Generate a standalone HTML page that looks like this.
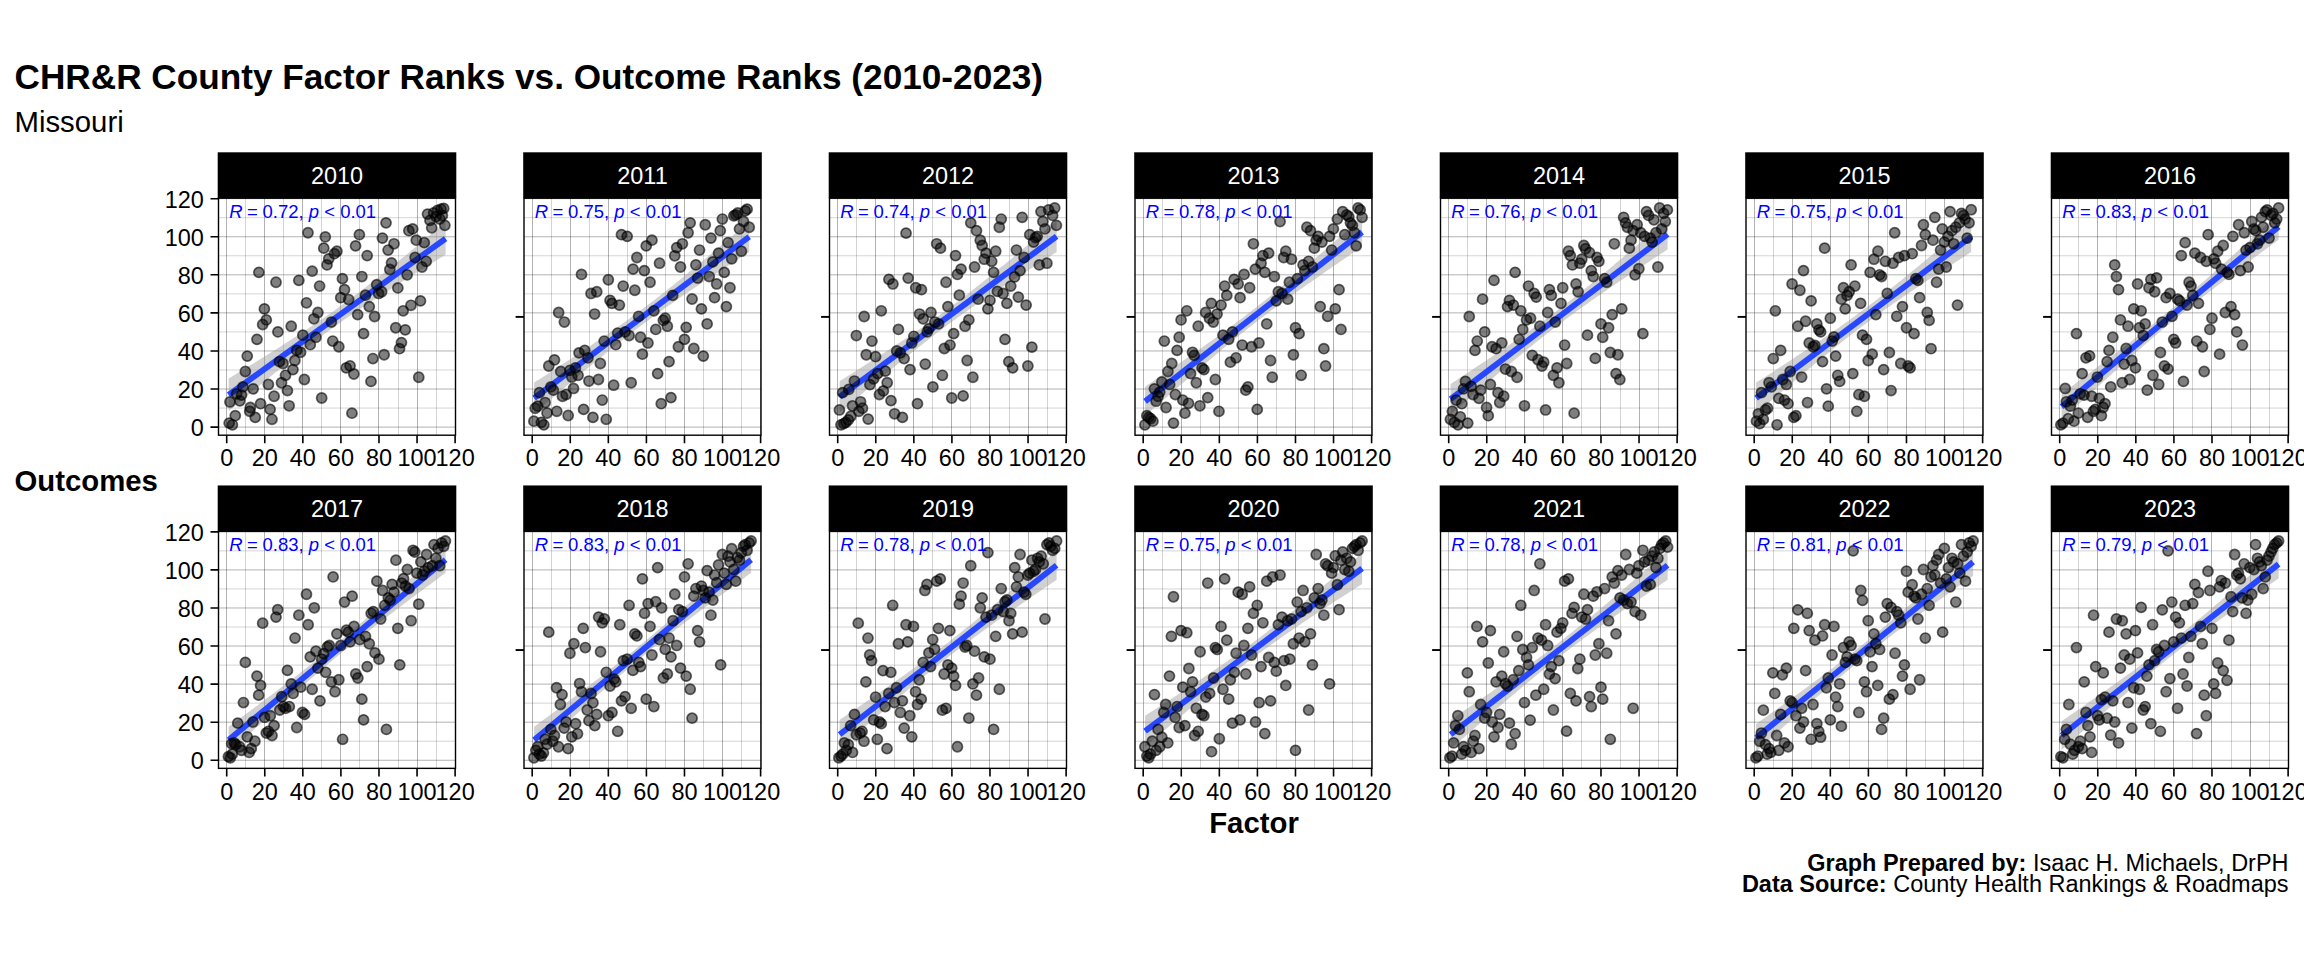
<!DOCTYPE html>
<html lang="en"><head><meta charset="utf-8"><title>CHR&amp;R County Factor Ranks vs. Outcome Ranks (2010-2023) - Missouri</title>
<style>html,body{margin:0;padding:0;background:#fff;width:2304px;height:960px;overflow:hidden}svg{display:block}</style></head>
<body>
<svg width="2304" height="960" viewBox="0 0 2304 960" font-family="Liberation Sans, Arial, Helvetica, sans-serif">
<rect width="2304" height="960" fill="#fff"/>
<text x="14.5" y="89.3" font-size="35.2" font-weight="bold" fill="#000">CHR&amp;R County Factor Ranks vs. Outcome Ranks (2010-2023)</text>
<text x="14.5" y="132" font-size="29.33" fill="#000">Missouri</text>
<text x="14.5" y="491" font-size="29.33" font-weight="bold" fill="#000">Outcomes</text>
<text x="1254" y="833.2" font-size="29.33" font-weight="bold" text-anchor="middle" fill="#000">Factor</text>
<text x="2288.5" y="871" font-size="23.47" text-anchor="end" fill="#000"><tspan font-weight="bold">Graph Prepared by:</tspan> Isaac H. Michaels, DrPH</text>
<text x="2288.5" y="892" font-size="23.47" text-anchor="end" fill="#000"><tspan font-weight="bold">Data Source:</tspan> County Health Rankings &amp; Roadmaps</text>
<g>
<rect x="218.5" y="198.2" width="237" height="237" fill="#fff"/>
<path d="M245.5 198.2V435.2M218.5 408.06H455.5M283.5 198.2V435.2M218.5 369.99H455.5M321.5 198.2V435.2M218.5 331.92H455.5M359.5 198.2V435.2M218.5 293.85H455.5M398.5 198.2V435.2M218.5 255.78H455.5M436.5 198.2V435.2M218.5 217.71H455.5" stroke="#000" stroke-opacity="0.17" stroke-width="1" fill="none"/>
<path d="M226.5 198.2V435.2M218.5 427.1H455.5M264.5 198.2V435.2M218.5 389.03H455.5M302.5 198.2V435.2M218.5 350.96H455.5M340.5 198.2V435.2M218.5 312.89H455.5M378.5 198.2V435.2M218.5 274.82H455.5M417.5 198.2V435.2M218.5 236.75H455.5M455.5 198.2V435.2M218.5 198.68H455.5" stroke="#000" stroke-opacity="0.3" stroke-width="1" fill="none"/>
<path d="M228.6 378.58 L231.32 376.93 L234.03 375.27 L236.74 373.62 L239.45 371.96 L242.17 370.3 L244.88 368.64 L247.59 366.97 L250.3 365.31 L253.02 363.64 L255.73 361.96 L258.44 360.28 L261.15 358.6 L263.87 356.92 L266.58 355.23 L269.29 353.53 L272 351.83 L274.72 350.13 L277.43 348.42 L280.14 346.71 L282.85 344.99 L285.57 343.26 L288.28 341.52 L290.99 339.78 L293.7 338.03 L296.42 336.27 L299.13 334.5 L301.84 332.73 L304.55 330.94 L307.27 329.14 L309.98 327.33 L312.69 325.51 L315.4 323.68 L318.12 321.83 L320.83 319.98 L323.54 318.1 L326.25 316.22 L328.97 314.32 L331.68 312.4 L334.39 310.47 L337.1 308.52 L339.82 306.56 L342.53 304.59 L345.24 302.6 L347.95 300.59 L350.67 298.57 L353.38 296.54 L356.09 294.49 L358.8 292.43 L361.52 290.36 L364.23 288.27 L366.94 286.18 L369.65 284.07 L372.37 281.95 L375.08 279.82 L377.79 277.68 L380.5 275.53 L383.22 273.38 L385.93 271.21 L388.64 269.04 L391.35 266.87 L394.07 264.68 L396.78 262.49 L399.49 260.29 L402.2 258.09 L404.92 255.88 L407.63 253.67 L410.34 251.46 L413.05 249.23 L415.77 247.01 L418.48 244.78 L421.19 242.55 L423.9 240.31 L426.62 238.08 L429.33 235.84 L432.04 233.59 L434.75 231.35 L437.47 229.1 L440.18 226.85 L442.89 224.59 L445.6 222.34 L445.6 254.82 L442.89 256.47 L440.18 258.12 L437.47 259.78 L434.75 261.43 L432.04 263.09 L429.33 264.75 L426.62 266.42 L423.9 268.09 L421.19 269.76 L418.48 271.43 L415.77 273.11 L413.05 274.79 L410.34 276.48 L407.63 278.17 L404.92 279.86 L402.2 281.56 L399.49 283.26 L396.78 284.97 L394.07 286.69 L391.35 288.41 L388.64 290.14 L385.93 291.87 L383.22 293.61 L380.5 295.36 L377.79 297.12 L375.08 298.89 L372.37 300.67 L369.65 302.45 L366.94 304.25 L364.23 306.06 L361.52 307.88 L358.8 309.71 L356.09 311.56 L353.38 313.42 L350.67 315.29 L347.95 317.18 L345.24 319.08 L342.53 320.99 L339.82 322.92 L337.1 324.87 L334.39 326.83 L331.68 328.81 L328.97 330.8 L326.25 332.8 L323.54 334.82 L320.83 336.85 L318.12 338.9 L315.4 340.96 L312.69 343.04 L309.98 345.12 L307.27 347.22 L304.55 349.33 L301.84 351.45 L299.13 353.57 L296.42 355.71 L293.7 357.86 L290.99 360.02 L288.28 362.18 L285.57 364.35 L282.85 366.53 L280.14 368.71 L277.43 370.9 L274.72 373.1 L272 375.3 L269.29 377.51 L266.58 379.72 L263.87 381.94 L261.15 384.16 L258.44 386.38 L255.73 388.61 L253.02 390.84 L250.3 393.08 L247.59 395.32 L244.88 397.56 L242.17 399.8 L239.45 402.05 L236.74 404.3 L234.03 406.55 L231.32 408.8 L228.6 411.06Z" fill="#999" fill-opacity="0.45"/>
<line x1="228.6" y1="394.82" x2="445.6" y2="238.58" stroke="#2748FF" stroke-width="5.9"/>
<g fill="#000" fill-opacity="0.5" stroke="#000" stroke-opacity="0.6" stroke-width="1.7">
<circle cx="229.17" cy="423.1" r="5.05"/>
<circle cx="232.41" cy="424.82" r="5.05"/>
<circle cx="235.27" cy="415.68" r="5.05"/>
<circle cx="229.94" cy="401.97" r="5.05"/>
<circle cx="239.83" cy="400.83" r="5.05"/>
<circle cx="236.6" cy="393.79" r="5.05"/>
<circle cx="241.55" cy="395.12" r="5.05"/>
<circle cx="242.88" cy="386.94" r="5.05"/>
<circle cx="245.35" cy="371.52" r="5.05"/>
<circle cx="247.26" cy="356.1" r="5.05"/>
<circle cx="253.16" cy="388.84" r="5.05"/>
<circle cx="250.3" cy="407.49" r="5.05"/>
<circle cx="249.73" cy="411.3" r="5.05"/>
<circle cx="255.25" cy="417.39" r="5.05"/>
<circle cx="260.58" cy="403.69" r="5.05"/>
<circle cx="268.39" cy="384.46" r="5.05"/>
<circle cx="270.1" cy="409.4" r="5.05"/>
<circle cx="272" cy="419.3" r="5.05"/>
<circle cx="274.1" cy="396.26" r="5.05"/>
<circle cx="256.97" cy="339.35" r="5.05"/>
<circle cx="262.68" cy="324.5" r="5.05"/>
<circle cx="266.29" cy="319.93" r="5.05"/>
<circle cx="264.39" cy="308.89" r="5.05"/>
<circle cx="258.87" cy="272.35" r="5.05"/>
<circle cx="276" cy="282.24" r="5.05"/>
<circle cx="277.9" cy="331.92" r="5.05"/>
<circle cx="279.43" cy="361.62" r="5.05"/>
<circle cx="283.04" cy="363.52" r="5.05"/>
<circle cx="281.52" cy="382.75" r="5.05"/>
<circle cx="285.52" cy="375.32" r="5.05"/>
<circle cx="287.42" cy="390.55" r="5.05"/>
<circle cx="289.13" cy="405.78" r="5.05"/>
<circle cx="292.94" cy="369.61" r="5.05"/>
<circle cx="294.85" cy="360.48" r="5.05"/>
<circle cx="296.75" cy="350.39" r="5.05"/>
<circle cx="300.56" cy="352.29" r="5.05"/>
<circle cx="291.23" cy="326.21" r="5.05"/>
<circle cx="302.84" cy="335.16" r="5.05"/>
<circle cx="304.36" cy="379.51" r="5.05"/>
<circle cx="298.84" cy="280.34" r="5.05"/>
<circle cx="306.46" cy="302.8" r="5.05"/>
<circle cx="310.26" cy="344.68" r="5.05"/>
<circle cx="315.97" cy="337.25" r="5.05"/>
<circle cx="313.88" cy="318.79" r="5.05"/>
<circle cx="317.88" cy="312.51" r="5.05"/>
<circle cx="319.59" cy="286.05" r="5.05"/>
<circle cx="312.17" cy="271.2" r="5.05"/>
<circle cx="307.98" cy="232.75" r="5.05"/>
<circle cx="321.68" cy="397.98" r="5.05"/>
<circle cx="325.3" cy="236.94" r="5.05"/>
<circle cx="323.78" cy="248.17" r="5.05"/>
<circle cx="328.73" cy="258.83" r="5.05"/>
<circle cx="327.01" cy="264.92" r="5.05"/>
<circle cx="334.44" cy="253.69" r="5.05"/>
<circle cx="336.91" cy="251.22" r="5.05"/>
<circle cx="331.39" cy="322.03" r="5.05"/>
<circle cx="332.72" cy="341.06" r="5.05"/>
<circle cx="338.82" cy="346.77" r="5.05"/>
<circle cx="340.72" cy="297.66" r="5.05"/>
<circle cx="344.53" cy="289.67" r="5.05"/>
<circle cx="342.43" cy="278.63" r="5.05"/>
<circle cx="348.71" cy="299.57" r="5.05"/>
<circle cx="346.24" cy="367.9" r="5.05"/>
<circle cx="350.05" cy="365.81" r="5.05"/>
<circle cx="353.85" cy="373.99" r="5.05"/>
<circle cx="351.95" cy="413.2" r="5.05"/>
<circle cx="355.57" cy="245.89" r="5.05"/>
<circle cx="359.37" cy="234.66" r="5.05"/>
<circle cx="357.66" cy="314.6" r="5.05"/>
<circle cx="361.85" cy="276.53" r="5.05"/>
<circle cx="365.47" cy="295.19" r="5.05"/>
<circle cx="367.18" cy="255.59" r="5.05"/>
<circle cx="363.56" cy="333.64" r="5.05"/>
<circle cx="369.27" cy="306.61" r="5.05"/>
<circle cx="374.6" cy="316.51" r="5.05"/>
<circle cx="372.89" cy="358.57" r="5.05"/>
<circle cx="370.99" cy="381.42" r="5.05"/>
<circle cx="376.7" cy="284.72" r="5.05"/>
<circle cx="378.6" cy="293.47" r="5.05"/>
<circle cx="381.64" cy="291.76" r="5.05"/>
<circle cx="382.41" cy="238.08" r="5.05"/>
<circle cx="386.02" cy="222.85" r="5.05"/>
<circle cx="388.12" cy="250.07" r="5.05"/>
<circle cx="394.02" cy="243.79" r="5.05"/>
<circle cx="391.54" cy="263.02" r="5.05"/>
<circle cx="389.83" cy="269.49" r="5.05"/>
<circle cx="384.12" cy="354.77" r="5.05"/>
<circle cx="395.73" cy="327.74" r="5.05"/>
<circle cx="397.82" cy="287.95" r="5.05"/>
<circle cx="399.54" cy="348.68" r="5.05"/>
<circle cx="401.44" cy="342.58" r="5.05"/>
<circle cx="405.25" cy="329.83" r="5.05"/>
<circle cx="403.15" cy="310.8" r="5.05"/>
<circle cx="407.15" cy="274.82" r="5.05"/>
<circle cx="408.86" cy="230.66" r="5.05"/>
<circle cx="412.67" cy="228.95" r="5.05"/>
<circle cx="410.96" cy="305.28" r="5.05"/>
<circle cx="415.15" cy="257.5" r="5.05"/>
<circle cx="416.29" cy="240.18" r="5.05"/>
<circle cx="420.48" cy="300.9" r="5.05"/>
<circle cx="418.76" cy="377.23" r="5.05"/>
<circle cx="422" cy="267.02" r="5.05"/>
<circle cx="424.28" cy="242.65" r="5.05"/>
<circle cx="426.19" cy="261.31" r="5.05"/>
<circle cx="427.52" cy="214.1" r="5.05"/>
<circle cx="429.99" cy="220.38" r="5.05"/>
<circle cx="431.71" cy="227.8" r="5.05"/>
<circle cx="433.61" cy="212.96" r="5.05"/>
<circle cx="436.08" cy="216.57" r="5.05"/>
<circle cx="437.42" cy="210.48" r="5.05"/>
<circle cx="439.89" cy="219.05" r="5.05"/>
<circle cx="441.03" cy="209.15" r="5.05"/>
<circle cx="443.7" cy="208.39" r="5.05"/>
<circle cx="444.84" cy="225.33" r="5.05"/>
<circle cx="442.37" cy="215.43" r="5.05"/>
</g>
<text x="229.3" y="217.9" font-size="18.5" fill="#0000FF"><tspan font-style="italic">R</tspan><tspan dx="-0.9"> = </tspan><tspan dx="-0.4">0.72,</tspan> <tspan font-style="italic">p</tspan> &lt; 0.01</text>
<rect x="218.5" y="198.2" width="237" height="237" fill="none" stroke="#000" stroke-width="1.4"/>
<rect x="217.7" y="152.3" width="238.6" height="45.9" fill="#000"/>
<text x="337" y="183.55" font-size="23.47" fill="#fff" text-anchor="middle">2010</text>
<path d="M226.7 435.2v8.1M264.77 435.2v8.1M302.84 435.2v8.1M340.91 435.2v8.1M378.98 435.2v8.1M417.05 435.2v8.1M455.12 435.2v8.1M218.5 427.1h-8M218.5 389.03h-8M218.5 350.96h-8M218.5 312.89h-8M218.5 274.82h-8M218.5 236.75h-8M218.5 198.68h-8" stroke="#000" stroke-width="1.6" fill="none"/>
<text x="226.7" y="466.4" font-size="23.47" text-anchor="middle" fill="#000">0</text>
<text x="264.77" y="466.4" font-size="23.47" text-anchor="middle" fill="#000">20</text>
<text x="302.84" y="466.4" font-size="23.47" text-anchor="middle" fill="#000">40</text>
<text x="340.91" y="466.4" font-size="23.47" text-anchor="middle" fill="#000">60</text>
<text x="378.98" y="466.4" font-size="23.47" text-anchor="middle" fill="#000">80</text>
<text x="417.05" y="466.4" font-size="23.47" text-anchor="middle" fill="#000">100</text>
<text x="455.12" y="466.4" font-size="23.47" text-anchor="middle" fill="#000">120</text>
<text x="203.8" y="436.2" font-size="23.47" text-anchor="end" fill="#000">0</text>
<text x="203.8" y="398.13" font-size="23.47" text-anchor="end" fill="#000">20</text>
<text x="203.8" y="360.06" font-size="23.47" text-anchor="end" fill="#000">40</text>
<text x="203.8" y="321.99" font-size="23.47" text-anchor="end" fill="#000">60</text>
<text x="203.8" y="283.92" font-size="23.47" text-anchor="end" fill="#000">80</text>
<text x="203.8" y="245.85" font-size="23.47" text-anchor="end" fill="#000">100</text>
<text x="203.8" y="207.78" font-size="23.47" text-anchor="end" fill="#000">120</text>
</g>
<g>
<rect x="524" y="198.2" width="237" height="237" fill="#fff"/>
<path d="M551.5 198.2V435.2M524 408.06H761M589.5 198.2V435.2M524 369.99H761M627.5 198.2V435.2M524 331.92H761M665.5 198.2V435.2M524 293.85H761M703.5 198.2V435.2M524 255.78H761M741.5 198.2V435.2M524 217.71H761" stroke="#000" stroke-opacity="0.17" stroke-width="1" fill="none"/>
<path d="M532.5 198.2V435.2M524 427.1H761M570.5 198.2V435.2M524 389.03H761M608.5 198.2V435.2M524 350.96H761M646.5 198.2V435.2M524 312.89H761M684.5 198.2V435.2M524 274.82H761M722.5 198.2V435.2M524 236.75H761M760.5 198.2V435.2M524 198.68H761" stroke="#000" stroke-opacity="0.3" stroke-width="1" fill="none"/>
<path d="M534.1 382.59 L536.79 380.86 L539.48 379.13 L542.17 377.39 L544.86 375.66 L547.55 373.92 L550.24 372.18 L552.92 370.43 L555.61 368.69 L558.3 366.94 L560.99 365.18 L563.68 363.43 L566.37 361.67 L569.06 359.9 L571.75 358.14 L574.43 356.37 L577.12 354.59 L579.81 352.81 L582.5 351.02 L585.19 349.23 L587.88 347.44 L590.57 345.63 L593.25 343.82 L595.94 342.01 L598.63 340.19 L601.32 338.35 L604.01 336.51 L606.7 334.67 L609.39 332.81 L612.08 330.94 L614.76 329.06 L617.45 327.18 L620.14 325.28 L622.83 323.36 L625.52 321.44 L628.21 319.5 L630.9 317.55 L633.59 315.59 L636.27 313.62 L638.96 311.62 L641.65 309.62 L644.34 307.6 L647.03 305.57 L649.72 303.52 L652.41 301.46 L655.09 299.39 L657.78 297.3 L660.47 295.2 L663.16 293.09 L665.85 290.96 L668.54 288.83 L671.23 286.68 L673.92 284.52 L676.6 282.35 L679.29 280.17 L681.98 277.98 L684.67 275.79 L687.36 273.58 L690.05 271.37 L692.74 269.15 L695.43 266.93 L698.11 264.7 L700.8 262.46 L703.49 260.21 L706.18 257.96 L708.87 255.71 L711.56 253.45 L714.25 251.19 L716.93 248.92 L719.62 246.65 L722.31 244.38 L725 242.1 L727.69 239.82 L730.38 237.53 L733.07 235.25 L735.76 232.96 L738.44 230.66 L741.13 228.37 L743.82 226.07 L746.51 223.77 L749.2 221.47 L749.2 252.03 L746.51 253.76 L743.82 255.49 L741.13 257.23 L738.44 258.97 L735.76 260.71 L733.07 262.45 L730.38 264.2 L727.69 265.95 L725 267.7 L722.31 269.45 L719.62 271.21 L716.93 272.98 L714.25 274.74 L711.56 276.51 L708.87 278.29 L706.18 280.06 L703.49 281.85 L700.8 283.64 L698.11 285.43 L695.43 287.23 L692.74 289.04 L690.05 290.85 L687.36 292.68 L684.67 294.5 L681.98 296.34 L679.29 298.19 L676.6 300.04 L673.92 301.91 L671.23 303.78 L668.54 305.67 L665.85 307.56 L663.16 309.47 L660.47 311.39 L657.78 313.32 L655.09 315.27 L652.41 317.23 L649.72 319.2 L647.03 321.19 L644.34 323.19 L641.65 325.2 L638.96 327.23 L636.27 329.27 L633.59 331.33 L630.9 333.4 L628.21 335.48 L625.52 337.58 L622.83 339.69 L620.14 341.81 L617.45 343.94 L614.76 346.09 L612.08 348.24 L609.39 350.41 L606.7 352.58 L604.01 354.77 L601.32 356.96 L598.63 359.17 L595.94 361.37 L593.25 363.59 L590.57 365.82 L587.88 368.05 L585.19 370.28 L582.5 372.52 L579.81 374.77 L577.12 377.03 L574.43 379.28 L571.75 381.54 L569.06 383.81 L566.37 386.08 L563.68 388.35 L560.99 390.63 L558.3 392.91 L555.61 395.19 L552.92 397.48 L550.24 399.77 L547.55 402.06 L544.86 404.35 L542.17 406.65 L539.48 408.95 L536.79 411.25 L534.1 413.55Z" fill="#999" fill-opacity="0.45"/>
<line x1="534.1" y1="398.07" x2="749.2" y2="236.75" stroke="#2748FF" stroke-width="5.9"/>
<g fill="#000" fill-opacity="0.5" stroke="#000" stroke-opacity="0.6" stroke-width="1.7">
<circle cx="533.91" cy="421.2" r="5.05"/>
<circle cx="541.34" cy="422.34" r="5.05"/>
<circle cx="543.81" cy="424.82" r="5.05"/>
<circle cx="535.25" cy="408.26" r="5.05"/>
<circle cx="537.72" cy="406.16" r="5.05"/>
<circle cx="545.14" cy="402.54" r="5.05"/>
<circle cx="547.05" cy="413.01" r="5.05"/>
<circle cx="539.43" cy="392.65" r="5.05"/>
<circle cx="550.85" cy="386.94" r="5.05"/>
<circle cx="553.33" cy="390.17" r="5.05"/>
<circle cx="548.76" cy="366" r="5.05"/>
<circle cx="554.47" cy="359.91" r="5.05"/>
<circle cx="556.76" cy="411.3" r="5.05"/>
<circle cx="560.75" cy="371.52" r="5.05"/>
<circle cx="562.47" cy="396.26" r="5.05"/>
<circle cx="566.08" cy="394.55" r="5.05"/>
<circle cx="558.66" cy="312.51" r="5.05"/>
<circle cx="564.37" cy="322.03" r="5.05"/>
<circle cx="568.18" cy="415.49" r="5.05"/>
<circle cx="569.89" cy="370.38" r="5.05"/>
<circle cx="571.79" cy="377.04" r="5.05"/>
<circle cx="573.51" cy="388.46" r="5.05"/>
<circle cx="575.41" cy="367.9" r="5.05"/>
<circle cx="578.07" cy="375.32" r="5.05"/>
<circle cx="579.03" cy="352.86" r="5.05"/>
<circle cx="583.59" cy="409.4" r="5.05"/>
<circle cx="584.74" cy="350.39" r="5.05"/>
<circle cx="587.97" cy="357.81" r="5.05"/>
<circle cx="588.92" cy="381.04" r="5.05"/>
<circle cx="581.5" cy="274.44" r="5.05"/>
<circle cx="591.02" cy="293.47" r="5.05"/>
<circle cx="592.92" cy="417.39" r="5.05"/>
<circle cx="594.63" cy="314.03" r="5.05"/>
<circle cx="596.73" cy="291.76" r="5.05"/>
<circle cx="598.44" cy="379.51" r="5.05"/>
<circle cx="600.35" cy="363.52" r="5.05"/>
<circle cx="602.25" cy="400.07" r="5.05"/>
<circle cx="604.15" cy="341.06" r="5.05"/>
<circle cx="606.25" cy="419.3" r="5.05"/>
<circle cx="608.34" cy="279.77" r="5.05"/>
<circle cx="610.05" cy="300.33" r="5.05"/>
<circle cx="611.96" cy="303.37" r="5.05"/>
<circle cx="613.67" cy="385.22" r="5.05"/>
<circle cx="615.76" cy="344.68" r="5.05"/>
<circle cx="617.67" cy="333.07" r="5.05"/>
<circle cx="619.38" cy="305.09" r="5.05"/>
<circle cx="621.47" cy="234.66" r="5.05"/>
<circle cx="623.19" cy="286.05" r="5.05"/>
<circle cx="625.09" cy="331.92" r="5.05"/>
<circle cx="627.18" cy="236.37" r="5.05"/>
<circle cx="629.09" cy="335.54" r="5.05"/>
<circle cx="631.18" cy="382.75" r="5.05"/>
<circle cx="633.09" cy="269.11" r="5.05"/>
<circle cx="634.8" cy="290.24" r="5.05"/>
<circle cx="636.89" cy="257.5" r="5.05"/>
<circle cx="638.61" cy="316.32" r="5.05"/>
<circle cx="640.51" cy="337.25" r="5.05"/>
<circle cx="642.41" cy="354.2" r="5.05"/>
<circle cx="644.32" cy="270.63" r="5.05"/>
<circle cx="646.22" cy="245.89" r="5.05"/>
<circle cx="647.93" cy="342.97" r="5.05"/>
<circle cx="650.03" cy="282.24" r="5.05"/>
<circle cx="651.93" cy="240.18" r="5.05"/>
<circle cx="653.83" cy="310.8" r="5.05"/>
<circle cx="655.74" cy="329.45" r="5.05"/>
<circle cx="657.64" cy="373.61" r="5.05"/>
<circle cx="659.54" cy="263.21" r="5.05"/>
<circle cx="661.26" cy="403.69" r="5.05"/>
<circle cx="663.35" cy="320.31" r="5.05"/>
<circle cx="665.25" cy="318.22" r="5.05"/>
<circle cx="667.35" cy="326.21" r="5.05"/>
<circle cx="669.06" cy="361.62" r="5.05"/>
<circle cx="670.97" cy="397.6" r="5.05"/>
<circle cx="672.68" cy="295.38" r="5.05"/>
<circle cx="674.77" cy="255.78" r="5.05"/>
<circle cx="676.68" cy="247.6" r="5.05"/>
<circle cx="678.39" cy="346.77" r="5.05"/>
<circle cx="680.48" cy="267.02" r="5.05"/>
<circle cx="682.39" cy="243.79" r="5.05"/>
<circle cx="684.48" cy="339.35" r="5.05"/>
<circle cx="686.19" cy="327.36" r="5.05"/>
<circle cx="688.1" cy="232.75" r="5.05"/>
<circle cx="690.19" cy="222.85" r="5.05"/>
<circle cx="692.09" cy="298.99" r="5.05"/>
<circle cx="693.81" cy="348.49" r="5.05"/>
<circle cx="695.9" cy="264.92" r="5.05"/>
<circle cx="697.61" cy="278.06" r="5.05"/>
<circle cx="699.52" cy="250.07" r="5.05"/>
<circle cx="701.42" cy="308.89" r="5.05"/>
<circle cx="703.32" cy="356.1" r="5.05"/>
<circle cx="705.23" cy="224.76" r="5.05"/>
<circle cx="707.13" cy="323.93" r="5.05"/>
<circle cx="709.23" cy="276.53" r="5.05"/>
<circle cx="710.94" cy="238.08" r="5.05"/>
<circle cx="712.84" cy="261.88" r="5.05"/>
<circle cx="714.56" cy="297.66" r="5.05"/>
<circle cx="716.65" cy="283.96" r="5.05"/>
<circle cx="718.55" cy="253.12" r="5.05"/>
<circle cx="720.27" cy="230.66" r="5.05"/>
<circle cx="722.36" cy="219.05" r="5.05"/>
<circle cx="724.26" cy="272.35" r="5.05"/>
<circle cx="726.36" cy="306.61" r="5.05"/>
<circle cx="728.07" cy="242.65" r="5.05"/>
<circle cx="729.97" cy="287.76" r="5.05"/>
<circle cx="731.69" cy="258.83" r="5.05"/>
<circle cx="733.78" cy="215.81" r="5.05"/>
<circle cx="735.68" cy="214.86" r="5.05"/>
<circle cx="737.78" cy="212.96" r="5.05"/>
<circle cx="739.49" cy="228.95" r="5.05"/>
<circle cx="741.39" cy="251.22" r="5.05"/>
<circle cx="743.49" cy="221.52" r="5.05"/>
<circle cx="745.2" cy="210.86" r="5.05"/>
<circle cx="747.11" cy="209.15" r="5.05"/>
<circle cx="749.2" cy="227.23" r="5.05"/>
</g>
<text x="534.8" y="217.9" font-size="18.5" fill="#0000FF"><tspan font-style="italic">R</tspan><tspan dx="-0.9"> = </tspan><tspan dx="-0.4">0.75,</tspan> <tspan font-style="italic">p</tspan> &lt; 0.01</text>
<rect x="524" y="198.2" width="237" height="237" fill="none" stroke="#000" stroke-width="1.4"/>
<rect x="523.2" y="152.3" width="238.6" height="45.9" fill="#000"/>
<text x="642.5" y="183.55" font-size="23.47" fill="#fff" text-anchor="middle">2011</text>
<path d="M524 316.9h-8.4" stroke="#000" stroke-width="1.9" fill="none"/>
<path d="M532.2 435.2v8.1M570.27 435.2v8.1M608.34 435.2v8.1M646.41 435.2v8.1M684.48 435.2v8.1M722.55 435.2v8.1M760.62 435.2v8.1" stroke="#000" stroke-width="1.6" fill="none"/>
<text x="532.2" y="466.4" font-size="23.47" text-anchor="middle" fill="#000">0</text>
<text x="570.27" y="466.4" font-size="23.47" text-anchor="middle" fill="#000">20</text>
<text x="608.34" y="466.4" font-size="23.47" text-anchor="middle" fill="#000">40</text>
<text x="646.41" y="466.4" font-size="23.47" text-anchor="middle" fill="#000">60</text>
<text x="684.48" y="466.4" font-size="23.47" text-anchor="middle" fill="#000">80</text>
<text x="722.55" y="466.4" font-size="23.47" text-anchor="middle" fill="#000">100</text>
<text x="760.62" y="466.4" font-size="23.47" text-anchor="middle" fill="#000">120</text>
</g>
<g>
<rect x="829.5" y="198.2" width="237" height="237" fill="#fff"/>
<path d="M856.5 198.2V435.2M829.5 408.06H1066.5M894.5 198.2V435.2M829.5 369.99H1066.5M932.5 198.2V435.2M829.5 331.92H1066.5M970.5 198.2V435.2M829.5 293.85H1066.5M1009.5 198.2V435.2M829.5 255.78H1066.5M1047.5 198.2V435.2M829.5 217.71H1066.5" stroke="#000" stroke-opacity="0.17" stroke-width="1" fill="none"/>
<path d="M837.5 198.2V435.2M829.5 427.1H1066.5M875.5 198.2V435.2M829.5 389.03H1066.5M913.5 198.2V435.2M829.5 350.96H1066.5M951.5 198.2V435.2M829.5 312.89H1066.5M989.5 198.2V435.2M829.5 274.82H1066.5M1028.5 198.2V435.2M829.5 236.75H1066.5M1066.5 198.2V435.2M829.5 198.68H1066.5" stroke="#000" stroke-opacity="0.3" stroke-width="1" fill="none"/>
<path d="M839.6 381.25 L842.32 379.53 L845.03 377.82 L847.74 376.1 L850.45 374.38 L853.17 372.65 L855.88 370.93 L858.59 369.2 L861.3 367.47 L864.02 365.74 L866.73 364 L869.44 362.26 L872.15 360.51 L874.87 358.77 L877.58 357.01 L880.29 355.26 L883 353.5 L885.72 351.73 L888.43 349.96 L891.14 348.18 L893.85 346.4 L896.57 344.61 L899.28 342.82 L901.99 341.01 L904.7 339.2 L907.42 337.38 L910.13 335.56 L912.84 333.72 L915.55 331.87 L918.27 330.02 L920.98 328.15 L923.69 326.27 L926.4 324.38 L929.12 322.48 L931.83 320.56 L934.54 318.63 L937.25 316.69 L939.97 314.73 L942.68 312.76 L945.39 310.78 L948.1 308.78 L950.82 306.76 L953.53 304.73 L956.24 302.69 L958.95 300.63 L961.67 298.56 L964.38 296.47 L967.09 294.38 L969.8 292.26 L972.52 290.14 L975.23 288 L977.94 285.86 L980.65 283.7 L983.37 281.53 L986.08 279.35 L988.79 277.17 L991.5 274.97 L994.22 272.77 L996.93 270.56 L999.64 268.34 L1002.35 266.11 L1005.07 263.88 L1007.78 261.64 L1010.49 259.4 L1013.2 257.15 L1015.92 254.9 L1018.63 252.64 L1021.34 250.38 L1024.05 248.11 L1026.77 245.84 L1029.48 243.56 L1032.19 241.29 L1034.9 239.01 L1037.62 236.72 L1040.33 234.44 L1043.04 232.15 L1045.75 229.86 L1048.47 227.56 L1051.18 225.27 L1053.89 222.97 L1056.6 220.67 L1056.6 252.15 L1053.89 253.86 L1051.18 255.58 L1048.47 257.3 L1045.75 259.02 L1043.04 260.74 L1040.33 262.47 L1037.62 264.19 L1034.9 265.92 L1032.19 267.66 L1029.48 269.4 L1026.77 271.14 L1024.05 272.88 L1021.34 274.63 L1018.63 276.38 L1015.92 278.14 L1013.2 279.9 L1010.49 281.66 L1007.78 283.43 L1005.07 285.21 L1002.35 286.99 L999.64 288.78 L996.93 290.58 L994.22 292.38 L991.5 294.19 L988.79 296.01 L986.08 297.84 L983.37 299.67 L980.65 301.52 L977.94 303.38 L975.23 305.24 L972.52 307.12 L969.8 309.01 L967.09 310.92 L964.38 312.83 L961.67 314.76 L958.95 316.71 L956.24 318.66 L953.53 320.63 L950.82 322.62 L948.1 324.62 L945.39 326.63 L942.68 328.66 L939.97 330.71 L937.25 332.76 L934.54 334.83 L931.83 336.92 L929.12 339.02 L926.4 341.13 L923.69 343.25 L920.98 345.39 L918.27 347.54 L915.55 349.69 L912.84 351.86 L910.13 354.04 L907.42 356.23 L904.7 358.42 L901.99 360.63 L899.28 362.84 L896.57 365.06 L893.85 367.28 L891.14 369.51 L888.43 371.75 L885.72 374 L883 376.24 L880.29 378.5 L877.58 380.76 L874.87 383.02 L872.15 385.28 L869.44 387.56 L866.73 389.83 L864.02 392.11 L861.3 394.39 L858.59 396.67 L855.88 398.96 L853.17 401.25 L850.45 403.54 L847.74 405.83 L845.03 408.13 L842.32 410.43 L839.6 412.73Z" fill="#999" fill-opacity="0.45"/>
<line x1="839.6" y1="396.99" x2="1056.6" y2="236.41" stroke="#2748FF" stroke-width="5.9"/>
<g fill="#000" fill-opacity="0.5" stroke="#000" stroke-opacity="0.6" stroke-width="1.7">
<circle cx="839.41" cy="409.97" r="5.05"/>
<circle cx="840.94" cy="424.82" r="5.05"/>
<circle cx="843.79" cy="423.67" r="5.05"/>
<circle cx="845.89" cy="422.34" r="5.05"/>
<circle cx="848.36" cy="419.87" r="5.05"/>
<circle cx="850.83" cy="416.25" r="5.05"/>
<circle cx="842.65" cy="392.65" r="5.05"/>
<circle cx="848.74" cy="389.41" r="5.05"/>
<circle cx="852.55" cy="405.78" r="5.05"/>
<circle cx="854.45" cy="381.04" r="5.05"/>
<circle cx="856.35" cy="335.54" r="5.05"/>
<circle cx="858.83" cy="411.3" r="5.05"/>
<circle cx="860.54" cy="401.78" r="5.05"/>
<circle cx="862.45" cy="408.26" r="5.05"/>
<circle cx="864.16" cy="316.51" r="5.05"/>
<circle cx="866.25" cy="354.77" r="5.05"/>
<circle cx="868.16" cy="419.11" r="5.05"/>
<circle cx="869.87" cy="384.65" r="5.05"/>
<circle cx="871.96" cy="341.06" r="5.05"/>
<circle cx="873.68" cy="378.94" r="5.05"/>
<circle cx="875.58" cy="356.67" r="5.05"/>
<circle cx="877.67" cy="373.61" r="5.05"/>
<circle cx="879.39" cy="394.55" r="5.05"/>
<circle cx="881.29" cy="310.8" r="5.05"/>
<circle cx="883.38" cy="390.93" r="5.05"/>
<circle cx="885.29" cy="371.14" r="5.05"/>
<circle cx="887.19" cy="382.75" r="5.05"/>
<circle cx="888.9" cy="279.39" r="5.05"/>
<circle cx="891" cy="400.64" r="5.05"/>
<circle cx="892.9" cy="283.96" r="5.05"/>
<circle cx="894.61" cy="413.78" r="5.05"/>
<circle cx="896.71" cy="350.96" r="5.05"/>
<circle cx="898.42" cy="329.45" r="5.05"/>
<circle cx="900.33" cy="352.86" r="5.05"/>
<circle cx="902.42" cy="417.39" r="5.05"/>
<circle cx="904.13" cy="358.57" r="5.05"/>
<circle cx="906.04" cy="233.13" r="5.05"/>
<circle cx="908.13" cy="278.06" r="5.05"/>
<circle cx="910.03" cy="369.61" r="5.05"/>
<circle cx="911.75" cy="342.97" r="5.05"/>
<circle cx="913.84" cy="336.3" r="5.05"/>
<circle cx="915.74" cy="287.76" r="5.05"/>
<circle cx="917.46" cy="403.69" r="5.05"/>
<circle cx="919.55" cy="314.03" r="5.05"/>
<circle cx="921.45" cy="289.67" r="5.05"/>
<circle cx="923.17" cy="318.79" r="5.05"/>
<circle cx="925.26" cy="364.09" r="5.05"/>
<circle cx="927.16" cy="331.92" r="5.05"/>
<circle cx="928.88" cy="328.69" r="5.05"/>
<circle cx="930.97" cy="312.51" r="5.05"/>
<circle cx="932.88" cy="386.94" r="5.05"/>
<circle cx="934.78" cy="322.03" r="5.05"/>
<circle cx="936.68" cy="243.79" r="5.05"/>
<circle cx="938.59" cy="323.93" r="5.05"/>
<circle cx="940.49" cy="248.17" r="5.05"/>
<circle cx="942.39" cy="375.32" r="5.05"/>
<circle cx="944.3" cy="348.49" r="5.05"/>
<circle cx="946.01" cy="282.24" r="5.05"/>
<circle cx="947.91" cy="306.61" r="5.05"/>
<circle cx="950.01" cy="345.06" r="5.05"/>
<circle cx="951.72" cy="397.98" r="5.05"/>
<circle cx="953.62" cy="333.64" r="5.05"/>
<circle cx="955.53" cy="255.59" r="5.05"/>
<circle cx="957.43" cy="274.44" r="5.05"/>
<circle cx="959.33" cy="295.19" r="5.05"/>
<circle cx="961.05" cy="269.11" r="5.05"/>
<circle cx="963.14" cy="395.88" r="5.05"/>
<circle cx="965.04" cy="326.21" r="5.05"/>
<circle cx="967.14" cy="360.48" r="5.05"/>
<circle cx="968.85" cy="319.93" r="5.05"/>
<circle cx="970.75" cy="222.85" r="5.05"/>
<circle cx="972.85" cy="377.23" r="5.05"/>
<circle cx="974.56" cy="267.02" r="5.05"/>
<circle cx="976.47" cy="230.66" r="5.05"/>
<circle cx="978.18" cy="299.18" r="5.05"/>
<circle cx="980.27" cy="240.18" r="5.05"/>
<circle cx="982.18" cy="245.51" r="5.05"/>
<circle cx="984.27" cy="259.21" r="5.05"/>
<circle cx="985.98" cy="253.12" r="5.05"/>
<circle cx="987.89" cy="308.89" r="5.05"/>
<circle cx="989.98" cy="300.33" r="5.05"/>
<circle cx="991.69" cy="261.31" r="5.05"/>
<circle cx="993.6" cy="272.35" r="5.05"/>
<circle cx="995.69" cy="251.22" r="5.05"/>
<circle cx="997.4" cy="291.38" r="5.05"/>
<circle cx="999.31" cy="227.23" r="5.05"/>
<circle cx="1001.21" cy="219.05" r="5.05"/>
<circle cx="1003.11" cy="293.47" r="5.05"/>
<circle cx="1005.02" cy="339.35" r="5.05"/>
<circle cx="1006.92" cy="303.37" r="5.05"/>
<circle cx="1008.82" cy="361.62" r="5.05"/>
<circle cx="1010.73" cy="286.05" r="5.05"/>
<circle cx="1012.63" cy="367.9" r="5.05"/>
<circle cx="1014.54" cy="276.91" r="5.05"/>
<circle cx="1016.44" cy="250.07" r="5.05"/>
<circle cx="1018.34" cy="297.09" r="5.05"/>
<circle cx="1020.06" cy="270.63" r="5.05"/>
<circle cx="1022.15" cy="217.33" r="5.05"/>
<circle cx="1024.05" cy="257.5" r="5.05"/>
<circle cx="1026.15" cy="305.09" r="5.05"/>
<circle cx="1027.86" cy="366" r="5.05"/>
<circle cx="1029.76" cy="234.66" r="5.05"/>
<circle cx="1031.86" cy="347.15" r="5.05"/>
<circle cx="1033.57" cy="242.08" r="5.05"/>
<circle cx="1035.47" cy="237.7" r="5.05"/>
<circle cx="1037.19" cy="236.37" r="5.05"/>
<circle cx="1039.28" cy="264.92" r="5.05"/>
<circle cx="1040.99" cy="211.62" r="5.05"/>
<circle cx="1042.9" cy="221.52" r="5.05"/>
<circle cx="1044.99" cy="228.95" r="5.05"/>
<circle cx="1046.89" cy="263.21" r="5.05"/>
<circle cx="1048.61" cy="209.91" r="5.05"/>
<circle cx="1052.61" cy="215.43" r="5.05"/>
<circle cx="1054.7" cy="208.01" r="5.05"/>
<circle cx="1056.41" cy="225.33" r="5.05"/>
</g>
<text x="840.3" y="217.9" font-size="18.5" fill="#0000FF"><tspan font-style="italic">R</tspan><tspan dx="-0.9"> = </tspan><tspan dx="-0.4">0.74,</tspan> <tspan font-style="italic">p</tspan> &lt; 0.01</text>
<rect x="829.5" y="198.2" width="237" height="237" fill="none" stroke="#000" stroke-width="1.4"/>
<rect x="828.7" y="152.3" width="238.6" height="45.9" fill="#000"/>
<text x="948" y="183.55" font-size="23.47" fill="#fff" text-anchor="middle">2012</text>
<path d="M829.5 316.9h-8.4" stroke="#000" stroke-width="1.9" fill="none"/>
<path d="M837.7 435.2v8.1M875.77 435.2v8.1M913.84 435.2v8.1M951.91 435.2v8.1M989.98 435.2v8.1M1028.05 435.2v8.1M1066.12 435.2v8.1" stroke="#000" stroke-width="1.6" fill="none"/>
<text x="837.7" y="466.4" font-size="23.47" text-anchor="middle" fill="#000">0</text>
<text x="875.77" y="466.4" font-size="23.47" text-anchor="middle" fill="#000">20</text>
<text x="913.84" y="466.4" font-size="23.47" text-anchor="middle" fill="#000">40</text>
<text x="951.91" y="466.4" font-size="23.47" text-anchor="middle" fill="#000">60</text>
<text x="989.98" y="466.4" font-size="23.47" text-anchor="middle" fill="#000">80</text>
<text x="1028.05" y="466.4" font-size="23.47" text-anchor="middle" fill="#000">100</text>
<text x="1066.12" y="466.4" font-size="23.47" text-anchor="middle" fill="#000">120</text>
</g>
<g>
<rect x="1135" y="198.2" width="237" height="237" fill="#fff"/>
<path d="M1162.5 198.2V435.2M1135 408.06H1372M1200.5 198.2V435.2M1135 369.99H1372M1238.5 198.2V435.2M1135 331.92H1372M1276.5 198.2V435.2M1135 293.85H1372M1314.5 198.2V435.2M1135 255.78H1372M1352.5 198.2V435.2M1135 217.71H1372" stroke="#000" stroke-opacity="0.17" stroke-width="1" fill="none"/>
<path d="M1143.5 198.2V435.2M1135 427.1H1372M1181.5 198.2V435.2M1135 389.03H1372M1219.5 198.2V435.2M1135 350.96H1372M1257.5 198.2V435.2M1135 312.89H1372M1295.5 198.2V435.2M1135 274.82H1372M1333.5 198.2V435.2M1135 236.75H1372M1371.5 198.2V435.2M1135 198.68H1372" stroke="#000" stroke-opacity="0.3" stroke-width="1" fill="none"/>
<path d="M1145.1 386.68 L1147.82 384.84 L1150.53 382.99 L1153.24 381.15 L1155.95 379.3 L1158.67 377.45 L1161.38 375.59 L1164.09 373.74 L1166.8 371.88 L1169.52 370.02 L1172.23 368.15 L1174.94 366.29 L1177.65 364.41 L1180.37 362.54 L1183.08 360.66 L1185.79 358.78 L1188.5 356.89 L1191.22 355 L1193.93 353.11 L1196.64 351.21 L1199.35 349.3 L1202.07 347.39 L1204.78 345.47 L1207.49 343.54 L1210.2 341.61 L1212.92 339.67 L1215.63 337.72 L1218.34 335.76 L1221.05 333.8 L1223.77 331.82 L1226.48 329.83 L1229.19 327.84 L1231.9 325.83 L1234.62 323.81 L1237.33 321.78 L1240.04 319.74 L1242.75 317.68 L1245.47 315.61 L1248.18 313.53 L1250.89 311.44 L1253.6 309.33 L1256.32 307.2 L1259.03 305.07 L1261.74 302.92 L1264.45 300.76 L1267.17 298.58 L1269.88 296.39 L1272.59 294.19 L1275.3 291.98 L1278.02 289.75 L1280.73 287.52 L1283.44 285.27 L1286.15 283.02 L1288.87 280.75 L1291.58 278.48 L1294.29 276.2 L1297 273.9 L1299.72 271.61 L1302.43 269.3 L1305.14 266.99 L1307.85 264.67 L1310.57 262.34 L1313.28 260.01 L1315.99 257.68 L1318.7 255.34 L1321.42 252.99 L1324.13 250.64 L1326.84 248.29 L1329.55 245.93 L1332.27 243.57 L1334.98 241.21 L1337.69 238.84 L1340.4 236.47 L1343.12 234.1 L1345.83 231.72 L1348.54 229.35 L1351.25 226.96 L1353.97 224.58 L1356.68 222.2 L1359.39 219.81 L1362.1 217.42 L1362.1 246.71 L1359.39 248.55 L1356.68 250.4 L1353.97 252.25 L1351.25 254.1 L1348.54 255.95 L1345.83 257.8 L1343.12 259.66 L1340.4 261.52 L1337.69 263.38 L1334.98 265.24 L1332.27 267.11 L1329.55 268.98 L1326.84 270.85 L1324.13 272.73 L1321.42 274.61 L1318.7 276.5 L1315.99 278.39 L1313.28 280.29 L1310.57 282.19 L1307.85 284.1 L1305.14 286.01 L1302.43 287.93 L1299.72 289.85 L1297 291.79 L1294.29 293.73 L1291.58 295.67 L1288.87 297.63 L1286.15 299.6 L1283.44 301.57 L1280.73 303.56 L1278.02 305.56 L1275.3 307.56 L1272.59 309.58 L1269.88 311.61 L1267.17 313.66 L1264.45 315.71 L1261.74 317.78 L1259.03 319.86 L1256.32 321.96 L1253.6 324.07 L1250.89 326.19 L1248.18 328.33 L1245.47 330.47 L1242.75 332.64 L1240.04 334.81 L1237.33 337 L1234.62 339.2 L1231.9 341.42 L1229.19 343.64 L1226.48 345.87 L1223.77 348.12 L1221.05 350.38 L1218.34 352.64 L1215.63 354.92 L1212.92 357.2 L1210.2 359.49 L1207.49 361.79 L1204.78 364.09 L1202.07 366.41 L1199.35 368.73 L1196.64 371.05 L1193.93 373.38 L1191.22 375.72 L1188.5 378.06 L1185.79 380.4 L1183.08 382.75 L1180.37 385.1 L1177.65 387.46 L1174.94 389.82 L1172.23 392.19 L1169.52 394.55 L1166.8 396.92 L1164.09 399.3 L1161.38 401.67 L1158.67 404.05 L1155.95 406.43 L1153.24 408.81 L1150.53 411.2 L1147.82 413.58 L1145.1 415.97Z" fill="#999" fill-opacity="0.45"/>
<line x1="1145.1" y1="401.33" x2="1362.1" y2="232.07" stroke="#2748FF" stroke-width="5.9"/>
<g fill="#000" fill-opacity="0.5" stroke="#000" stroke-opacity="0.6" stroke-width="1.7">
<circle cx="1144.91" cy="424.82" r="5.05"/>
<circle cx="1146.82" cy="415.68" r="5.05"/>
<circle cx="1148.72" cy="417.39" r="5.05"/>
<circle cx="1150.62" cy="418.72" r="5.05"/>
<circle cx="1152.91" cy="421.2" r="5.05"/>
<circle cx="1154.43" cy="388.84" r="5.05"/>
<circle cx="1156.14" cy="401.21" r="5.05"/>
<circle cx="1158.05" cy="396.26" r="5.05"/>
<circle cx="1159.76" cy="392.08" r="5.05"/>
<circle cx="1161.85" cy="381.99" r="5.05"/>
<circle cx="1164.33" cy="341.06" r="5.05"/>
<circle cx="1166.04" cy="407.49" r="5.05"/>
<circle cx="1167.95" cy="371.52" r="5.05"/>
<circle cx="1169.66" cy="384.46" r="5.05"/>
<circle cx="1171.75" cy="363.52" r="5.05"/>
<circle cx="1173.47" cy="423.1" r="5.05"/>
<circle cx="1175.37" cy="394.55" r="5.05"/>
<circle cx="1177.08" cy="350.39" r="5.05"/>
<circle cx="1179.18" cy="337.25" r="5.05"/>
<circle cx="1181.08" cy="319.93" r="5.05"/>
<circle cx="1182.79" cy="400.07" r="5.05"/>
<circle cx="1184.89" cy="413.2" r="5.05"/>
<circle cx="1186.79" cy="310.8" r="5.05"/>
<circle cx="1188.5" cy="403.31" r="5.05"/>
<circle cx="1190.6" cy="373.61" r="5.05"/>
<circle cx="1192.5" cy="352.29" r="5.05"/>
<circle cx="1194.21" cy="355.34" r="5.05"/>
<circle cx="1196.31" cy="382.75" r="5.05"/>
<circle cx="1198.21" cy="326.21" r="5.05"/>
<circle cx="1199.92" cy="405.78" r="5.05"/>
<circle cx="1202.02" cy="367.9" r="5.05"/>
<circle cx="1203.92" cy="369.61" r="5.05"/>
<circle cx="1205.63" cy="312.51" r="5.05"/>
<circle cx="1207.73" cy="397.6" r="5.05"/>
<circle cx="1209.44" cy="318.22" r="5.05"/>
<circle cx="1211.35" cy="303.37" r="5.05"/>
<circle cx="1213.25" cy="322.03" r="5.05"/>
<circle cx="1215.34" cy="379.51" r="5.05"/>
<circle cx="1217.06" cy="314.03" r="5.05"/>
<circle cx="1218.96" cy="411.3" r="5.05"/>
<circle cx="1221.05" cy="305.09" r="5.05"/>
<circle cx="1222.96" cy="335.16" r="5.05"/>
<circle cx="1224.67" cy="286.05" r="5.05"/>
<circle cx="1226.76" cy="295.38" r="5.05"/>
<circle cx="1228.67" cy="339.35" r="5.05"/>
<circle cx="1230.38" cy="362.19" r="5.05"/>
<circle cx="1232.47" cy="331.92" r="5.05"/>
<circle cx="1234.19" cy="279.39" r="5.05"/>
<circle cx="1236.09" cy="357.81" r="5.05"/>
<circle cx="1238.18" cy="283.96" r="5.05"/>
<circle cx="1240.09" cy="297.66" r="5.05"/>
<circle cx="1242.18" cy="345.06" r="5.05"/>
<circle cx="1244.09" cy="274.44" r="5.05"/>
<circle cx="1245.8" cy="390.17" r="5.05"/>
<circle cx="1247.89" cy="386.94" r="5.05"/>
<circle cx="1249.61" cy="287.76" r="5.05"/>
<circle cx="1251.51" cy="346.77" r="5.05"/>
<circle cx="1253.41" cy="243.79" r="5.05"/>
<circle cx="1255.32" cy="269.11" r="5.05"/>
<circle cx="1257.22" cy="409.4" r="5.05"/>
<circle cx="1258.93" cy="342.97" r="5.05"/>
<circle cx="1261.03" cy="263.21" r="5.05"/>
<circle cx="1262.93" cy="255.59" r="5.05"/>
<circle cx="1264.83" cy="272.35" r="5.05"/>
<circle cx="1266.74" cy="323.93" r="5.05"/>
<circle cx="1268.64" cy="253.12" r="5.05"/>
<circle cx="1270.54" cy="360.48" r="5.05"/>
<circle cx="1272.26" cy="377.23" r="5.05"/>
<circle cx="1274.35" cy="276.53" r="5.05"/>
<circle cx="1276.25" cy="300.9" r="5.05"/>
<circle cx="1278.35" cy="291.76" r="5.05"/>
<circle cx="1280.06" cy="221.52" r="5.05"/>
<circle cx="1281.97" cy="293.47" r="5.05"/>
<circle cx="1283.68" cy="257.5" r="5.05"/>
<circle cx="1285.77" cy="251.22" r="5.05"/>
<circle cx="1287.68" cy="299.18" r="5.05"/>
<circle cx="1289.39" cy="282.24" r="5.05"/>
<circle cx="1291.48" cy="259.21" r="5.05"/>
<circle cx="1293.39" cy="354.77" r="5.05"/>
<circle cx="1295.48" cy="327.74" r="5.05"/>
<circle cx="1297.38" cy="278.63" r="5.05"/>
<circle cx="1299.1" cy="333.64" r="5.05"/>
<circle cx="1301.19" cy="375.32" r="5.05"/>
<circle cx="1303.09" cy="264.92" r="5.05"/>
<circle cx="1304.81" cy="270.63" r="5.05"/>
<circle cx="1306.9" cy="227.23" r="5.05"/>
<circle cx="1308.61" cy="261.31" r="5.05"/>
<circle cx="1310.52" cy="230.66" r="5.05"/>
<circle cx="1312.42" cy="267.02" r="5.05"/>
<circle cx="1314.32" cy="248.17" r="5.05"/>
<circle cx="1316.23" cy="240.18" r="5.05"/>
<circle cx="1318.13" cy="236.37" r="5.05"/>
<circle cx="1320.23" cy="306.61" r="5.05"/>
<circle cx="1321.94" cy="242.08" r="5.05"/>
<circle cx="1323.84" cy="348.68" r="5.05"/>
<circle cx="1325.56" cy="366" r="5.05"/>
<circle cx="1327.65" cy="316.32" r="5.05"/>
<circle cx="1329.55" cy="236.37" r="5.05"/>
<circle cx="1331.65" cy="250.07" r="5.05"/>
<circle cx="1333.36" cy="228.95" r="5.05"/>
<circle cx="1335.26" cy="308.89" r="5.05"/>
<circle cx="1337.36" cy="219.05" r="5.05"/>
<circle cx="1339.07" cy="289.67" r="5.05"/>
<circle cx="1340.97" cy="329.45" r="5.05"/>
<circle cx="1342.69" cy="211.62" r="5.05"/>
<circle cx="1344.78" cy="234.66" r="5.05"/>
<circle cx="1346.68" cy="214.86" r="5.05"/>
<circle cx="1348.78" cy="216.57" r="5.05"/>
<circle cx="1350.49" cy="222.85" r="5.05"/>
<circle cx="1352.39" cy="225.33" r="5.05"/>
<circle cx="1354.49" cy="232.75" r="5.05"/>
<circle cx="1356.2" cy="245.89" r="5.05"/>
<circle cx="1358.11" cy="208.01" r="5.05"/>
<circle cx="1360.2" cy="209.91" r="5.05"/>
<circle cx="1362.1" cy="217.33" r="5.05"/>
</g>
<text x="1145.8" y="217.9" font-size="18.5" fill="#0000FF"><tspan font-style="italic">R</tspan><tspan dx="-0.9"> = </tspan><tspan dx="-0.4">0.78,</tspan> <tspan font-style="italic">p</tspan> &lt; 0.01</text>
<rect x="1135" y="198.2" width="237" height="237" fill="none" stroke="#000" stroke-width="1.4"/>
<rect x="1134.2" y="152.3" width="238.6" height="45.9" fill="#000"/>
<text x="1253.5" y="183.55" font-size="23.47" fill="#fff" text-anchor="middle">2013</text>
<path d="M1135 316.9h-8.4" stroke="#000" stroke-width="1.9" fill="none"/>
<path d="M1143.2 435.2v8.1M1181.27 435.2v8.1M1219.34 435.2v8.1M1257.41 435.2v8.1M1295.48 435.2v8.1M1333.55 435.2v8.1M1371.62 435.2v8.1" stroke="#000" stroke-width="1.6" fill="none"/>
<text x="1143.2" y="466.4" font-size="23.47" text-anchor="middle" fill="#000">0</text>
<text x="1181.27" y="466.4" font-size="23.47" text-anchor="middle" fill="#000">20</text>
<text x="1219.34" y="466.4" font-size="23.47" text-anchor="middle" fill="#000">40</text>
<text x="1257.41" y="466.4" font-size="23.47" text-anchor="middle" fill="#000">60</text>
<text x="1295.48" y="466.4" font-size="23.47" text-anchor="middle" fill="#000">80</text>
<text x="1333.55" y="466.4" font-size="23.47" text-anchor="middle" fill="#000">100</text>
<text x="1371.62" y="466.4" font-size="23.47" text-anchor="middle" fill="#000">120</text>
</g>
<g>
<rect x="1440.5" y="198.2" width="237" height="237" fill="#fff"/>
<path d="M1467.5 198.2V435.2M1440.5 408.06H1677.5M1505.5 198.2V435.2M1440.5 369.99H1677.5M1543.5 198.2V435.2M1440.5 331.92H1677.5M1581.5 198.2V435.2M1440.5 293.85H1677.5M1620.5 198.2V435.2M1440.5 255.78H1677.5M1658.5 198.2V435.2M1440.5 217.71H1677.5" stroke="#000" stroke-opacity="0.17" stroke-width="1" fill="none"/>
<path d="M1448.5 198.2V435.2M1440.5 427.1H1677.5M1486.5 198.2V435.2M1440.5 389.03H1677.5M1524.5 198.2V435.2M1440.5 350.96H1677.5M1562.5 198.2V435.2M1440.5 312.89H1677.5M1600.5 198.2V435.2M1440.5 274.82H1677.5M1639.5 198.2V435.2M1440.5 236.75H1677.5M1677.5 198.2V435.2M1440.5 198.68H1677.5" stroke="#000" stroke-opacity="0.3" stroke-width="1" fill="none"/>
<path d="M1450.6 383.95 L1453.32 382.17 L1456.03 380.39 L1458.74 378.61 L1461.45 376.82 L1464.17 375.04 L1466.88 373.25 L1469.59 371.45 L1472.3 369.66 L1475.02 367.86 L1477.73 366.06 L1480.44 364.26 L1483.15 362.45 L1485.87 360.64 L1488.58 358.83 L1491.29 357.01 L1494 355.18 L1496.72 353.36 L1499.43 351.52 L1502.14 349.68 L1504.85 347.84 L1507.57 345.99 L1510.28 344.13 L1512.99 342.27 L1515.7 340.4 L1518.42 338.52 L1521.13 336.63 L1523.84 334.73 L1526.55 332.82 L1529.27 330.91 L1531.98 328.98 L1534.69 327.04 L1537.4 325.1 L1540.12 323.14 L1542.83 321.16 L1545.54 319.18 L1548.25 317.18 L1550.97 315.16 L1553.68 313.14 L1556.39 311.1 L1559.1 309.04 L1561.82 306.97 L1564.53 304.89 L1567.24 302.8 L1569.95 300.68 L1572.67 298.56 L1575.38 296.42 L1578.09 294.27 L1580.8 292.11 L1583.52 289.94 L1586.23 287.75 L1588.94 285.56 L1591.65 283.35 L1594.37 281.13 L1597.08 278.91 L1599.79 276.67 L1602.5 274.43 L1605.22 272.18 L1607.93 269.92 L1610.64 267.65 L1613.35 265.38 L1616.07 263.1 L1618.78 260.82 L1621.49 258.53 L1624.2 256.23 L1626.92 253.93 L1629.63 251.63 L1632.34 249.32 L1635.05 247.01 L1637.77 244.69 L1640.48 242.37 L1643.19 240.05 L1645.9 237.72 L1648.62 235.4 L1651.33 233.06 L1654.04 230.73 L1656.75 228.39 L1659.47 226.06 L1662.18 223.72 L1664.89 221.37 L1667.6 219.03 L1667.6 249.45 L1664.89 251.22 L1662.18 253.01 L1659.47 254.79 L1656.75 256.57 L1654.04 258.36 L1651.33 260.15 L1648.62 261.94 L1645.9 263.73 L1643.19 265.53 L1640.48 267.33 L1637.77 269.14 L1635.05 270.94 L1632.34 272.75 L1629.63 274.57 L1626.92 276.39 L1624.2 278.21 L1621.49 280.04 L1618.78 281.87 L1616.07 283.71 L1613.35 285.56 L1610.64 287.41 L1607.93 289.26 L1605.22 291.13 L1602.5 293 L1599.79 294.88 L1597.08 296.77 L1594.37 298.66 L1591.65 300.57 L1588.94 302.49 L1586.23 304.41 L1583.52 306.35 L1580.8 308.3 L1578.09 310.26 L1575.38 312.23 L1572.67 314.22 L1569.95 316.22 L1567.24 318.23 L1564.53 320.26 L1561.82 322.3 L1559.1 324.35 L1556.39 326.42 L1553.68 328.5 L1550.97 330.6 L1548.25 332.71 L1545.54 334.83 L1542.83 336.97 L1540.12 339.12 L1537.4 341.28 L1534.69 343.46 L1531.98 345.64 L1529.27 347.84 L1526.55 350.04 L1523.84 352.26 L1521.13 354.49 L1518.42 356.72 L1515.7 358.97 L1512.99 361.22 L1510.28 363.48 L1507.57 365.74 L1504.85 368.01 L1502.14 370.29 L1499.43 372.58 L1496.72 374.87 L1494 377.16 L1491.29 379.46 L1488.58 381.77 L1485.87 384.07 L1483.15 386.39 L1480.44 388.7 L1477.73 391.02 L1475.02 393.34 L1472.3 395.67 L1469.59 398 L1466.88 400.33 L1464.17 402.66 L1461.45 405 L1458.74 407.34 L1456.03 409.68 L1453.32 412.02 L1450.6 414.37Z" fill="#999" fill-opacity="0.45"/>
<line x1="1450.6" y1="399.16" x2="1667.6" y2="234.24" stroke="#2748FF" stroke-width="5.9"/>
<g fill="#000" fill-opacity="0.5" stroke="#000" stroke-opacity="0.6" stroke-width="1.7">
<circle cx="1450.41" cy="419.3" r="5.05"/>
<circle cx="1452.32" cy="411.3" r="5.05"/>
<circle cx="1454.41" cy="422.34" r="5.05"/>
<circle cx="1456.12" cy="400.07" r="5.05"/>
<circle cx="1458.03" cy="424.82" r="5.05"/>
<circle cx="1460.31" cy="416.82" r="5.05"/>
<circle cx="1461.83" cy="403.69" r="5.05"/>
<circle cx="1463.55" cy="388.84" r="5.05"/>
<circle cx="1465.45" cy="381.42" r="5.05"/>
<circle cx="1467.74" cy="423.1" r="5.05"/>
<circle cx="1469.26" cy="316.51" r="5.05"/>
<circle cx="1471.16" cy="386.37" r="5.05"/>
<circle cx="1473.06" cy="394.55" r="5.05"/>
<circle cx="1474.97" cy="350.39" r="5.05"/>
<circle cx="1477.25" cy="341.06" r="5.05"/>
<circle cx="1478.97" cy="398.36" r="5.05"/>
<circle cx="1480.68" cy="390.17" r="5.05"/>
<circle cx="1482.58" cy="299.18" r="5.05"/>
<circle cx="1484.68" cy="331.92" r="5.05"/>
<circle cx="1486.58" cy="407.49" r="5.05"/>
<circle cx="1488.29" cy="415.68" r="5.05"/>
<circle cx="1490.39" cy="384.46" r="5.05"/>
<circle cx="1492.1" cy="346.77" r="5.05"/>
<circle cx="1494" cy="280.34" r="5.05"/>
<circle cx="1496.1" cy="348.68" r="5.05"/>
<circle cx="1498" cy="392.65" r="5.05"/>
<circle cx="1499.71" cy="402.54" r="5.05"/>
<circle cx="1501.81" cy="342.97" r="5.05"/>
<circle cx="1503.71" cy="396.26" r="5.05"/>
<circle cx="1505.42" cy="369.04" r="5.05"/>
<circle cx="1507.52" cy="306.61" r="5.05"/>
<circle cx="1509.42" cy="300.33" r="5.05"/>
<circle cx="1511.33" cy="371.52" r="5.05"/>
<circle cx="1513.42" cy="305.09" r="5.05"/>
<circle cx="1515.13" cy="272.35" r="5.05"/>
<circle cx="1517.04" cy="377.23" r="5.05"/>
<circle cx="1519.13" cy="339.35" r="5.05"/>
<circle cx="1520.84" cy="310.8" r="5.05"/>
<circle cx="1522.75" cy="329.45" r="5.05"/>
<circle cx="1524.46" cy="405.78" r="5.05"/>
<circle cx="1526.55" cy="319.93" r="5.05"/>
<circle cx="1528.46" cy="286.05" r="5.05"/>
<circle cx="1530.55" cy="318.22" r="5.05"/>
<circle cx="1532.26" cy="355.34" r="5.05"/>
<circle cx="1534.17" cy="293.47" r="5.05"/>
<circle cx="1536.26" cy="297.09" r="5.05"/>
<circle cx="1537.97" cy="359.72" r="5.05"/>
<circle cx="1539.88" cy="326.21" r="5.05"/>
<circle cx="1541.97" cy="366" r="5.05"/>
<circle cx="1543.68" cy="362.19" r="5.05"/>
<circle cx="1545.59" cy="409.97" r="5.05"/>
<circle cx="1547.68" cy="312.51" r="5.05"/>
<circle cx="1549.4" cy="289.67" r="5.05"/>
<circle cx="1551.3" cy="295.38" r="5.05"/>
<circle cx="1553.39" cy="375.32" r="5.05"/>
<circle cx="1555.3" cy="322.03" r="5.05"/>
<circle cx="1557.01" cy="367.9" r="5.05"/>
<circle cx="1558.91" cy="382.75" r="5.05"/>
<circle cx="1561.01" cy="303.37" r="5.05"/>
<circle cx="1562.72" cy="287.76" r="5.05"/>
<circle cx="1564.62" cy="345.06" r="5.05"/>
<circle cx="1566.72" cy="363.52" r="5.05"/>
<circle cx="1568.43" cy="251.22" r="5.05"/>
<circle cx="1570.33" cy="255.59" r="5.05"/>
<circle cx="1572.43" cy="264.92" r="5.05"/>
<circle cx="1574.14" cy="413.2" r="5.05"/>
<circle cx="1576.04" cy="283.96" r="5.05"/>
<circle cx="1578.14" cy="291.76" r="5.05"/>
<circle cx="1579.85" cy="263.21" r="5.05"/>
<circle cx="1581.75" cy="259.21" r="5.05"/>
<circle cx="1583.85" cy="245.51" r="5.05"/>
<circle cx="1585.56" cy="248.74" r="5.05"/>
<circle cx="1587.47" cy="335.16" r="5.05"/>
<circle cx="1589.56" cy="252.55" r="5.05"/>
<circle cx="1591.27" cy="270.63" r="5.05"/>
<circle cx="1593.18" cy="276.53" r="5.05"/>
<circle cx="1595.27" cy="358.38" r="5.05"/>
<circle cx="1596.98" cy="257.5" r="5.05"/>
<circle cx="1598.89" cy="261.31" r="5.05"/>
<circle cx="1600.98" cy="323.93" r="5.05"/>
<circle cx="1602.69" cy="337.25" r="5.05"/>
<circle cx="1604.6" cy="278.63" r="5.05"/>
<circle cx="1606.69" cy="282.24" r="5.05"/>
<circle cx="1608.59" cy="327.74" r="5.05"/>
<circle cx="1610.31" cy="352.48" r="5.05"/>
<circle cx="1612.21" cy="314.6" r="5.05"/>
<circle cx="1614.3" cy="243.79" r="5.05"/>
<circle cx="1616.02" cy="373.61" r="5.05"/>
<circle cx="1617.92" cy="354.77" r="5.05"/>
<circle cx="1619.82" cy="379.51" r="5.05"/>
<circle cx="1621.73" cy="308.89" r="5.05"/>
<circle cx="1623.63" cy="217.33" r="5.05"/>
<circle cx="1625.54" cy="222.85" r="5.05"/>
<circle cx="1627.44" cy="227.23" r="5.05"/>
<circle cx="1629.34" cy="248.17" r="5.05"/>
<circle cx="1631.06" cy="240.18" r="5.05"/>
<circle cx="1633.15" cy="230.66" r="5.05"/>
<circle cx="1635.05" cy="274.82" r="5.05"/>
<circle cx="1637.15" cy="224.76" r="5.05"/>
<circle cx="1638.86" cy="268.73" r="5.05"/>
<circle cx="1640.76" cy="232.75" r="5.05"/>
<circle cx="1642.86" cy="333.64" r="5.05"/>
<circle cx="1644.57" cy="236.37" r="5.05"/>
<circle cx="1646.47" cy="211.62" r="5.05"/>
<circle cx="1648.57" cy="215.43" r="5.05"/>
<circle cx="1650.28" cy="238.08" r="5.05"/>
<circle cx="1652.18" cy="242.08" r="5.05"/>
<circle cx="1653.9" cy="219.81" r="5.05"/>
<circle cx="1655.99" cy="232.75" r="5.05"/>
<circle cx="1657.89" cy="267.02" r="5.05"/>
<circle cx="1659.61" cy="208.01" r="5.05"/>
<circle cx="1661.7" cy="228.95" r="5.05"/>
<circle cx="1663.61" cy="213.34" r="5.05"/>
<circle cx="1665.32" cy="221.52" r="5.05"/>
<circle cx="1667.41" cy="209.91" r="5.05"/>
</g>
<text x="1451.3" y="217.9" font-size="18.5" fill="#0000FF"><tspan font-style="italic">R</tspan><tspan dx="-0.9"> = </tspan><tspan dx="-0.4">0.76,</tspan> <tspan font-style="italic">p</tspan> &lt; 0.01</text>
<rect x="1440.5" y="198.2" width="237" height="237" fill="none" stroke="#000" stroke-width="1.4"/>
<rect x="1439.7" y="152.3" width="238.6" height="45.9" fill="#000"/>
<text x="1559" y="183.55" font-size="23.47" fill="#fff" text-anchor="middle">2014</text>
<path d="M1440.5 316.9h-8.4" stroke="#000" stroke-width="1.9" fill="none"/>
<path d="M1448.7 435.2v8.1M1486.77 435.2v8.1M1524.84 435.2v8.1M1562.91 435.2v8.1M1600.98 435.2v8.1M1639.05 435.2v8.1M1677.12 435.2v8.1" stroke="#000" stroke-width="1.6" fill="none"/>
<text x="1448.7" y="466.4" font-size="23.47" text-anchor="middle" fill="#000">0</text>
<text x="1486.77" y="466.4" font-size="23.47" text-anchor="middle" fill="#000">20</text>
<text x="1524.84" y="466.4" font-size="23.47" text-anchor="middle" fill="#000">40</text>
<text x="1562.91" y="466.4" font-size="23.47" text-anchor="middle" fill="#000">60</text>
<text x="1600.98" y="466.4" font-size="23.47" text-anchor="middle" fill="#000">80</text>
<text x="1639.05" y="466.4" font-size="23.47" text-anchor="middle" fill="#000">100</text>
<text x="1677.12" y="466.4" font-size="23.47" text-anchor="middle" fill="#000">120</text>
</g>
<g>
<rect x="1746" y="198.2" width="237" height="237" fill="#fff"/>
<path d="M1773.5 198.2V435.2M1746 408.06H1983M1811.5 198.2V435.2M1746 369.99H1983M1849.5 198.2V435.2M1746 331.92H1983M1887.5 198.2V435.2M1746 293.85H1983M1925.5 198.2V435.2M1746 255.78H1983M1963.5 198.2V435.2M1746 217.71H1983" stroke="#000" stroke-opacity="0.17" stroke-width="1" fill="none"/>
<path d="M1754.5 198.2V435.2M1746 427.1H1983M1792.5 198.2V435.2M1746 389.03H1983M1830.5 198.2V435.2M1746 350.96H1983M1868.5 198.2V435.2M1746 312.89H1983M1906.5 198.2V435.2M1746 274.82H1983M1944.5 198.2V435.2M1746 236.75H1983M1982.5 198.2V435.2M1746 198.68H1983" stroke="#000" stroke-opacity="0.3" stroke-width="1" fill="none"/>
<path d="M1756.1 382.59 L1758.79 380.86 L1761.48 379.13 L1764.17 377.39 L1766.86 375.66 L1769.55 373.92 L1772.24 372.18 L1774.92 370.43 L1777.61 368.69 L1780.3 366.94 L1782.99 365.18 L1785.68 363.43 L1788.37 361.67 L1791.06 359.9 L1793.75 358.14 L1796.43 356.37 L1799.12 354.59 L1801.81 352.81 L1804.5 351.02 L1807.19 349.23 L1809.88 347.44 L1812.57 345.63 L1815.25 343.82 L1817.94 342.01 L1820.63 340.19 L1823.32 338.35 L1826.01 336.51 L1828.7 334.67 L1831.39 332.81 L1834.08 330.94 L1836.76 329.06 L1839.45 327.18 L1842.14 325.28 L1844.83 323.36 L1847.52 321.44 L1850.21 319.5 L1852.9 317.55 L1855.59 315.59 L1858.27 313.62 L1860.96 311.62 L1863.65 309.62 L1866.34 307.6 L1869.03 305.57 L1871.72 303.52 L1874.41 301.46 L1877.09 299.39 L1879.78 297.3 L1882.47 295.2 L1885.16 293.09 L1887.85 290.96 L1890.54 288.83 L1893.23 286.68 L1895.92 284.52 L1898.6 282.35 L1901.29 280.17 L1903.98 277.98 L1906.67 275.79 L1909.36 273.58 L1912.05 271.37 L1914.74 269.15 L1917.43 266.93 L1920.11 264.7 L1922.8 262.46 L1925.49 260.21 L1928.18 257.96 L1930.87 255.71 L1933.56 253.45 L1936.25 251.19 L1938.93 248.92 L1941.62 246.65 L1944.31 244.38 L1947 242.1 L1949.69 239.82 L1952.38 237.53 L1955.07 235.25 L1957.76 232.96 L1960.44 230.66 L1963.13 228.37 L1965.82 226.07 L1968.51 223.77 L1971.2 221.47 L1971.2 252.03 L1968.51 253.76 L1965.82 255.49 L1963.13 257.23 L1960.44 258.97 L1957.76 260.71 L1955.07 262.45 L1952.38 264.2 L1949.69 265.95 L1947 267.7 L1944.31 269.45 L1941.62 271.21 L1938.93 272.98 L1936.25 274.74 L1933.56 276.51 L1930.87 278.29 L1928.18 280.06 L1925.49 281.85 L1922.8 283.64 L1920.11 285.43 L1917.43 287.23 L1914.74 289.04 L1912.05 290.85 L1909.36 292.68 L1906.67 294.5 L1903.98 296.34 L1901.29 298.19 L1898.6 300.04 L1895.92 301.91 L1893.23 303.78 L1890.54 305.67 L1887.85 307.56 L1885.16 309.47 L1882.47 311.39 L1879.78 313.32 L1877.09 315.27 L1874.41 317.23 L1871.72 319.2 L1869.03 321.19 L1866.34 323.19 L1863.65 325.2 L1860.96 327.23 L1858.27 329.27 L1855.59 331.33 L1852.9 333.4 L1850.21 335.48 L1847.52 337.58 L1844.83 339.69 L1842.14 341.81 L1839.45 343.94 L1836.76 346.09 L1834.08 348.24 L1831.39 350.41 L1828.7 352.58 L1826.01 354.77 L1823.32 356.96 L1820.63 359.17 L1817.94 361.37 L1815.25 363.59 L1812.57 365.82 L1809.88 368.05 L1807.19 370.28 L1804.5 372.52 L1801.81 374.77 L1799.12 377.03 L1796.43 379.28 L1793.75 381.54 L1791.06 383.81 L1788.37 386.08 L1785.68 388.35 L1782.99 390.63 L1780.3 392.91 L1777.61 395.19 L1774.92 397.48 L1772.24 399.77 L1769.55 402.06 L1766.86 404.35 L1764.17 406.65 L1761.48 408.95 L1758.79 411.25 L1756.1 413.55Z" fill="#999" fill-opacity="0.45"/>
<line x1="1756.1" y1="398.07" x2="1971.2" y2="236.75" stroke="#2748FF" stroke-width="5.9"/>
<g fill="#000" fill-opacity="0.5" stroke="#000" stroke-opacity="0.6" stroke-width="1.7">
<circle cx="1756.48" cy="421.2" r="5.05"/>
<circle cx="1758.39" cy="413.78" r="5.05"/>
<circle cx="1759.72" cy="423.67" r="5.05"/>
<circle cx="1761.43" cy="392.65" r="5.05"/>
<circle cx="1763.34" cy="419.3" r="5.05"/>
<circle cx="1765.43" cy="409.97" r="5.05"/>
<circle cx="1767.52" cy="408.26" r="5.05"/>
<circle cx="1769.05" cy="382.75" r="5.05"/>
<circle cx="1771.33" cy="386.94" r="5.05"/>
<circle cx="1773.24" cy="358.57" r="5.05"/>
<circle cx="1775.33" cy="310.8" r="5.05"/>
<circle cx="1777.04" cy="424.82" r="5.05"/>
<circle cx="1778.76" cy="398.36" r="5.05"/>
<circle cx="1780.66" cy="350.39" r="5.05"/>
<circle cx="1782.75" cy="379.51" r="5.05"/>
<circle cx="1784.47" cy="400.07" r="5.05"/>
<circle cx="1786.37" cy="384.46" r="5.05"/>
<circle cx="1788.08" cy="403.69" r="5.05"/>
<circle cx="1790.18" cy="371.52" r="5.05"/>
<circle cx="1792.08" cy="283.96" r="5.05"/>
<circle cx="1793.79" cy="417.39" r="5.05"/>
<circle cx="1795.89" cy="415.68" r="5.05"/>
<circle cx="1797.79" cy="326.21" r="5.05"/>
<circle cx="1799.88" cy="290.24" r="5.05"/>
<circle cx="1801.6" cy="377.04" r="5.05"/>
<circle cx="1803.5" cy="270.63" r="5.05"/>
<circle cx="1805.59" cy="321.27" r="5.05"/>
<circle cx="1807.5" cy="402.54" r="5.05"/>
<circle cx="1809.21" cy="342.97" r="5.05"/>
<circle cx="1811.11" cy="300.9" r="5.05"/>
<circle cx="1813.21" cy="346.77" r="5.05"/>
<circle cx="1814.92" cy="345.44" r="5.05"/>
<circle cx="1816.83" cy="323.93" r="5.05"/>
<circle cx="1818.92" cy="329.83" r="5.05"/>
<circle cx="1820.63" cy="331.92" r="5.05"/>
<circle cx="1822.54" cy="361.62" r="5.05"/>
<circle cx="1824.63" cy="248.17" r="5.05"/>
<circle cx="1826.53" cy="388.84" r="5.05"/>
<circle cx="1828.25" cy="406.16" r="5.05"/>
<circle cx="1830.34" cy="318.22" r="5.05"/>
<circle cx="1832.24" cy="341.06" r="5.05"/>
<circle cx="1833.96" cy="336.87" r="5.05"/>
<circle cx="1835.67" cy="356.1" r="5.05"/>
<circle cx="1837.76" cy="375.32" r="5.05"/>
<circle cx="1839.67" cy="381.42" r="5.05"/>
<circle cx="1841.38" cy="299.18" r="5.05"/>
<circle cx="1843.47" cy="287.76" r="5.05"/>
<circle cx="1845.19" cy="308.89" r="5.05"/>
<circle cx="1847.09" cy="295.38" r="5.05"/>
<circle cx="1849.18" cy="291.76" r="5.05"/>
<circle cx="1851.09" cy="264.92" r="5.05"/>
<circle cx="1852.8" cy="373.61" r="5.05"/>
<circle cx="1854.9" cy="286.05" r="5.05"/>
<circle cx="1856.8" cy="411.3" r="5.05"/>
<circle cx="1858.89" cy="394.55" r="5.05"/>
<circle cx="1860.61" cy="303.37" r="5.05"/>
<circle cx="1862.51" cy="335.16" r="5.05"/>
<circle cx="1864.41" cy="396.26" r="5.05"/>
<circle cx="1866.51" cy="339.35" r="5.05"/>
<circle cx="1868.22" cy="360.48" r="5.05"/>
<circle cx="1870.12" cy="272.35" r="5.05"/>
<circle cx="1872.22" cy="354.2" r="5.05"/>
<circle cx="1873.93" cy="259.21" r="5.05"/>
<circle cx="1875.83" cy="314.6" r="5.05"/>
<circle cx="1877.93" cy="251.22" r="5.05"/>
<circle cx="1879.64" cy="274.82" r="5.05"/>
<circle cx="1881.54" cy="276.53" r="5.05"/>
<circle cx="1883.64" cy="369.61" r="5.05"/>
<circle cx="1885.35" cy="261.31" r="5.05"/>
<circle cx="1887.25" cy="293.47" r="5.05"/>
<circle cx="1889.35" cy="352.48" r="5.05"/>
<circle cx="1891.06" cy="390.55" r="5.05"/>
<circle cx="1892.97" cy="263.21" r="5.05"/>
<circle cx="1894.68" cy="232.75" r="5.05"/>
<circle cx="1896.77" cy="316.32" r="5.05"/>
<circle cx="1898.68" cy="257.5" r="5.05"/>
<circle cx="1900.77" cy="363.52" r="5.05"/>
<circle cx="1902.48" cy="306.61" r="5.05"/>
<circle cx="1904.39" cy="255.59" r="5.05"/>
<circle cx="1906.48" cy="327.74" r="5.05"/>
<circle cx="1908.19" cy="366" r="5.05"/>
<circle cx="1910.1" cy="367.9" r="5.05"/>
<circle cx="1912.19" cy="253.69" r="5.05"/>
<circle cx="1914.09" cy="333.64" r="5.05"/>
<circle cx="1915.81" cy="278.63" r="5.05"/>
<circle cx="1917.9" cy="280.34" r="5.05"/>
<circle cx="1919.61" cy="297.66" r="5.05"/>
<circle cx="1921.52" cy="245.51" r="5.05"/>
<circle cx="1923.42" cy="224.76" r="5.05"/>
<circle cx="1925.32" cy="234.66" r="5.05"/>
<circle cx="1927.23" cy="312.51" r="5.05"/>
<circle cx="1929.13" cy="320.31" r="5.05"/>
<circle cx="1931.04" cy="348.68" r="5.05"/>
<circle cx="1932.94" cy="240.18" r="5.05"/>
<circle cx="1934.84" cy="217.33" r="5.05"/>
<circle cx="1936.56" cy="282.24" r="5.05"/>
<circle cx="1938.65" cy="269.11" r="5.05"/>
<circle cx="1940.55" cy="250.07" r="5.05"/>
<circle cx="1942.27" cy="228.95" r="5.05"/>
<circle cx="1944.36" cy="242.08" r="5.05"/>
<circle cx="1946.26" cy="267.02" r="5.05"/>
<circle cx="1947.98" cy="236.37" r="5.05"/>
<circle cx="1950.07" cy="211.62" r="5.05"/>
<circle cx="1951.97" cy="230.66" r="5.05"/>
<circle cx="1953.69" cy="243.79" r="5.05"/>
<circle cx="1955.78" cy="227.23" r="5.05"/>
<circle cx="1957.49" cy="305.09" r="5.05"/>
<circle cx="1959.4" cy="222.85" r="5.05"/>
<circle cx="1961.49" cy="213.34" r="5.05"/>
<circle cx="1963.39" cy="215.43" r="5.05"/>
<circle cx="1965.11" cy="219.05" r="5.05"/>
<circle cx="1967.2" cy="238.08" r="5.05"/>
<circle cx="1969.11" cy="222.85" r="5.05"/>
<circle cx="1971.2" cy="209.72" r="5.05"/>
</g>
<text x="1756.8" y="217.9" font-size="18.5" fill="#0000FF"><tspan font-style="italic">R</tspan><tspan dx="-0.9"> = </tspan><tspan dx="-0.4">0.75,</tspan> <tspan font-style="italic">p</tspan> &lt; 0.01</text>
<rect x="1746" y="198.2" width="237" height="237" fill="none" stroke="#000" stroke-width="1.4"/>
<rect x="1745.2" y="152.3" width="238.6" height="45.9" fill="#000"/>
<text x="1864.5" y="183.55" font-size="23.47" fill="#fff" text-anchor="middle">2015</text>
<path d="M1746 316.9h-8.4" stroke="#000" stroke-width="1.9" fill="none"/>
<path d="M1754.2 435.2v8.1M1792.27 435.2v8.1M1830.34 435.2v8.1M1868.41 435.2v8.1M1906.48 435.2v8.1M1944.55 435.2v8.1M1982.62 435.2v8.1" stroke="#000" stroke-width="1.6" fill="none"/>
<text x="1754.2" y="466.4" font-size="23.47" text-anchor="middle" fill="#000">0</text>
<text x="1792.27" y="466.4" font-size="23.47" text-anchor="middle" fill="#000">20</text>
<text x="1830.34" y="466.4" font-size="23.47" text-anchor="middle" fill="#000">40</text>
<text x="1868.41" y="466.4" font-size="23.47" text-anchor="middle" fill="#000">60</text>
<text x="1906.48" y="466.4" font-size="23.47" text-anchor="middle" fill="#000">80</text>
<text x="1944.55" y="466.4" font-size="23.47" text-anchor="middle" fill="#000">100</text>
<text x="1982.62" y="466.4" font-size="23.47" text-anchor="middle" fill="#000">120</text>
</g>
<g>
<rect x="2051.5" y="198.2" width="237" height="237" fill="#fff"/>
<path d="M2078.5 198.2V435.2M2051.5 408.06H2288.5M2116.5 198.2V435.2M2051.5 369.99H2288.5M2154.5 198.2V435.2M2051.5 331.92H2288.5M2192.5 198.2V435.2M2051.5 293.85H2288.5M2231.5 198.2V435.2M2051.5 255.78H2288.5M2269.5 198.2V435.2M2051.5 217.71H2288.5" stroke="#000" stroke-opacity="0.17" stroke-width="1" fill="none"/>
<path d="M2059.5 198.2V435.2M2051.5 427.1H2288.5M2097.5 198.2V435.2M2051.5 389.03H2288.5M2135.5 198.2V435.2M2051.5 350.96H2288.5M2173.5 198.2V435.2M2051.5 312.89H2288.5M2211.5 198.2V435.2M2051.5 274.82H2288.5M2250.5 198.2V435.2M2051.5 236.75H2288.5M2288.5 198.2V435.2M2051.5 198.68H2288.5" stroke="#000" stroke-opacity="0.3" stroke-width="1" fill="none"/>
<path d="M2061.6 393.7 L2064.32 391.69 L2067.03 389.68 L2069.74 387.67 L2072.45 385.66 L2075.17 383.64 L2077.88 381.62 L2080.59 379.6 L2083.3 377.58 L2086.02 375.56 L2088.73 373.53 L2091.44 371.5 L2094.15 369.46 L2096.87 367.43 L2099.58 365.39 L2102.29 363.35 L2105 361.3 L2107.72 359.25 L2110.43 357.19 L2113.14 355.13 L2115.85 353.07 L2118.57 351 L2121.28 348.92 L2123.99 346.84 L2126.7 344.75 L2129.42 342.65 L2132.13 340.55 L2134.84 338.44 L2137.55 336.32 L2140.27 334.2 L2142.98 332.06 L2145.69 329.92 L2148.4 327.76 L2151.12 325.6 L2153.83 323.42 L2156.54 321.24 L2159.25 319.04 L2161.97 316.83 L2164.68 314.61 L2167.39 312.37 L2170.1 310.13 L2172.82 307.87 L2175.53 305.6 L2178.24 303.32 L2180.95 301.03 L2183.67 298.72 L2186.38 296.41 L2189.09 294.08 L2191.8 291.74 L2194.52 289.39 L2197.23 287.03 L2199.94 284.67 L2202.65 282.29 L2205.37 279.91 L2208.08 277.51 L2210.79 275.11 L2213.5 272.71 L2216.22 270.29 L2218.93 267.87 L2221.64 265.44 L2224.35 263.01 L2227.07 260.57 L2229.78 258.13 L2232.49 255.68 L2235.2 253.23 L2237.92 250.78 L2240.63 248.32 L2243.34 245.85 L2246.05 243.39 L2248.77 240.92 L2251.48 238.45 L2254.19 235.97 L2256.9 233.49 L2259.62 231.01 L2262.33 228.53 L2265.04 226.04 L2267.75 223.56 L2270.47 221.07 L2273.18 218.58 L2275.89 216.08 L2278.6 213.59 L2278.6 239.69 L2275.89 241.7 L2273.18 243.71 L2270.47 245.73 L2267.75 247.74 L2265.04 249.75 L2262.33 251.77 L2259.62 253.79 L2256.9 255.81 L2254.19 257.84 L2251.48 259.87 L2248.77 261.9 L2246.05 263.93 L2243.34 265.97 L2240.63 268.01 L2237.92 270.05 L2235.2 272.1 L2232.49 274.15 L2229.78 276.2 L2227.07 278.26 L2224.35 280.33 L2221.64 282.4 L2218.93 284.47 L2216.22 286.56 L2213.5 288.64 L2210.79 290.74 L2208.08 292.84 L2205.37 294.95 L2202.65 297.07 L2199.94 299.2 L2197.23 301.33 L2194.52 303.48 L2191.8 305.63 L2189.09 307.8 L2186.38 309.97 L2183.67 312.16 L2180.95 314.36 L2178.24 316.57 L2175.53 318.79 L2172.82 321.02 L2170.1 323.27 L2167.39 325.52 L2164.68 327.79 L2161.97 330.07 L2159.25 332.37 L2156.54 334.67 L2153.83 336.99 L2151.12 339.32 L2148.4 341.65 L2145.69 344 L2142.98 346.36 L2140.27 348.73 L2137.55 351.1 L2134.84 353.49 L2132.13 355.88 L2129.42 358.28 L2126.7 360.69 L2123.99 363.1 L2121.28 365.52 L2118.57 367.95 L2115.85 370.38 L2113.14 372.82 L2110.43 375.26 L2107.72 377.71 L2105 380.16 L2102.29 382.62 L2099.58 385.08 L2096.87 387.54 L2094.15 390.01 L2091.44 392.48 L2088.73 394.95 L2086.02 397.42 L2083.3 399.9 L2080.59 402.38 L2077.88 404.86 L2075.17 407.35 L2072.45 409.84 L2069.74 412.33 L2067.03 414.82 L2064.32 417.31 L2061.6 419.8Z" fill="#999" fill-opacity="0.45"/>
<line x1="2061.6" y1="406.75" x2="2278.6" y2="226.64" stroke="#2748FF" stroke-width="5.9"/>
<g fill="#000" fill-opacity="0.5" stroke="#000" stroke-opacity="0.6" stroke-width="1.7">
<circle cx="2060.84" cy="424.82" r="5.05"/>
<circle cx="2062.94" cy="423.1" r="5.05"/>
<circle cx="2065.22" cy="388.46" r="5.05"/>
<circle cx="2066.36" cy="401.78" r="5.05"/>
<circle cx="2068.27" cy="418.72" r="5.05"/>
<circle cx="2070.36" cy="406.16" r="5.05"/>
<circle cx="2072.26" cy="400.07" r="5.05"/>
<circle cx="2073.98" cy="421.2" r="5.05"/>
<circle cx="2076.45" cy="333.64" r="5.05"/>
<circle cx="2078.35" cy="413.2" r="5.05"/>
<circle cx="2080.26" cy="393.79" r="5.05"/>
<circle cx="2082.16" cy="373.61" r="5.05"/>
<circle cx="2084.06" cy="395.12" r="5.05"/>
<circle cx="2085.97" cy="357.81" r="5.05"/>
<circle cx="2087.68" cy="417.39" r="5.05"/>
<circle cx="2089.58" cy="355.91" r="5.05"/>
<circle cx="2091.68" cy="396.26" r="5.05"/>
<circle cx="2093.39" cy="411.3" r="5.05"/>
<circle cx="2095.3" cy="409.4" r="5.05"/>
<circle cx="2097.39" cy="377.04" r="5.05"/>
<circle cx="2099.29" cy="398.36" r="5.05"/>
<circle cx="2101.39" cy="415.68" r="5.05"/>
<circle cx="2103.1" cy="407.49" r="5.05"/>
<circle cx="2105" cy="403.69" r="5.05"/>
<circle cx="2107.1" cy="361.62" r="5.05"/>
<circle cx="2109" cy="350.39" r="5.05"/>
<circle cx="2110.71" cy="386.94" r="5.05"/>
<circle cx="2112.81" cy="337.25" r="5.05"/>
<circle cx="2114.71" cy="264.92" r="5.05"/>
<circle cx="2116.42" cy="276.53" r="5.05"/>
<circle cx="2118.52" cy="289.67" r="5.05"/>
<circle cx="2120.42" cy="319.93" r="5.05"/>
<circle cx="2122.33" cy="382.75" r="5.05"/>
<circle cx="2124.23" cy="364.09" r="5.05"/>
<circle cx="2126.13" cy="348.49" r="5.05"/>
<circle cx="2128.04" cy="326.21" r="5.05"/>
<circle cx="2129.75" cy="379.51" r="5.05"/>
<circle cx="2131.84" cy="360.48" r="5.05"/>
<circle cx="2133.75" cy="308.89" r="5.05"/>
<circle cx="2135.46" cy="367.9" r="5.05"/>
<circle cx="2137.55" cy="283.96" r="5.05"/>
<circle cx="2139.46" cy="327.74" r="5.05"/>
<circle cx="2141.17" cy="310.8" r="5.05"/>
<circle cx="2143.26" cy="335.54" r="5.05"/>
<circle cx="2145.17" cy="323.93" r="5.05"/>
<circle cx="2147.26" cy="390.17" r="5.05"/>
<circle cx="2148.97" cy="287.76" r="5.05"/>
<circle cx="2150.88" cy="279.39" r="5.05"/>
<circle cx="2152.97" cy="375.32" r="5.05"/>
<circle cx="2154.68" cy="291.76" r="5.05"/>
<circle cx="2156.59" cy="277.87" r="5.05"/>
<circle cx="2158.68" cy="384.46" r="5.05"/>
<circle cx="2160.4" cy="352.48" r="5.05"/>
<circle cx="2162.3" cy="322.03" r="5.05"/>
<circle cx="2164.39" cy="366" r="5.05"/>
<circle cx="2166.11" cy="297.66" r="5.05"/>
<circle cx="2168.01" cy="369.04" r="5.05"/>
<circle cx="2169.91" cy="293.47" r="5.05"/>
<circle cx="2172.01" cy="316.32" r="5.05"/>
<circle cx="2173.72" cy="339.35" r="5.05"/>
<circle cx="2175.62" cy="342.97" r="5.05"/>
<circle cx="2177.72" cy="299.18" r="5.05"/>
<circle cx="2179.62" cy="300.9" r="5.05"/>
<circle cx="2181.33" cy="255.59" r="5.05"/>
<circle cx="2183.43" cy="381.42" r="5.05"/>
<circle cx="2185.14" cy="242.65" r="5.05"/>
<circle cx="2187.04" cy="305.09" r="5.05"/>
<circle cx="2189.14" cy="282.24" r="5.05"/>
<circle cx="2191.04" cy="286.05" r="5.05"/>
<circle cx="2192.75" cy="295.38" r="5.05"/>
<circle cx="2194.85" cy="253.12" r="5.05"/>
<circle cx="2196.75" cy="341.06" r="5.05"/>
<circle cx="2198.47" cy="303.37" r="5.05"/>
<circle cx="2200.56" cy="257.5" r="5.05"/>
<circle cx="2202.46" cy="346.77" r="5.05"/>
<circle cx="2204.18" cy="371.52" r="5.05"/>
<circle cx="2206.27" cy="261.31" r="5.05"/>
<circle cx="2208.17" cy="234.66" r="5.05"/>
<circle cx="2209.89" cy="329.45" r="5.05"/>
<circle cx="2211.98" cy="318.22" r="5.05"/>
<circle cx="2213.88" cy="258.83" r="5.05"/>
<circle cx="2215.6" cy="263.21" r="5.05"/>
<circle cx="2217.69" cy="251.22" r="5.05"/>
<circle cx="2219.59" cy="354.2" r="5.05"/>
<circle cx="2221.5" cy="269.11" r="5.05"/>
<circle cx="2223.21" cy="245.51" r="5.05"/>
<circle cx="2225.3" cy="312.51" r="5.05"/>
<circle cx="2227.21" cy="272.35" r="5.05"/>
<circle cx="2228.92" cy="274.44" r="5.05"/>
<circle cx="2231.01" cy="306.61" r="5.05"/>
<circle cx="2232.92" cy="236.37" r="5.05"/>
<circle cx="2234.63" cy="314.6" r="5.05"/>
<circle cx="2236.73" cy="331.92" r="5.05"/>
<circle cx="2238.63" cy="224.76" r="5.05"/>
<circle cx="2240.34" cy="270.63" r="5.05"/>
<circle cx="2242.44" cy="345.06" r="5.05"/>
<circle cx="2244.34" cy="232.75" r="5.05"/>
<circle cx="2246.05" cy="250.07" r="5.05"/>
<circle cx="2248.15" cy="267.02" r="5.05"/>
<circle cx="2250.05" cy="247.6" r="5.05"/>
<circle cx="2251.76" cy="221.52" r="5.05"/>
<circle cx="2253.86" cy="228.95" r="5.05"/>
<circle cx="2255.76" cy="230.66" r="5.05"/>
<circle cx="2257.47" cy="243.79" r="5.05"/>
<circle cx="2259.57" cy="240.18" r="5.05"/>
<circle cx="2261.47" cy="217.33" r="5.05"/>
<circle cx="2263.18" cy="227.23" r="5.05"/>
<circle cx="2265.28" cy="211.62" r="5.05"/>
<circle cx="2267.18" cy="209.91" r="5.05"/>
<circle cx="2269.09" cy="238.08" r="5.05"/>
<circle cx="2270.99" cy="215.43" r="5.05"/>
<circle cx="2272.89" cy="213.34" r="5.05"/>
<circle cx="2274.8" cy="222.85" r="5.05"/>
<circle cx="2276.7" cy="219.05" r="5.05"/>
<circle cx="2278.6" cy="208.01" r="5.05"/>
</g>
<text x="2062.3" y="217.9" font-size="18.5" fill="#0000FF"><tspan font-style="italic">R</tspan><tspan dx="-0.9"> = </tspan><tspan dx="-0.4">0.83,</tspan> <tspan font-style="italic">p</tspan> &lt; 0.01</text>
<rect x="2051.5" y="198.2" width="237" height="237" fill="none" stroke="#000" stroke-width="1.4"/>
<rect x="2050.7" y="152.3" width="238.6" height="45.9" fill="#000"/>
<text x="2170" y="183.55" font-size="23.47" fill="#fff" text-anchor="middle">2016</text>
<path d="M2051.5 316.9h-8.4" stroke="#000" stroke-width="1.9" fill="none"/>
<path d="M2059.7 435.2v8.1M2097.77 435.2v8.1M2135.84 435.2v8.1M2173.91 435.2v8.1M2211.98 435.2v8.1M2250.05 435.2v8.1M2288.12 435.2v8.1" stroke="#000" stroke-width="1.6" fill="none"/>
<text x="2059.7" y="466.4" font-size="23.47" text-anchor="middle" fill="#000">0</text>
<text x="2097.77" y="466.4" font-size="23.47" text-anchor="middle" fill="#000">20</text>
<text x="2135.84" y="466.4" font-size="23.47" text-anchor="middle" fill="#000">40</text>
<text x="2173.91" y="466.4" font-size="23.47" text-anchor="middle" fill="#000">60</text>
<text x="2211.98" y="466.4" font-size="23.47" text-anchor="middle" fill="#000">80</text>
<text x="2250.05" y="466.4" font-size="23.47" text-anchor="middle" fill="#000">100</text>
<text x="2288.12" y="466.4" font-size="23.47" text-anchor="middle" fill="#000">120</text>
</g>
<g>
<rect x="218.5" y="531.35" width="237" height="237" fill="#fff"/>
<path d="M245.5 531.35V768.35M218.5 741.22H455.5M283.5 531.35V768.35M218.5 703.14H455.5M321.5 531.35V768.35M218.5 665.08H455.5M359.5 531.35V768.35M218.5 627H455.5M398.5 531.35V768.35M218.5 588.93H455.5M436.5 531.35V768.35M218.5 550.87H455.5" stroke="#000" stroke-opacity="0.17" stroke-width="1" fill="none"/>
<path d="M226.5 531.35V768.35M218.5 760.25H455.5M264.5 531.35V768.35M218.5 722.18H455.5M302.5 531.35V768.35M218.5 684.11H455.5M340.5 531.35V768.35M218.5 646.04H455.5M378.5 531.35V768.35M218.5 607.97H455.5M417.5 531.35V768.35M218.5 569.9H455.5M455.5 531.35V768.35M218.5 531.83H455.5" stroke="#000" stroke-opacity="0.3" stroke-width="1" fill="none"/>
<path d="M228.6 726.85 L231.32 724.84 L234.03 722.83 L236.74 720.82 L239.45 718.81 L242.17 716.79 L244.88 714.77 L247.59 712.75 L250.3 710.73 L253.02 708.71 L255.73 706.68 L258.44 704.65 L261.15 702.61 L263.87 700.58 L266.58 698.54 L269.29 696.5 L272 694.45 L274.72 692.4 L277.43 690.34 L280.14 688.28 L282.85 686.22 L285.57 684.15 L288.28 682.07 L290.99 679.99 L293.7 677.9 L296.42 675.8 L299.13 673.7 L301.84 671.59 L304.55 669.47 L307.27 667.35 L309.98 665.21 L312.69 663.07 L315.4 660.91 L318.12 658.75 L320.83 656.57 L323.54 654.39 L326.25 652.19 L328.97 649.98 L331.68 647.76 L334.39 645.52 L337.1 643.28 L339.82 641.02 L342.53 638.75 L345.24 636.47 L347.95 634.18 L350.67 631.87 L353.38 629.56 L356.09 627.23 L358.8 624.89 L361.52 622.54 L364.23 620.18 L366.94 617.82 L369.65 615.44 L372.37 613.06 L375.08 610.66 L377.79 608.26 L380.5 605.86 L383.22 603.44 L385.93 601.02 L388.64 598.59 L391.35 596.16 L394.07 593.72 L396.78 591.28 L399.49 588.83 L402.2 586.38 L404.92 583.93 L407.63 581.47 L410.34 579 L413.05 576.54 L415.77 574.07 L418.48 571.6 L421.19 569.12 L423.9 566.64 L426.62 564.16 L429.33 561.68 L432.04 559.19 L434.75 556.71 L437.47 554.22 L440.18 551.73 L442.89 549.23 L445.6 546.74 L445.6 572.84 L442.89 574.85 L440.18 576.86 L437.47 578.88 L434.75 580.89 L432.04 582.9 L429.33 584.92 L426.62 586.94 L423.9 588.96 L421.19 590.99 L418.48 593.02 L415.77 595.05 L413.05 597.08 L410.34 599.12 L407.63 601.16 L404.92 603.2 L402.2 605.25 L399.49 607.3 L396.78 609.35 L394.07 611.41 L391.35 613.48 L388.64 615.55 L385.93 617.62 L383.22 619.71 L380.5 621.79 L377.79 623.89 L375.08 625.99 L372.37 628.1 L369.65 630.22 L366.94 632.35 L364.23 634.48 L361.52 636.63 L358.8 638.78 L356.09 640.95 L353.38 643.12 L350.67 645.31 L347.95 647.51 L345.24 649.72 L342.53 651.94 L339.82 654.17 L337.1 656.42 L334.39 658.67 L331.68 660.94 L328.97 663.22 L326.25 665.52 L323.54 667.82 L320.83 670.14 L318.12 672.47 L315.4 674.8 L312.69 677.15 L309.98 679.51 L307.27 681.88 L304.55 684.25 L301.84 686.64 L299.13 689.03 L296.42 691.43 L293.7 693.84 L290.99 696.25 L288.28 698.67 L285.57 701.1 L282.85 703.53 L280.14 705.97 L277.43 708.41 L274.72 710.86 L272 713.31 L269.29 715.77 L266.58 718.23 L263.87 720.69 L261.15 723.16 L258.44 725.63 L255.73 728.1 L253.02 730.57 L250.3 733.05 L247.59 735.53 L244.88 738.01 L242.17 740.5 L239.45 742.99 L236.74 745.48 L234.03 747.97 L231.32 750.46 L228.6 752.95Z" fill="#999" fill-opacity="0.45"/>
<line x1="228.6" y1="739.9" x2="445.6" y2="559.79" stroke="#2748FF" stroke-width="5.9"/>
<g fill="#000" fill-opacity="0.5" stroke="#000" stroke-opacity="0.6" stroke-width="1.7">
<circle cx="228.41" cy="756.63" r="5.05"/>
<circle cx="230.32" cy="757.78" r="5.05"/>
<circle cx="232.22" cy="754.16" r="5.05"/>
<circle cx="231.65" cy="743.69" r="5.05"/>
<circle cx="234.12" cy="742.93" r="5.05"/>
<circle cx="235.84" cy="744.64" r="5.05"/>
<circle cx="237.74" cy="723.13" r="5.05"/>
<circle cx="239.64" cy="746.74" r="5.05"/>
<circle cx="241.55" cy="750.35" r="5.05"/>
<circle cx="243.45" cy="702.57" r="5.05"/>
<circle cx="245.35" cy="662.41" r="5.05"/>
<circle cx="247.26" cy="736.84" r="5.05"/>
<circle cx="249.16" cy="752.45" r="5.05"/>
<circle cx="251.26" cy="748.64" r="5.05"/>
<circle cx="252.97" cy="721.99" r="5.05"/>
<circle cx="254.87" cy="741.22" r="5.05"/>
<circle cx="256.97" cy="676.12" r="5.05"/>
<circle cx="258.68" cy="695.15" r="5.05"/>
<circle cx="260.58" cy="685.44" r="5.05"/>
<circle cx="262.68" cy="623.2" r="5.05"/>
<circle cx="264.58" cy="717.42" r="5.05"/>
<circle cx="266.29" cy="733.03" r="5.05"/>
<circle cx="268.39" cy="731.32" r="5.05"/>
<circle cx="270.29" cy="715.71" r="5.05"/>
<circle cx="272" cy="735.5" r="5.05"/>
<circle cx="274.1" cy="725.61" r="5.05"/>
<circle cx="276" cy="617.11" r="5.05"/>
<circle cx="277.71" cy="609.68" r="5.05"/>
<circle cx="279.81" cy="710" r="5.05"/>
<circle cx="281.71" cy="696.67" r="5.05"/>
<circle cx="283.42" cy="706.57" r="5.05"/>
<circle cx="285.52" cy="708.28" r="5.05"/>
<circle cx="287.42" cy="670.4" r="5.05"/>
<circle cx="289.33" cy="706.57" r="5.05"/>
<circle cx="291.23" cy="683.92" r="5.05"/>
<circle cx="293.13" cy="693.44" r="5.05"/>
<circle cx="295.04" cy="638.05" r="5.05"/>
<circle cx="296.75" cy="727.51" r="5.05"/>
<circle cx="298.84" cy="615.2" r="5.05"/>
<circle cx="300.75" cy="687.16" r="5.05"/>
<circle cx="302.46" cy="712.47" r="5.05"/>
<circle cx="304.55" cy="714.38" r="5.05"/>
<circle cx="306.46" cy="594.26" r="5.05"/>
<circle cx="308.17" cy="624.72" r="5.05"/>
<circle cx="310.26" cy="656.89" r="5.05"/>
<circle cx="312.17" cy="689.25" r="5.05"/>
<circle cx="314.26" cy="607.78" r="5.05"/>
<circle cx="315.97" cy="651.18" r="5.05"/>
<circle cx="317.88" cy="668.12" r="5.05"/>
<circle cx="319.97" cy="700.86" r="5.05"/>
<circle cx="321.68" cy="659.17" r="5.05"/>
<circle cx="323.59" cy="653.65" r="5.05"/>
<circle cx="325.68" cy="672.31" r="5.05"/>
<circle cx="327.4" cy="646.99" r="5.05"/>
<circle cx="329.3" cy="645.47" r="5.05"/>
<circle cx="331.39" cy="681.83" r="5.05"/>
<circle cx="333.11" cy="576.94" r="5.05"/>
<circle cx="335.01" cy="691.72" r="5.05"/>
<circle cx="336.91" cy="633.86" r="5.05"/>
<circle cx="338.82" cy="679.73" r="5.05"/>
<circle cx="340.72" cy="645.47" r="5.05"/>
<circle cx="342.62" cy="739.31" r="5.05"/>
<circle cx="344.53" cy="602.07" r="5.05"/>
<circle cx="346.43" cy="630.24" r="5.05"/>
<circle cx="348.33" cy="632.14" r="5.05"/>
<circle cx="350.05" cy="641.85" r="5.05"/>
<circle cx="352.14" cy="596.17" r="5.05"/>
<circle cx="354.04" cy="626.43" r="5.05"/>
<circle cx="355.76" cy="674.02" r="5.05"/>
<circle cx="357.85" cy="678.02" r="5.05"/>
<circle cx="359.75" cy="639.57" r="5.05"/>
<circle cx="361.85" cy="699.15" r="5.05"/>
<circle cx="363.56" cy="719.9" r="5.05"/>
<circle cx="365.47" cy="636.33" r="5.05"/>
<circle cx="367.18" cy="666.6" r="5.05"/>
<circle cx="369.27" cy="643.76" r="5.05"/>
<circle cx="371.18" cy="613.3" r="5.05"/>
<circle cx="373.27" cy="611.59" r="5.05"/>
<circle cx="374.98" cy="652.89" r="5.05"/>
<circle cx="376.89" cy="581.13" r="5.05"/>
<circle cx="378.98" cy="659.17" r="5.05"/>
<circle cx="380.69" cy="619.01" r="5.05"/>
<circle cx="382.6" cy="590.46" r="5.05"/>
<circle cx="384.69" cy="605.31" r="5.05"/>
<circle cx="386.4" cy="729.41" r="5.05"/>
<circle cx="388.31" cy="597.88" r="5.05"/>
<circle cx="390.21" cy="599.98" r="5.05"/>
<circle cx="392.11" cy="584.37" r="5.05"/>
<circle cx="394.02" cy="592.17" r="5.05"/>
<circle cx="395.92" cy="560.19" r="5.05"/>
<circle cx="397.82" cy="628.34" r="5.05"/>
<circle cx="399.73" cy="664.88" r="5.05"/>
<circle cx="401.63" cy="583.03" r="5.05"/>
<circle cx="403.54" cy="578.66" r="5.05"/>
<circle cx="405.44" cy="586.08" r="5.05"/>
<circle cx="407.34" cy="569.52" r="5.05"/>
<circle cx="409.06" cy="588.55" r="5.05"/>
<circle cx="411.15" cy="620.72" r="5.05"/>
<circle cx="413.05" cy="550.29" r="5.05"/>
<circle cx="414.77" cy="552.01" r="5.05"/>
<circle cx="416.86" cy="573.14" r="5.05"/>
<circle cx="418.76" cy="604.16" r="5.05"/>
<circle cx="420.86" cy="561.91" r="5.05"/>
<circle cx="422.57" cy="575.04" r="5.05"/>
<circle cx="424.47" cy="571.23" r="5.05"/>
<circle cx="426.57" cy="554.48" r="5.05"/>
<circle cx="428.28" cy="567.62" r="5.05"/>
<circle cx="432.28" cy="565.71" r="5.05"/>
<circle cx="433.99" cy="544.58" r="5.05"/>
<circle cx="435.89" cy="558.29" r="5.05"/>
<circle cx="437.99" cy="548.39" r="5.05"/>
<circle cx="439.7" cy="565.71" r="5.05"/>
<circle cx="441.61" cy="542.87" r="5.05"/>
<circle cx="443.7" cy="546.3" r="5.05"/>
<circle cx="445.41" cy="540.97" r="5.05"/>
</g>
<text x="229.3" y="551.05" font-size="18.5" fill="#0000FF"><tspan font-style="italic">R</tspan><tspan dx="-0.9"> = </tspan><tspan dx="-0.4">0.83,</tspan> <tspan font-style="italic">p</tspan> &lt; 0.01</text>
<rect x="218.5" y="531.35" width="237" height="237" fill="none" stroke="#000" stroke-width="1.4"/>
<rect x="217.7" y="485.45" width="238.6" height="45.9" fill="#000"/>
<text x="337" y="516.7" font-size="23.47" fill="#fff" text-anchor="middle">2017</text>
<path d="M226.7 768.35v8.1M264.77 768.35v8.1M302.84 768.35v8.1M340.91 768.35v8.1M378.98 768.35v8.1M417.05 768.35v8.1M455.12 768.35v8.1M218.5 760.25h-8M218.5 722.18h-8M218.5 684.11h-8M218.5 646.04h-8M218.5 607.97h-8M218.5 569.9h-8M218.5 531.83h-8" stroke="#000" stroke-width="1.6" fill="none"/>
<text x="226.7" y="799.55" font-size="23.47" text-anchor="middle" fill="#000">0</text>
<text x="264.77" y="799.55" font-size="23.47" text-anchor="middle" fill="#000">20</text>
<text x="302.84" y="799.55" font-size="23.47" text-anchor="middle" fill="#000">40</text>
<text x="340.91" y="799.55" font-size="23.47" text-anchor="middle" fill="#000">60</text>
<text x="378.98" y="799.55" font-size="23.47" text-anchor="middle" fill="#000">80</text>
<text x="417.05" y="799.55" font-size="23.47" text-anchor="middle" fill="#000">100</text>
<text x="455.12" y="799.55" font-size="23.47" text-anchor="middle" fill="#000">120</text>
<text x="203.8" y="769.35" font-size="23.47" text-anchor="end" fill="#000">0</text>
<text x="203.8" y="731.28" font-size="23.47" text-anchor="end" fill="#000">20</text>
<text x="203.8" y="693.21" font-size="23.47" text-anchor="end" fill="#000">40</text>
<text x="203.8" y="655.14" font-size="23.47" text-anchor="end" fill="#000">60</text>
<text x="203.8" y="617.07" font-size="23.47" text-anchor="end" fill="#000">80</text>
<text x="203.8" y="579" font-size="23.47" text-anchor="end" fill="#000">100</text>
<text x="203.8" y="540.93" font-size="23.47" text-anchor="end" fill="#000">120</text>
</g>
<g>
<rect x="524" y="531.35" width="237" height="237" fill="#fff"/>
<path d="M551.5 531.35V768.35M524 741.22H761M589.5 531.35V768.35M524 703.14H761M627.5 531.35V768.35M524 665.08H761M665.5 531.35V768.35M524 627H761M703.5 531.35V768.35M524 588.93H761M741.5 531.35V768.35M524 550.87H761" stroke="#000" stroke-opacity="0.17" stroke-width="1" fill="none"/>
<path d="M532.5 531.35V768.35M524 760.25H761M570.5 531.35V768.35M524 722.18H761M608.5 531.35V768.35M524 684.11H761M646.5 531.35V768.35M524 646.04H761M684.5 531.35V768.35M524 607.97H761M722.5 531.35V768.35M524 569.9H761M760.5 531.35V768.35M524 531.83H761" stroke="#000" stroke-opacity="0.3" stroke-width="1" fill="none"/>
<path d="M534.1 726.85 L536.82 724.84 L539.53 722.83 L542.24 720.82 L544.95 718.81 L547.67 716.79 L550.38 714.77 L553.09 712.75 L555.8 710.73 L558.52 708.71 L561.23 706.68 L563.94 704.65 L566.65 702.61 L569.37 700.58 L572.08 698.54 L574.79 696.5 L577.5 694.45 L580.22 692.4 L582.93 690.34 L585.64 688.28 L588.35 686.22 L591.07 684.15 L593.78 682.07 L596.49 679.99 L599.2 677.9 L601.92 675.8 L604.63 673.7 L607.34 671.59 L610.05 669.47 L612.77 667.35 L615.48 665.21 L618.19 663.07 L620.9 660.91 L623.62 658.75 L626.33 656.57 L629.04 654.39 L631.75 652.19 L634.47 649.98 L637.18 647.76 L639.89 645.52 L642.6 643.28 L645.32 641.02 L648.03 638.75 L650.74 636.47 L653.45 634.18 L656.17 631.87 L658.88 629.56 L661.59 627.23 L664.3 624.89 L667.02 622.54 L669.73 620.18 L672.44 617.82 L675.15 615.44 L677.87 613.06 L680.58 610.66 L683.29 608.26 L686 605.86 L688.72 603.44 L691.43 601.02 L694.14 598.59 L696.85 596.16 L699.57 593.72 L702.28 591.28 L704.99 588.83 L707.7 586.38 L710.42 583.93 L713.13 581.47 L715.84 579 L718.55 576.54 L721.27 574.07 L723.98 571.6 L726.69 569.12 L729.4 566.64 L732.12 564.16 L734.83 561.68 L737.54 559.19 L740.25 556.71 L742.97 554.22 L745.68 551.73 L748.39 549.23 L751.1 546.74 L751.1 572.84 L748.39 574.85 L745.68 576.86 L742.97 578.88 L740.25 580.89 L737.54 582.9 L734.83 584.92 L732.12 586.94 L729.4 588.96 L726.69 590.99 L723.98 593.02 L721.27 595.05 L718.55 597.08 L715.84 599.12 L713.13 601.16 L710.42 603.2 L707.7 605.25 L704.99 607.3 L702.28 609.35 L699.57 611.41 L696.85 613.48 L694.14 615.55 L691.43 617.62 L688.72 619.71 L686 621.79 L683.29 623.89 L680.58 625.99 L677.87 628.1 L675.15 630.22 L672.44 632.35 L669.73 634.48 L667.02 636.63 L664.3 638.78 L661.59 640.95 L658.88 643.12 L656.17 645.31 L653.45 647.51 L650.74 649.72 L648.03 651.94 L645.32 654.17 L642.6 656.42 L639.89 658.67 L637.18 660.94 L634.47 663.22 L631.75 665.52 L629.04 667.82 L626.33 670.14 L623.62 672.47 L620.9 674.8 L618.19 677.15 L615.48 679.51 L612.77 681.88 L610.05 684.25 L607.34 686.64 L604.63 689.03 L601.92 691.43 L599.2 693.84 L596.49 696.25 L593.78 698.67 L591.07 701.1 L588.35 703.53 L585.64 705.97 L582.93 708.41 L580.22 710.86 L577.5 713.31 L574.79 715.77 L572.08 718.23 L569.37 720.69 L566.65 723.16 L563.94 725.63 L561.23 728.1 L558.52 730.57 L555.8 733.05 L553.09 735.53 L550.38 738.01 L547.67 740.5 L544.95 742.99 L542.24 745.48 L539.53 747.97 L536.82 750.46 L534.1 752.95Z" fill="#999" fill-opacity="0.45"/>
<line x1="534.1" y1="739.9" x2="751.1" y2="559.79" stroke="#2748FF" stroke-width="5.9"/>
<g fill="#000" fill-opacity="0.5" stroke="#000" stroke-opacity="0.6" stroke-width="1.7">
<circle cx="533.91" cy="757.78" r="5.05"/>
<circle cx="535.82" cy="750.35" r="5.05"/>
<circle cx="537.72" cy="746.74" r="5.05"/>
<circle cx="539.43" cy="754.16" r="5.05"/>
<circle cx="541.34" cy="756.06" r="5.05"/>
<circle cx="543.43" cy="752.83" r="5.05"/>
<circle cx="545.14" cy="739.31" r="5.05"/>
<circle cx="547.05" cy="744.26" r="5.05"/>
<circle cx="548.76" cy="632.14" r="5.05"/>
<circle cx="550.85" cy="729.41" r="5.05"/>
<circle cx="552.76" cy="741.22" r="5.05"/>
<circle cx="554.47" cy="735.5" r="5.05"/>
<circle cx="556.56" cy="687.73" r="5.05"/>
<circle cx="558.47" cy="746.74" r="5.05"/>
<circle cx="560.37" cy="704.48" r="5.05"/>
<circle cx="562.08" cy="694.58" r="5.05"/>
<circle cx="564.18" cy="728.08" r="5.05"/>
<circle cx="566.08" cy="721.99" r="5.05"/>
<circle cx="568.18" cy="748.64" r="5.05"/>
<circle cx="569.89" cy="653.27" r="5.05"/>
<circle cx="571.79" cy="736.84" r="5.05"/>
<circle cx="573.89" cy="643.76" r="5.05"/>
<circle cx="575.6" cy="723.7" r="5.05"/>
<circle cx="577.5" cy="733.79" r="5.05"/>
<circle cx="579.6" cy="683.54" r="5.05"/>
<circle cx="581.5" cy="691.72" r="5.05"/>
<circle cx="583.21" cy="628.34" r="5.05"/>
<circle cx="585.31" cy="647.56" r="5.05"/>
<circle cx="587.21" cy="710" r="5.05"/>
<circle cx="588.92" cy="720.66" r="5.05"/>
<circle cx="591.02" cy="693.44" r="5.05"/>
<circle cx="592.92" cy="702.76" r="5.05"/>
<circle cx="594.83" cy="725.61" r="5.05"/>
<circle cx="596.73" cy="714.38" r="5.05"/>
<circle cx="598.63" cy="617.11" r="5.05"/>
<circle cx="600.54" cy="651.75" r="5.05"/>
<circle cx="602.25" cy="622.82" r="5.05"/>
<circle cx="604.34" cy="619.01" r="5.05"/>
<circle cx="606.25" cy="672.31" r="5.05"/>
<circle cx="608.34" cy="715.71" r="5.05"/>
<circle cx="610.05" cy="686.01" r="5.05"/>
<circle cx="611.96" cy="712.47" r="5.05"/>
<circle cx="614.05" cy="679.16" r="5.05"/>
<circle cx="615.76" cy="681.83" r="5.05"/>
<circle cx="617.67" cy="731.32" r="5.05"/>
<circle cx="619.76" cy="624.72" r="5.05"/>
<circle cx="621.47" cy="700.86" r="5.05"/>
<circle cx="623.38" cy="660.7" r="5.05"/>
<circle cx="625.09" cy="696.67" r="5.05"/>
<circle cx="627.18" cy="659.17" r="5.05"/>
<circle cx="629.09" cy="605.31" r="5.05"/>
<circle cx="631.18" cy="708.28" r="5.05"/>
<circle cx="632.9" cy="670.4" r="5.05"/>
<circle cx="634.8" cy="633.86" r="5.05"/>
<circle cx="636.89" cy="635.95" r="5.05"/>
<circle cx="638.8" cy="662.41" r="5.05"/>
<circle cx="640.51" cy="666.6" r="5.05"/>
<circle cx="642.41" cy="578.85" r="5.05"/>
<circle cx="644.51" cy="613.3" r="5.05"/>
<circle cx="646.22" cy="699.15" r="5.05"/>
<circle cx="648.12" cy="603.59" r="5.05"/>
<circle cx="650.03" cy="626.43" r="5.05"/>
<circle cx="651.93" cy="654.99" r="5.05"/>
<circle cx="653.83" cy="706.57" r="5.05"/>
<circle cx="655.74" cy="601.69" r="5.05"/>
<circle cx="657.64" cy="567.62" r="5.05"/>
<circle cx="659.54" cy="639.57" r="5.05"/>
<circle cx="661.64" cy="607.78" r="5.05"/>
<circle cx="663.35" cy="678.02" r="5.05"/>
<circle cx="665.25" cy="649.28" r="5.05"/>
<circle cx="667.35" cy="674.02" r="5.05"/>
<circle cx="669.06" cy="638.05" r="5.05"/>
<circle cx="670.97" cy="656.89" r="5.05"/>
<circle cx="673.06" cy="620.72" r="5.05"/>
<circle cx="674.77" cy="594.26" r="5.05"/>
<circle cx="676.68" cy="645.47" r="5.05"/>
<circle cx="678.77" cy="609.68" r="5.05"/>
<circle cx="680.48" cy="668.12" r="5.05"/>
<circle cx="682.39" cy="611.59" r="5.05"/>
<circle cx="684.48" cy="576.94" r="5.05"/>
<circle cx="686.19" cy="676.12" r="5.05"/>
<circle cx="688.1" cy="563.81" r="5.05"/>
<circle cx="690.19" cy="689.25" r="5.05"/>
<circle cx="692.09" cy="718.18" r="5.05"/>
<circle cx="693.81" cy="596.17" r="5.05"/>
<circle cx="695.9" cy="588.55" r="5.05"/>
<circle cx="697.61" cy="630.62" r="5.05"/>
<circle cx="699.52" cy="641.85" r="5.05"/>
<circle cx="701.42" cy="586.08" r="5.05"/>
<circle cx="703.32" cy="590.46" r="5.05"/>
<circle cx="705.23" cy="597.88" r="5.05"/>
<circle cx="707.13" cy="570.66" r="5.05"/>
<circle cx="709.04" cy="592.17" r="5.05"/>
<circle cx="710.94" cy="615.2" r="5.05"/>
<circle cx="712.84" cy="599.98" r="5.05"/>
<circle cx="714.56" cy="575.04" r="5.05"/>
<circle cx="716.65" cy="582.65" r="5.05"/>
<circle cx="718.55" cy="564.95" r="5.05"/>
<circle cx="720.65" cy="664.88" r="5.05"/>
<circle cx="722.36" cy="554.48" r="5.05"/>
<circle cx="724.26" cy="573.14" r="5.05"/>
<circle cx="726.36" cy="584.37" r="5.05"/>
<circle cx="728.07" cy="556.19" r="5.05"/>
<circle cx="729.97" cy="561.91" r="5.05"/>
<circle cx="731.69" cy="548.77" r="5.05"/>
<circle cx="733.78" cy="569.52" r="5.05"/>
<circle cx="735.68" cy="581.13" r="5.05"/>
<circle cx="737.4" cy="557.72" r="5.05"/>
<circle cx="739.49" cy="560.19" r="5.05"/>
<circle cx="741.39" cy="552.77" r="5.05"/>
<circle cx="743.49" cy="546.3" r="5.05"/>
<circle cx="745.2" cy="544.58" r="5.05"/>
<circle cx="747.11" cy="550.29" r="5.05"/>
<circle cx="749.2" cy="542.87" r="5.05"/>
<circle cx="751.1" cy="540.97" r="5.05"/>
</g>
<text x="534.8" y="551.05" font-size="18.5" fill="#0000FF"><tspan font-style="italic">R</tspan><tspan dx="-0.9"> = </tspan><tspan dx="-0.4">0.83,</tspan> <tspan font-style="italic">p</tspan> &lt; 0.01</text>
<rect x="524" y="531.35" width="237" height="237" fill="none" stroke="#000" stroke-width="1.4"/>
<rect x="523.2" y="485.45" width="238.6" height="45.9" fill="#000"/>
<text x="642.5" y="516.7" font-size="23.47" fill="#fff" text-anchor="middle">2018</text>
<path d="M524 650.05h-8.4" stroke="#000" stroke-width="1.9" fill="none"/>
<path d="M532.2 768.35v8.1M570.27 768.35v8.1M608.34 768.35v8.1M646.41 768.35v8.1M684.48 768.35v8.1M722.55 768.35v8.1M760.62 768.35v8.1" stroke="#000" stroke-width="1.6" fill="none"/>
<text x="532.2" y="799.55" font-size="23.47" text-anchor="middle" fill="#000">0</text>
<text x="570.27" y="799.55" font-size="23.47" text-anchor="middle" fill="#000">20</text>
<text x="608.34" y="799.55" font-size="23.47" text-anchor="middle" fill="#000">40</text>
<text x="646.41" y="799.55" font-size="23.47" text-anchor="middle" fill="#000">60</text>
<text x="684.48" y="799.55" font-size="23.47" text-anchor="middle" fill="#000">80</text>
<text x="722.55" y="799.55" font-size="23.47" text-anchor="middle" fill="#000">100</text>
<text x="760.62" y="799.55" font-size="23.47" text-anchor="middle" fill="#000">120</text>
</g>
<g>
<rect x="829.5" y="531.35" width="237" height="237" fill="#fff"/>
<path d="M856.5 531.35V768.35M829.5 741.22H1066.5M894.5 531.35V768.35M829.5 703.14H1066.5M932.5 531.35V768.35M829.5 665.08H1066.5M970.5 531.35V768.35M829.5 627H1066.5M1009.5 531.35V768.35M829.5 588.93H1066.5M1047.5 531.35V768.35M829.5 550.87H1066.5" stroke="#000" stroke-opacity="0.17" stroke-width="1" fill="none"/>
<path d="M837.5 531.35V768.35M829.5 760.25H1066.5M875.5 531.35V768.35M829.5 722.18H1066.5M913.5 531.35V768.35M829.5 684.11H1066.5M951.5 531.35V768.35M829.5 646.04H1066.5M989.5 531.35V768.35M829.5 607.97H1066.5M1028.5 531.35V768.35M829.5 569.9H1066.5M1066.5 531.35V768.35M829.5 531.83H1066.5" stroke="#000" stroke-opacity="0.3" stroke-width="1" fill="none"/>
<path d="M839.6 719.83 L842.32 717.99 L845.03 716.14 L847.74 714.3 L850.45 712.45 L853.17 710.6 L855.88 708.74 L858.59 706.89 L861.3 705.03 L864.02 703.17 L866.73 701.3 L869.44 699.44 L872.15 697.56 L874.87 695.69 L877.58 693.81 L880.29 691.93 L883 690.04 L885.72 688.15 L888.43 686.26 L891.14 684.36 L893.85 682.45 L896.57 680.54 L899.28 678.62 L901.99 676.69 L904.7 674.76 L907.42 672.82 L910.13 670.87 L912.84 668.91 L915.55 666.95 L918.27 664.97 L920.98 662.98 L923.69 660.99 L926.4 658.98 L929.12 656.96 L931.83 654.93 L934.54 652.89 L937.25 650.83 L939.97 648.76 L942.68 646.68 L945.39 644.59 L948.1 642.48 L950.82 640.35 L953.53 638.22 L956.24 636.07 L958.95 633.91 L961.67 631.73 L964.38 629.54 L967.09 627.34 L969.8 625.13 L972.52 622.9 L975.23 620.67 L977.94 618.42 L980.65 616.17 L983.37 613.9 L986.08 611.63 L988.79 609.35 L991.5 607.05 L994.22 604.76 L996.93 602.45 L999.64 600.14 L1002.35 597.82 L1005.07 595.49 L1007.78 593.16 L1010.49 590.83 L1013.2 588.49 L1015.92 586.14 L1018.63 583.79 L1021.34 581.44 L1024.05 579.08 L1026.77 576.72 L1029.48 574.36 L1032.19 571.99 L1034.9 569.62 L1037.62 567.25 L1040.33 564.87 L1043.04 562.5 L1045.75 560.11 L1048.47 557.73 L1051.18 555.35 L1053.89 552.96 L1056.6 550.57 L1056.6 579.86 L1053.89 581.7 L1051.18 583.55 L1048.47 585.4 L1045.75 587.25 L1043.04 589.1 L1040.33 590.95 L1037.62 592.81 L1034.9 594.67 L1032.19 596.53 L1029.48 598.39 L1026.77 600.26 L1024.05 602.13 L1021.34 604 L1018.63 605.88 L1015.92 607.76 L1013.2 609.65 L1010.49 611.54 L1007.78 613.44 L1005.07 615.34 L1002.35 617.25 L999.64 619.16 L996.93 621.08 L994.22 623 L991.5 624.94 L988.79 626.88 L986.08 628.82 L983.37 630.78 L980.65 632.75 L977.94 634.72 L975.23 636.71 L972.52 638.71 L969.8 640.71 L967.09 642.73 L964.38 644.76 L961.67 646.81 L958.95 648.86 L956.24 650.93 L953.53 653.01 L950.82 655.11 L948.1 657.22 L945.39 659.34 L942.68 661.48 L939.97 663.62 L937.25 665.79 L934.54 667.96 L931.83 670.15 L929.12 672.35 L926.4 674.57 L923.69 676.79 L920.98 679.02 L918.27 681.27 L915.55 683.53 L912.84 685.79 L910.13 688.07 L907.42 690.35 L904.7 692.64 L901.99 694.94 L899.28 697.24 L896.57 699.56 L893.85 701.88 L891.14 704.2 L888.43 706.53 L885.72 708.87 L883 711.21 L880.29 713.55 L877.58 715.9 L874.87 718.25 L872.15 720.61 L869.44 722.97 L866.73 725.34 L864.02 727.7 L861.3 730.07 L858.59 732.45 L855.88 734.82 L853.17 737.2 L850.45 739.58 L847.74 741.96 L845.03 744.35 L842.32 746.73 L839.6 749.12Z" fill="#999" fill-opacity="0.45"/>
<line x1="839.6" y1="734.48" x2="1056.6" y2="565.22" stroke="#2748FF" stroke-width="5.9"/>
<g fill="#000" fill-opacity="0.5" stroke="#000" stroke-opacity="0.6" stroke-width="1.7">
<circle cx="838.84" cy="757.78" r="5.05"/>
<circle cx="840.94" cy="756.06" r="5.05"/>
<circle cx="842.65" cy="754.16" r="5.05"/>
<circle cx="844.36" cy="742.93" r="5.05"/>
<circle cx="846.27" cy="750.35" r="5.05"/>
<circle cx="848.36" cy="744.64" r="5.05"/>
<circle cx="850.64" cy="725.61" r="5.05"/>
<circle cx="852.55" cy="752.45" r="5.05"/>
<circle cx="854.45" cy="714.38" r="5.05"/>
<circle cx="856.35" cy="734.74" r="5.05"/>
<circle cx="858.26" cy="623.2" r="5.05"/>
<circle cx="860.16" cy="733.03" r="5.05"/>
<circle cx="862.06" cy="731.32" r="5.05"/>
<circle cx="863.97" cy="741.22" r="5.05"/>
<circle cx="865.87" cy="681.83" r="5.05"/>
<circle cx="867.97" cy="638.05" r="5.05"/>
<circle cx="869.68" cy="654.99" r="5.05"/>
<circle cx="871.58" cy="660.7" r="5.05"/>
<circle cx="873.68" cy="719.9" r="5.05"/>
<circle cx="875.58" cy="697.05" r="5.05"/>
<circle cx="877.29" cy="739.31" r="5.05"/>
<circle cx="879.39" cy="721.99" r="5.05"/>
<circle cx="881.29" cy="723.7" r="5.05"/>
<circle cx="883" cy="670.6" r="5.05"/>
<circle cx="885.1" cy="706.57" r="5.05"/>
<circle cx="887" cy="748.64" r="5.05"/>
<circle cx="888.71" cy="693.44" r="5.05"/>
<circle cx="890.81" cy="672.31" r="5.05"/>
<circle cx="892.71" cy="605.31" r="5.05"/>
<circle cx="894.42" cy="702.57" r="5.05"/>
<circle cx="896.52" cy="687.73" r="5.05"/>
<circle cx="898.42" cy="643.76" r="5.05"/>
<circle cx="900.33" cy="712.47" r="5.05"/>
<circle cx="902.42" cy="700.86" r="5.05"/>
<circle cx="904.13" cy="728.08" r="5.05"/>
<circle cx="906.04" cy="624.72" r="5.05"/>
<circle cx="907.75" cy="641.85" r="5.05"/>
<circle cx="909.84" cy="715.71" r="5.05"/>
<circle cx="911.75" cy="736.84" r="5.05"/>
<circle cx="913.46" cy="626.43" r="5.05"/>
<circle cx="915.55" cy="691.72" r="5.05"/>
<circle cx="917.46" cy="704.48" r="5.05"/>
<circle cx="919.17" cy="679.73" r="5.05"/>
<circle cx="921.26" cy="699.15" r="5.05"/>
<circle cx="923.17" cy="662.41" r="5.05"/>
<circle cx="924.88" cy="590.46" r="5.05"/>
<circle cx="926.97" cy="584.37" r="5.05"/>
<circle cx="928.88" cy="652.89" r="5.05"/>
<circle cx="930.59" cy="666.6" r="5.05"/>
<circle cx="932.68" cy="639.57" r="5.05"/>
<circle cx="934.59" cy="649.28" r="5.05"/>
<circle cx="936.68" cy="581.13" r="5.05"/>
<circle cx="938.4" cy="628.34" r="5.05"/>
<circle cx="940.3" cy="578.85" r="5.05"/>
<circle cx="942.39" cy="710.19" r="5.05"/>
<circle cx="944.11" cy="674.02" r="5.05"/>
<circle cx="946.01" cy="708.28" r="5.05"/>
<circle cx="947.91" cy="664.88" r="5.05"/>
<circle cx="949.82" cy="630.62" r="5.05"/>
<circle cx="951.72" cy="668.12" r="5.05"/>
<circle cx="953.62" cy="676.12" r="5.05"/>
<circle cx="955.53" cy="685.44" r="5.05"/>
<circle cx="957.43" cy="746.74" r="5.05"/>
<circle cx="959.33" cy="604.16" r="5.05"/>
<circle cx="961.05" cy="596.17" r="5.05"/>
<circle cx="963.14" cy="583.03" r="5.05"/>
<circle cx="965.04" cy="646.99" r="5.05"/>
<circle cx="966.76" cy="645.47" r="5.05"/>
<circle cx="968.85" cy="718.18" r="5.05"/>
<circle cx="970.75" cy="565.71" r="5.05"/>
<circle cx="972.85" cy="683.92" r="5.05"/>
<circle cx="974.56" cy="651.18" r="5.05"/>
<circle cx="976.47" cy="695.15" r="5.05"/>
<circle cx="978.56" cy="678.02" r="5.05"/>
<circle cx="980.27" cy="607.78" r="5.05"/>
<circle cx="982.18" cy="597.88" r="5.05"/>
<circle cx="984.27" cy="656.89" r="5.05"/>
<circle cx="985.98" cy="617.11" r="5.05"/>
<circle cx="987.89" cy="552.58" r="5.05"/>
<circle cx="989.98" cy="659.17" r="5.05"/>
<circle cx="991.69" cy="615.2" r="5.05"/>
<circle cx="993.6" cy="729.41" r="5.05"/>
<circle cx="995.69" cy="636.33" r="5.05"/>
<circle cx="997.59" cy="609.68" r="5.05"/>
<circle cx="999.31" cy="689.25" r="5.05"/>
<circle cx="1001.21" cy="588.55" r="5.05"/>
<circle cx="1003.3" cy="611.59" r="5.05"/>
<circle cx="1005.02" cy="601.69" r="5.05"/>
<circle cx="1006.92" cy="599.98" r="5.05"/>
<circle cx="1009.02" cy="620.72" r="5.05"/>
<circle cx="1010.73" cy="613.3" r="5.05"/>
<circle cx="1012.63" cy="633.86" r="5.05"/>
<circle cx="1014.73" cy="567.62" r="5.05"/>
<circle cx="1016.44" cy="586.84" r="5.05"/>
<circle cx="1018.34" cy="576.94" r="5.05"/>
<circle cx="1020.06" cy="554.48" r="5.05"/>
<circle cx="1022.15" cy="632.14" r="5.05"/>
<circle cx="1024.05" cy="592.17" r="5.05"/>
<circle cx="1025.77" cy="594.26" r="5.05"/>
<circle cx="1027.86" cy="575.04" r="5.05"/>
<circle cx="1029.76" cy="573.14" r="5.05"/>
<circle cx="1031.86" cy="560.19" r="5.05"/>
<circle cx="1033.57" cy="571.23" r="5.05"/>
<circle cx="1035.47" cy="569.52" r="5.05"/>
<circle cx="1037.57" cy="558.29" r="5.05"/>
<circle cx="1039.28" cy="561.91" r="5.05"/>
<circle cx="1041.18" cy="556.19" r="5.05"/>
<circle cx="1043.28" cy="563.81" r="5.05"/>
<circle cx="1044.99" cy="619.01" r="5.05"/>
<circle cx="1046.89" cy="544.58" r="5.05"/>
<circle cx="1048.99" cy="542.87" r="5.05"/>
<circle cx="1050.7" cy="546.3" r="5.05"/>
<circle cx="1052.61" cy="550.29" r="5.05"/>
<circle cx="1054.7" cy="548.39" r="5.05"/>
<circle cx="1056.6" cy="540.97" r="5.05"/>
</g>
<text x="840.3" y="551.05" font-size="18.5" fill="#0000FF"><tspan font-style="italic">R</tspan><tspan dx="-0.9"> = </tspan><tspan dx="-0.4">0.78,</tspan> <tspan font-style="italic">p</tspan> &lt; 0.01</text>
<rect x="829.5" y="531.35" width="237" height="237" fill="none" stroke="#000" stroke-width="1.4"/>
<rect x="828.7" y="485.45" width="238.6" height="45.9" fill="#000"/>
<text x="948" y="516.7" font-size="23.47" fill="#fff" text-anchor="middle">2019</text>
<path d="M829.5 650.05h-8.4" stroke="#000" stroke-width="1.9" fill="none"/>
<path d="M837.7 768.35v8.1M875.77 768.35v8.1M913.84 768.35v8.1M951.91 768.35v8.1M989.98 768.35v8.1M1028.05 768.35v8.1M1066.12 768.35v8.1" stroke="#000" stroke-width="1.6" fill="none"/>
<text x="837.7" y="799.55" font-size="23.47" text-anchor="middle" fill="#000">0</text>
<text x="875.77" y="799.55" font-size="23.47" text-anchor="middle" fill="#000">20</text>
<text x="913.84" y="799.55" font-size="23.47" text-anchor="middle" fill="#000">40</text>
<text x="951.91" y="799.55" font-size="23.47" text-anchor="middle" fill="#000">60</text>
<text x="989.98" y="799.55" font-size="23.47" text-anchor="middle" fill="#000">80</text>
<text x="1028.05" y="799.55" font-size="23.47" text-anchor="middle" fill="#000">100</text>
<text x="1066.12" y="799.55" font-size="23.47" text-anchor="middle" fill="#000">120</text>
</g>
<g>
<rect x="1135" y="531.35" width="237" height="237" fill="#fff"/>
<path d="M1162.5 531.35V768.35M1135 741.22H1372M1200.5 531.35V768.35M1135 703.14H1372M1238.5 531.35V768.35M1135 665.08H1372M1276.5 531.35V768.35M1135 627H1372M1314.5 531.35V768.35M1135 588.93H1372M1352.5 531.35V768.35M1135 550.87H1372" stroke="#000" stroke-opacity="0.17" stroke-width="1" fill="none"/>
<path d="M1143.5 531.35V768.35M1135 760.25H1372M1181.5 531.35V768.35M1135 722.18H1372M1219.5 531.35V768.35M1135 684.11H1372M1257.5 531.35V768.35M1135 646.04H1372M1295.5 531.35V768.35M1135 607.97H1372M1333.5 531.35V768.35M1135 569.9H1372M1371.5 531.35V768.35M1135 531.83H1372" stroke="#000" stroke-opacity="0.3" stroke-width="1" fill="none"/>
<path d="M1145.1 715.74 L1147.82 714 L1150.53 712.25 L1153.24 710.5 L1155.95 708.75 L1158.67 706.99 L1161.38 705.23 L1164.09 703.47 L1166.8 701.71 L1169.52 699.95 L1172.23 698.18 L1174.94 696.41 L1177.65 694.63 L1180.37 692.85 L1183.08 691.07 L1185.79 689.28 L1188.5 687.49 L1191.22 685.69 L1193.93 683.89 L1196.64 682.08 L1199.35 680.27 L1202.07 678.45 L1204.78 676.62 L1207.49 674.79 L1210.2 672.95 L1212.92 671.1 L1215.63 669.24 L1218.34 667.37 L1221.05 665.5 L1223.77 663.61 L1226.48 661.71 L1229.19 659.81 L1231.9 657.89 L1234.62 655.95 L1237.33 654.01 L1240.04 652.05 L1242.75 650.08 L1245.47 648.1 L1248.18 646.1 L1250.89 644.08 L1253.6 642.06 L1256.32 640.02 L1259.03 637.96 L1261.74 635.89 L1264.45 633.81 L1267.17 631.71 L1269.88 629.6 L1272.59 627.47 L1275.3 625.34 L1278.02 623.19 L1280.73 621.03 L1283.44 618.85 L1286.15 616.67 L1288.87 614.48 L1291.58 612.28 L1294.29 610.07 L1297 607.85 L1299.72 605.62 L1302.43 603.38 L1305.14 601.14 L1307.85 598.89 L1310.57 596.64 L1313.28 594.38 L1315.99 592.11 L1318.7 589.84 L1321.42 587.56 L1324.13 585.28 L1326.84 582.99 L1329.55 580.71 L1332.27 578.41 L1334.98 576.12 L1337.69 573.82 L1340.4 571.51 L1343.12 569.21 L1345.83 566.9 L1348.54 564.59 L1351.25 562.27 L1353.97 559.96 L1356.68 557.64 L1359.39 555.32 L1362.1 552.99 L1362.1 583.95 L1359.39 585.7 L1356.68 587.45 L1353.97 589.2 L1351.25 590.95 L1348.54 592.7 L1345.83 594.46 L1343.12 596.22 L1340.4 597.98 L1337.69 599.75 L1334.98 601.52 L1332.27 603.29 L1329.55 605.06 L1326.84 606.84 L1324.13 608.63 L1321.42 610.41 L1318.7 612.21 L1315.99 614 L1313.28 615.81 L1310.57 617.61 L1307.85 619.43 L1305.14 621.25 L1302.43 623.07 L1299.72 624.91 L1297 626.75 L1294.29 628.6 L1291.58 630.45 L1288.87 632.32 L1286.15 634.2 L1283.44 636.08 L1280.73 637.98 L1278.02 639.89 L1275.3 641.81 L1272.59 643.74 L1269.88 645.68 L1267.17 647.64 L1264.45 649.61 L1261.74 651.6 L1259.03 653.6 L1256.32 655.61 L1253.6 657.64 L1250.89 659.68 L1248.18 661.73 L1245.47 663.8 L1242.75 665.89 L1240.04 667.99 L1237.33 670.1 L1234.62 672.22 L1231.9 674.36 L1229.19 676.51 L1226.48 678.67 L1223.77 680.84 L1221.05 683.02 L1218.34 685.21 L1215.63 687.42 L1212.92 689.63 L1210.2 691.85 L1207.49 694.07 L1204.78 696.31 L1202.07 698.55 L1199.35 700.8 L1196.64 703.06 L1193.93 705.32 L1191.22 707.58 L1188.5 709.86 L1185.79 712.13 L1183.08 714.41 L1180.37 716.7 L1177.65 718.99 L1174.94 721.28 L1172.23 723.58 L1169.52 725.88 L1166.8 728.18 L1164.09 730.49 L1161.38 732.8 L1158.67 735.11 L1155.95 737.42 L1153.24 739.74 L1150.53 742.06 L1147.82 744.38 L1145.1 746.7Z" fill="#999" fill-opacity="0.45"/>
<line x1="1145.1" y1="731.22" x2="1362.1" y2="568.47" stroke="#2748FF" stroke-width="5.9"/>
<g fill="#000" fill-opacity="0.5" stroke="#000" stroke-opacity="0.6" stroke-width="1.7">
<circle cx="1144.91" cy="746.74" r="5.05"/>
<circle cx="1146.82" cy="756.06" r="5.05"/>
<circle cx="1148.72" cy="757.78" r="5.05"/>
<circle cx="1150.43" cy="754.16" r="5.05"/>
<circle cx="1152.34" cy="741.22" r="5.05"/>
<circle cx="1154.43" cy="694.58" r="5.05"/>
<circle cx="1156.14" cy="750.35" r="5.05"/>
<circle cx="1158.05" cy="729.41" r="5.05"/>
<circle cx="1159.76" cy="746.74" r="5.05"/>
<circle cx="1161.85" cy="737.22" r="5.05"/>
<circle cx="1163.76" cy="712.47" r="5.05"/>
<circle cx="1165.66" cy="704.48" r="5.05"/>
<circle cx="1167.76" cy="742.93" r="5.05"/>
<circle cx="1169.47" cy="676.12" r="5.05"/>
<circle cx="1171.37" cy="636.33" r="5.05"/>
<circle cx="1173.47" cy="596.74" r="5.05"/>
<circle cx="1175.18" cy="717.42" r="5.05"/>
<circle cx="1177.08" cy="706.57" r="5.05"/>
<circle cx="1179.18" cy="727.51" r="5.05"/>
<circle cx="1181.08" cy="630.62" r="5.05"/>
<circle cx="1182.79" cy="687.16" r="5.05"/>
<circle cx="1184.89" cy="725.61" r="5.05"/>
<circle cx="1186.79" cy="632.72" r="5.05"/>
<circle cx="1188.88" cy="668.5" r="5.05"/>
<circle cx="1190.6" cy="691.72" r="5.05"/>
<circle cx="1192.5" cy="681.83" r="5.05"/>
<circle cx="1194.59" cy="735.5" r="5.05"/>
<circle cx="1196.31" cy="708.28" r="5.05"/>
<circle cx="1198.21" cy="731.32" r="5.05"/>
<circle cx="1200.11" cy="651.75" r="5.05"/>
<circle cx="1202.02" cy="714.38" r="5.05"/>
<circle cx="1203.92" cy="715.71" r="5.05"/>
<circle cx="1205.83" cy="697.05" r="5.05"/>
<circle cx="1207.73" cy="583.03" r="5.05"/>
<circle cx="1209.63" cy="693.44" r="5.05"/>
<circle cx="1211.54" cy="751.68" r="5.05"/>
<circle cx="1213.63" cy="678.02" r="5.05"/>
<circle cx="1215.34" cy="647.56" r="5.05"/>
<circle cx="1217.25" cy="649.47" r="5.05"/>
<circle cx="1219.34" cy="738.74" r="5.05"/>
<circle cx="1221.05" cy="626.43" r="5.05"/>
<circle cx="1222.96" cy="689.25" r="5.05"/>
<circle cx="1224.67" cy="578.85" r="5.05"/>
<circle cx="1226.76" cy="640.14" r="5.05"/>
<circle cx="1228.67" cy="699.15" r="5.05"/>
<circle cx="1230.38" cy="679.73" r="5.05"/>
<circle cx="1232.47" cy="723.13" r="5.05"/>
<circle cx="1234.38" cy="672.31" r="5.05"/>
<circle cx="1236.09" cy="653.27" r="5.05"/>
<circle cx="1238.18" cy="592.17" r="5.05"/>
<circle cx="1240.09" cy="719.9" r="5.05"/>
<circle cx="1242.18" cy="594.26" r="5.05"/>
<circle cx="1243.9" cy="645.47" r="5.05"/>
<circle cx="1245.8" cy="674.02" r="5.05"/>
<circle cx="1247.89" cy="628.34" r="5.05"/>
<circle cx="1249.61" cy="586.84" r="5.05"/>
<circle cx="1251.51" cy="654.99" r="5.05"/>
<circle cx="1253.41" cy="613.3" r="5.05"/>
<circle cx="1255.51" cy="721.99" r="5.05"/>
<circle cx="1257.22" cy="605.31" r="5.05"/>
<circle cx="1259.12" cy="702.57" r="5.05"/>
<circle cx="1261.03" cy="666.6" r="5.05"/>
<circle cx="1262.93" cy="622.82" r="5.05"/>
<circle cx="1264.83" cy="733.6" r="5.05"/>
<circle cx="1266.74" cy="581.13" r="5.05"/>
<circle cx="1268.64" cy="657.46" r="5.05"/>
<circle cx="1270.54" cy="700.86" r="5.05"/>
<circle cx="1272.64" cy="576.94" r="5.05"/>
<circle cx="1274.35" cy="662.41" r="5.05"/>
<circle cx="1276.25" cy="671.17" r="5.05"/>
<circle cx="1278.35" cy="624.72" r="5.05"/>
<circle cx="1280.06" cy="575.04" r="5.05"/>
<circle cx="1281.97" cy="617.11" r="5.05"/>
<circle cx="1284.06" cy="660.7" r="5.05"/>
<circle cx="1285.77" cy="685.44" r="5.05"/>
<circle cx="1287.68" cy="620.72" r="5.05"/>
<circle cx="1289.77" cy="659.17" r="5.05"/>
<circle cx="1291.48" cy="619.01" r="5.05"/>
<circle cx="1293.39" cy="643.76" r="5.05"/>
<circle cx="1295.48" cy="750.35" r="5.05"/>
<circle cx="1297.19" cy="602.07" r="5.05"/>
<circle cx="1299.1" cy="638.05" r="5.05"/>
<circle cx="1301.19" cy="611.59" r="5.05"/>
<circle cx="1303.09" cy="590.46" r="5.05"/>
<circle cx="1304.81" cy="641.85" r="5.05"/>
<circle cx="1306.9" cy="607.78" r="5.05"/>
<circle cx="1308.61" cy="710" r="5.05"/>
<circle cx="1310.52" cy="633.86" r="5.05"/>
<circle cx="1312.42" cy="664.88" r="5.05"/>
<circle cx="1314.32" cy="597.88" r="5.05"/>
<circle cx="1316.23" cy="554.48" r="5.05"/>
<circle cx="1318.13" cy="588.55" r="5.05"/>
<circle cx="1320.04" cy="603.59" r="5.05"/>
<circle cx="1321.94" cy="599.98" r="5.05"/>
<circle cx="1323.84" cy="615.2" r="5.05"/>
<circle cx="1325.56" cy="563.81" r="5.05"/>
<circle cx="1327.65" cy="565.71" r="5.05"/>
<circle cx="1329.55" cy="683.92" r="5.05"/>
<circle cx="1331.65" cy="573.14" r="5.05"/>
<circle cx="1333.36" cy="567.62" r="5.05"/>
<circle cx="1335.26" cy="555.81" r="5.05"/>
<circle cx="1337.36" cy="584.75" r="5.05"/>
<circle cx="1339.07" cy="609.68" r="5.05"/>
<circle cx="1340.97" cy="560.19" r="5.05"/>
<circle cx="1342.69" cy="552.01" r="5.05"/>
<circle cx="1344.78" cy="569.52" r="5.05"/>
<circle cx="1346.68" cy="558.29" r="5.05"/>
<circle cx="1348.78" cy="571.23" r="5.05"/>
<circle cx="1350.49" cy="561.91" r="5.05"/>
<circle cx="1352.39" cy="548.39" r="5.05"/>
<circle cx="1354.49" cy="546.3" r="5.05"/>
<circle cx="1356.2" cy="544.58" r="5.05"/>
<circle cx="1358.11" cy="550.29" r="5.05"/>
<circle cx="1360.2" cy="542.87" r="5.05"/>
<circle cx="1362.1" cy="540.97" r="5.05"/>
</g>
<text x="1145.8" y="551.05" font-size="18.5" fill="#0000FF"><tspan font-style="italic">R</tspan><tspan dx="-0.9"> = </tspan><tspan dx="-0.4">0.75,</tspan> <tspan font-style="italic">p</tspan> &lt; 0.01</text>
<rect x="1135" y="531.35" width="237" height="237" fill="none" stroke="#000" stroke-width="1.4"/>
<rect x="1134.2" y="485.45" width="238.6" height="45.9" fill="#000"/>
<text x="1253.5" y="516.7" font-size="23.47" fill="#fff" text-anchor="middle">2020</text>
<path d="M1135 650.05h-8.4" stroke="#000" stroke-width="1.9" fill="none"/>
<path d="M1143.2 768.35v8.1M1181.27 768.35v8.1M1219.34 768.35v8.1M1257.41 768.35v8.1M1295.48 768.35v8.1M1333.55 768.35v8.1M1371.62 768.35v8.1" stroke="#000" stroke-width="1.6" fill="none"/>
<text x="1143.2" y="799.55" font-size="23.47" text-anchor="middle" fill="#000">0</text>
<text x="1181.27" y="799.55" font-size="23.47" text-anchor="middle" fill="#000">20</text>
<text x="1219.34" y="799.55" font-size="23.47" text-anchor="middle" fill="#000">40</text>
<text x="1257.41" y="799.55" font-size="23.47" text-anchor="middle" fill="#000">60</text>
<text x="1295.48" y="799.55" font-size="23.47" text-anchor="middle" fill="#000">80</text>
<text x="1333.55" y="799.55" font-size="23.47" text-anchor="middle" fill="#000">100</text>
<text x="1371.62" y="799.55" font-size="23.47" text-anchor="middle" fill="#000">120</text>
</g>
<g>
<rect x="1440.5" y="531.35" width="237" height="237" fill="#fff"/>
<path d="M1467.5 531.35V768.35M1440.5 741.22H1677.5M1505.5 531.35V768.35M1440.5 703.14H1677.5M1543.5 531.35V768.35M1440.5 665.08H1677.5M1581.5 531.35V768.35M1440.5 627H1677.5M1620.5 531.35V768.35M1440.5 588.93H1677.5M1658.5 531.35V768.35M1440.5 550.87H1677.5" stroke="#000" stroke-opacity="0.17" stroke-width="1" fill="none"/>
<path d="M1448.5 531.35V768.35M1440.5 760.25H1677.5M1486.5 531.35V768.35M1440.5 722.18H1677.5M1524.5 531.35V768.35M1440.5 684.11H1677.5M1562.5 531.35V768.35M1440.5 646.04H1677.5M1600.5 531.35V768.35M1440.5 607.97H1677.5M1639.5 531.35V768.35M1440.5 569.9H1677.5M1677.5 531.35V768.35M1440.5 531.83H1677.5" stroke="#000" stroke-opacity="0.3" stroke-width="1" fill="none"/>
<path d="M1450.6 719.83 L1453.32 717.99 L1456.03 716.14 L1458.74 714.3 L1461.45 712.45 L1464.17 710.6 L1466.88 708.74 L1469.59 706.89 L1472.3 705.03 L1475.02 703.17 L1477.73 701.3 L1480.44 699.44 L1483.15 697.56 L1485.87 695.69 L1488.58 693.81 L1491.29 691.93 L1494 690.04 L1496.72 688.15 L1499.43 686.26 L1502.14 684.36 L1504.85 682.45 L1507.57 680.54 L1510.28 678.62 L1512.99 676.69 L1515.7 674.76 L1518.42 672.82 L1521.13 670.87 L1523.84 668.91 L1526.55 666.95 L1529.27 664.97 L1531.98 662.98 L1534.69 660.99 L1537.4 658.98 L1540.12 656.96 L1542.83 654.93 L1545.54 652.89 L1548.25 650.83 L1550.97 648.76 L1553.68 646.68 L1556.39 644.59 L1559.1 642.48 L1561.82 640.35 L1564.53 638.22 L1567.24 636.07 L1569.95 633.91 L1572.67 631.73 L1575.38 629.54 L1578.09 627.34 L1580.8 625.13 L1583.52 622.9 L1586.23 620.67 L1588.94 618.42 L1591.65 616.17 L1594.37 613.9 L1597.08 611.63 L1599.79 609.35 L1602.5 607.05 L1605.22 604.76 L1607.93 602.45 L1610.64 600.14 L1613.35 597.82 L1616.07 595.49 L1618.78 593.16 L1621.49 590.83 L1624.2 588.49 L1626.92 586.14 L1629.63 583.79 L1632.34 581.44 L1635.05 579.08 L1637.77 576.72 L1640.48 574.36 L1643.19 571.99 L1645.9 569.62 L1648.62 567.25 L1651.33 564.87 L1654.04 562.5 L1656.75 560.11 L1659.47 557.73 L1662.18 555.35 L1664.89 552.96 L1667.6 550.57 L1667.6 579.86 L1664.89 581.7 L1662.18 583.55 L1659.47 585.4 L1656.75 587.25 L1654.04 589.1 L1651.33 590.95 L1648.62 592.81 L1645.9 594.67 L1643.19 596.53 L1640.48 598.39 L1637.77 600.26 L1635.05 602.13 L1632.34 604 L1629.63 605.88 L1626.92 607.76 L1624.2 609.65 L1621.49 611.54 L1618.78 613.44 L1616.07 615.34 L1613.35 617.25 L1610.64 619.16 L1607.93 621.08 L1605.22 623 L1602.5 624.94 L1599.79 626.88 L1597.08 628.82 L1594.37 630.78 L1591.65 632.75 L1588.94 634.72 L1586.23 636.71 L1583.52 638.71 L1580.8 640.71 L1578.09 642.73 L1575.38 644.76 L1572.67 646.81 L1569.95 648.86 L1567.24 650.93 L1564.53 653.01 L1561.82 655.11 L1559.1 657.22 L1556.39 659.34 L1553.68 661.48 L1550.97 663.62 L1548.25 665.79 L1545.54 667.96 L1542.83 670.15 L1540.12 672.35 L1537.4 674.57 L1534.69 676.79 L1531.98 679.02 L1529.27 681.27 L1526.55 683.53 L1523.84 685.79 L1521.13 688.07 L1518.42 690.35 L1515.7 692.64 L1512.99 694.94 L1510.28 697.24 L1507.57 699.56 L1504.85 701.88 L1502.14 704.2 L1499.43 706.53 L1496.72 708.87 L1494 711.21 L1491.29 713.55 L1488.58 715.9 L1485.87 718.25 L1483.15 720.61 L1480.44 722.97 L1477.73 725.34 L1475.02 727.7 L1472.3 730.07 L1469.59 732.45 L1466.88 734.82 L1464.17 737.2 L1461.45 739.58 L1458.74 741.96 L1456.03 744.35 L1453.32 746.73 L1450.6 749.12Z" fill="#999" fill-opacity="0.45"/>
<line x1="1450.6" y1="734.48" x2="1667.6" y2="565.22" stroke="#2748FF" stroke-width="5.9"/>
<g fill="#000" fill-opacity="0.5" stroke="#000" stroke-opacity="0.6" stroke-width="1.7">
<circle cx="1449.84" cy="757.78" r="5.05"/>
<circle cx="1451.94" cy="756.06" r="5.05"/>
<circle cx="1453.65" cy="742.93" r="5.05"/>
<circle cx="1455.36" cy="725.61" r="5.05"/>
<circle cx="1457.84" cy="715.71" r="5.05"/>
<circle cx="1459.36" cy="729.41" r="5.05"/>
<circle cx="1461.64" cy="754.16" r="5.05"/>
<circle cx="1463.55" cy="746.74" r="5.05"/>
<circle cx="1465.45" cy="750.35" r="5.05"/>
<circle cx="1467.35" cy="672.88" r="5.05"/>
<circle cx="1469.26" cy="691.72" r="5.05"/>
<circle cx="1471.16" cy="752.45" r="5.05"/>
<circle cx="1473.26" cy="741.22" r="5.05"/>
<circle cx="1474.97" cy="735.5" r="5.05"/>
<circle cx="1476.87" cy="626.43" r="5.05"/>
<circle cx="1478.97" cy="748.64" r="5.05"/>
<circle cx="1480.68" cy="704.48" r="5.05"/>
<circle cx="1482.58" cy="641.85" r="5.05"/>
<circle cx="1484.68" cy="718.18" r="5.05"/>
<circle cx="1486.58" cy="712.47" r="5.05"/>
<circle cx="1488.29" cy="662.98" r="5.05"/>
<circle cx="1490.39" cy="630.62" r="5.05"/>
<circle cx="1492.29" cy="721.99" r="5.05"/>
<circle cx="1494" cy="736.84" r="5.05"/>
<circle cx="1496.1" cy="681.83" r="5.05"/>
<circle cx="1498" cy="727.51" r="5.05"/>
<circle cx="1499.71" cy="714.38" r="5.05"/>
<circle cx="1501.81" cy="676.12" r="5.05"/>
<circle cx="1503.71" cy="651.75" r="5.05"/>
<circle cx="1505.42" cy="683.54" r="5.05"/>
<circle cx="1507.52" cy="686.01" r="5.05"/>
<circle cx="1509.42" cy="723.13" r="5.05"/>
<circle cx="1511.33" cy="744.26" r="5.05"/>
<circle cx="1513.23" cy="679.73" r="5.05"/>
<circle cx="1515.13" cy="733.6" r="5.05"/>
<circle cx="1517.04" cy="636.33" r="5.05"/>
<circle cx="1518.75" cy="670.6" r="5.05"/>
<circle cx="1520.84" cy="605.31" r="5.05"/>
<circle cx="1522.75" cy="649.47" r="5.05"/>
<circle cx="1524.46" cy="702.57" r="5.05"/>
<circle cx="1526.55" cy="657.46" r="5.05"/>
<circle cx="1528.46" cy="664.88" r="5.05"/>
<circle cx="1530.17" cy="720.09" r="5.05"/>
<circle cx="1532.26" cy="647.56" r="5.05"/>
<circle cx="1534.17" cy="590.46" r="5.05"/>
<circle cx="1535.88" cy="695.15" r="5.05"/>
<circle cx="1537.97" cy="638.05" r="5.05"/>
<circle cx="1539.88" cy="563.81" r="5.05"/>
<circle cx="1541.59" cy="640.14" r="5.05"/>
<circle cx="1543.68" cy="689.25" r="5.05"/>
<circle cx="1545.59" cy="624.72" r="5.05"/>
<circle cx="1547.68" cy="645.47" r="5.05"/>
<circle cx="1549.4" cy="674.02" r="5.05"/>
<circle cx="1551.3" cy="666.6" r="5.05"/>
<circle cx="1553.39" cy="710" r="5.05"/>
<circle cx="1555.11" cy="678.59" r="5.05"/>
<circle cx="1557.01" cy="632.14" r="5.05"/>
<circle cx="1558.91" cy="660.7" r="5.05"/>
<circle cx="1560.82" cy="628.34" r="5.05"/>
<circle cx="1562.72" cy="622.82" r="5.05"/>
<circle cx="1564.62" cy="581.13" r="5.05"/>
<circle cx="1566.53" cy="731.13" r="5.05"/>
<circle cx="1568.43" cy="578.85" r="5.05"/>
<circle cx="1570.33" cy="693.44" r="5.05"/>
<circle cx="1572.05" cy="613.3" r="5.05"/>
<circle cx="1574.14" cy="607.4" r="5.05"/>
<circle cx="1576.04" cy="700.86" r="5.05"/>
<circle cx="1577.76" cy="668.5" r="5.05"/>
<circle cx="1579.85" cy="659.17" r="5.05"/>
<circle cx="1581.75" cy="617.11" r="5.05"/>
<circle cx="1583.85" cy="594.26" r="5.05"/>
<circle cx="1585.56" cy="619.01" r="5.05"/>
<circle cx="1587.47" cy="609.68" r="5.05"/>
<circle cx="1589.56" cy="696.67" r="5.05"/>
<circle cx="1591.27" cy="706.57" r="5.05"/>
<circle cx="1593.18" cy="596.17" r="5.05"/>
<circle cx="1595.27" cy="654.99" r="5.05"/>
<circle cx="1596.98" cy="591.79" r="5.05"/>
<circle cx="1598.89" cy="643.76" r="5.05"/>
<circle cx="1600.98" cy="687.16" r="5.05"/>
<circle cx="1602.69" cy="699.15" r="5.05"/>
<circle cx="1604.6" cy="588.55" r="5.05"/>
<circle cx="1606.69" cy="653.27" r="5.05"/>
<circle cx="1608.59" cy="620.72" r="5.05"/>
<circle cx="1610.31" cy="739.31" r="5.05"/>
<circle cx="1612.21" cy="576.94" r="5.05"/>
<circle cx="1614.3" cy="583.03" r="5.05"/>
<circle cx="1616.02" cy="633.86" r="5.05"/>
<circle cx="1617.92" cy="570.66" r="5.05"/>
<circle cx="1620.02" cy="597.88" r="5.05"/>
<circle cx="1621.73" cy="575.04" r="5.05"/>
<circle cx="1623.63" cy="599.98" r="5.05"/>
<circle cx="1625.73" cy="554.48" r="5.05"/>
<circle cx="1627.44" cy="603.59" r="5.05"/>
<circle cx="1629.34" cy="569.52" r="5.05"/>
<circle cx="1631.06" cy="602.07" r="5.05"/>
<circle cx="1633.15" cy="708.28" r="5.05"/>
<circle cx="1635.05" cy="611.59" r="5.05"/>
<circle cx="1636.77" cy="573.14" r="5.05"/>
<circle cx="1638.86" cy="565.71" r="5.05"/>
<circle cx="1640.76" cy="615.2" r="5.05"/>
<circle cx="1642.86" cy="550.29" r="5.05"/>
<circle cx="1644.57" cy="561.91" r="5.05"/>
<circle cx="1646.47" cy="586.08" r="5.05"/>
<circle cx="1648.57" cy="560.19" r="5.05"/>
<circle cx="1650.28" cy="584.37" r="5.05"/>
<circle cx="1652.18" cy="556.19" r="5.05"/>
<circle cx="1654.28" cy="552.01" r="5.05"/>
<circle cx="1655.99" cy="567.62" r="5.05"/>
<circle cx="1657.89" cy="558.29" r="5.05"/>
<circle cx="1659.99" cy="548.39" r="5.05"/>
<circle cx="1661.7" cy="544.58" r="5.05"/>
<circle cx="1663.61" cy="542.87" r="5.05"/>
<circle cx="1665.7" cy="540.97" r="5.05"/>
<circle cx="1667.6" cy="547.06" r="5.05"/>
</g>
<text x="1451.3" y="551.05" font-size="18.5" fill="#0000FF"><tspan font-style="italic">R</tspan><tspan dx="-0.9"> = </tspan><tspan dx="-0.4">0.78,</tspan> <tspan font-style="italic">p</tspan> &lt; 0.01</text>
<rect x="1440.5" y="531.35" width="237" height="237" fill="none" stroke="#000" stroke-width="1.4"/>
<rect x="1439.7" y="485.45" width="238.6" height="45.9" fill="#000"/>
<text x="1559" y="516.7" font-size="23.47" fill="#fff" text-anchor="middle">2021</text>
<path d="M1440.5 650.05h-8.4" stroke="#000" stroke-width="1.9" fill="none"/>
<path d="M1448.7 768.35v8.1M1486.77 768.35v8.1M1524.84 768.35v8.1M1562.91 768.35v8.1M1600.98 768.35v8.1M1639.05 768.35v8.1M1677.12 768.35v8.1" stroke="#000" stroke-width="1.6" fill="none"/>
<text x="1448.7" y="799.55" font-size="23.47" text-anchor="middle" fill="#000">0</text>
<text x="1486.77" y="799.55" font-size="23.47" text-anchor="middle" fill="#000">20</text>
<text x="1524.84" y="799.55" font-size="23.47" text-anchor="middle" fill="#000">40</text>
<text x="1562.91" y="799.55" font-size="23.47" text-anchor="middle" fill="#000">60</text>
<text x="1600.98" y="799.55" font-size="23.47" text-anchor="middle" fill="#000">80</text>
<text x="1639.05" y="799.55" font-size="23.47" text-anchor="middle" fill="#000">100</text>
<text x="1677.12" y="799.55" font-size="23.47" text-anchor="middle" fill="#000">120</text>
</g>
<g>
<rect x="1746" y="531.35" width="237" height="237" fill="#fff"/>
<path d="M1773.5 531.35V768.35M1746 741.22H1983M1811.5 531.35V768.35M1746 703.14H1983M1849.5 531.35V768.35M1746 665.08H1983M1887.5 531.35V768.35M1746 627H1983M1925.5 531.35V768.35M1746 588.93H1983M1963.5 531.35V768.35M1746 550.87H1983" stroke="#000" stroke-opacity="0.17" stroke-width="1" fill="none"/>
<path d="M1754.5 531.35V768.35M1746 760.25H1983M1792.5 531.35V768.35M1746 722.18H1983M1830.5 531.35V768.35M1746 684.11H1983M1868.5 531.35V768.35M1746 646.04H1983M1906.5 531.35V768.35M1746 607.97H1983M1944.5 531.35V768.35M1746 569.9H1983M1982.5 531.35V768.35M1746 531.83H1983" stroke="#000" stroke-opacity="0.3" stroke-width="1" fill="none"/>
<path d="M1756.1 724.01 L1758.82 722.07 L1761.53 720.12 L1764.24 718.18 L1766.95 716.23 L1769.67 714.28 L1772.38 712.33 L1775.09 710.38 L1777.8 708.42 L1780.52 706.46 L1783.23 704.5 L1785.94 702.54 L1788.65 700.57 L1791.37 698.6 L1794.08 696.62 L1796.79 694.64 L1799.5 692.66 L1802.22 690.68 L1804.93 688.68 L1807.64 686.69 L1810.35 684.69 L1813.07 682.68 L1815.78 680.67 L1818.49 678.65 L1821.2 676.62 L1823.92 674.59 L1826.63 672.55 L1829.34 670.5 L1832.05 668.44 L1834.77 666.38 L1837.48 664.3 L1840.19 662.22 L1842.9 660.12 L1845.62 658.02 L1848.33 655.9 L1851.04 653.77 L1853.75 651.63 L1856.47 649.47 L1859.18 647.31 L1861.89 645.13 L1864.6 642.94 L1867.32 640.74 L1870.03 638.52 L1872.74 636.29 L1875.45 634.05 L1878.17 631.8 L1880.88 629.53 L1883.59 627.26 L1886.3 624.97 L1889.02 622.67 L1891.73 620.36 L1894.44 618.04 L1897.15 615.71 L1899.87 613.38 L1902.58 611.03 L1905.29 608.68 L1908 606.31 L1910.72 603.95 L1913.43 601.57 L1916.14 599.19 L1918.85 596.8 L1921.57 594.41 L1924.28 592.01 L1926.99 589.61 L1929.7 587.2 L1932.42 584.79 L1935.13 582.37 L1937.84 579.95 L1940.55 577.53 L1943.27 575.1 L1945.98 572.67 L1948.69 570.24 L1951.4 567.8 L1954.12 565.37 L1956.83 562.93 L1959.54 560.48 L1962.25 558.04 L1964.97 555.59 L1967.68 553.14 L1970.39 550.69 L1973.1 548.24 L1973.1 575.69 L1970.39 577.63 L1967.68 579.57 L1964.97 581.52 L1962.25 583.46 L1959.54 585.41 L1956.83 587.36 L1954.12 589.32 L1951.4 591.27 L1948.69 593.23 L1945.98 595.19 L1943.27 597.16 L1940.55 599.13 L1937.84 601.1 L1935.13 603.07 L1932.42 605.05 L1929.7 607.03 L1926.99 609.02 L1924.28 611.01 L1921.57 613.01 L1918.85 615.01 L1916.14 617.01 L1913.43 619.03 L1910.72 621.05 L1908 623.07 L1905.29 625.1 L1902.58 627.14 L1899.87 629.19 L1897.15 631.25 L1894.44 633.32 L1891.73 635.39 L1889.02 637.48 L1886.3 639.57 L1883.59 641.68 L1880.88 643.8 L1878.17 645.93 L1875.45 648.07 L1872.74 650.22 L1870.03 652.38 L1867.32 654.56 L1864.6 656.75 L1861.89 658.96 L1859.18 661.17 L1856.47 663.4 L1853.75 665.64 L1851.04 667.9 L1848.33 670.16 L1845.62 672.44 L1842.9 674.73 L1840.19 677.02 L1837.48 679.33 L1834.77 681.65 L1832.05 683.98 L1829.34 686.32 L1826.63 688.66 L1823.92 691.02 L1821.2 693.38 L1818.49 695.75 L1815.78 698.12 L1813.07 700.5 L1810.35 702.89 L1807.64 705.28 L1804.93 707.68 L1802.22 710.09 L1799.5 712.49 L1796.79 714.91 L1794.08 717.32 L1791.37 719.74 L1788.65 722.16 L1785.94 724.59 L1783.23 727.02 L1780.52 729.45 L1777.8 731.89 L1775.09 734.33 L1772.38 736.77 L1769.67 739.21 L1766.95 741.66 L1764.24 744.1 L1761.53 746.55 L1758.82 749 L1756.1 751.45Z" fill="#999" fill-opacity="0.45"/>
<line x1="1756.1" y1="737.73" x2="1973.1" y2="561.96" stroke="#2748FF" stroke-width="5.9"/>
<g fill="#000" fill-opacity="0.5" stroke="#000" stroke-opacity="0.6" stroke-width="1.7">
<circle cx="1755.91" cy="757.78" r="5.05"/>
<circle cx="1757.82" cy="756.06" r="5.05"/>
<circle cx="1759.72" cy="741.22" r="5.05"/>
<circle cx="1761.43" cy="733.03" r="5.05"/>
<circle cx="1763.34" cy="710.19" r="5.05"/>
<circle cx="1765.43" cy="744.64" r="5.05"/>
<circle cx="1767.14" cy="754.16" r="5.05"/>
<circle cx="1769.05" cy="748.64" r="5.05"/>
<circle cx="1770.76" cy="752.45" r="5.05"/>
<circle cx="1772.85" cy="672.88" r="5.05"/>
<circle cx="1774.76" cy="693.44" r="5.05"/>
<circle cx="1776.66" cy="735.5" r="5.05"/>
<circle cx="1778.76" cy="750.35" r="5.05"/>
<circle cx="1780.66" cy="714.38" r="5.05"/>
<circle cx="1782.37" cy="674.78" r="5.05"/>
<circle cx="1784.47" cy="742.93" r="5.05"/>
<circle cx="1786.37" cy="668.12" r="5.05"/>
<circle cx="1788.08" cy="746.74" r="5.05"/>
<circle cx="1790.18" cy="700.86" r="5.05"/>
<circle cx="1792.08" cy="702.57" r="5.05"/>
<circle cx="1793.79" cy="628.34" r="5.05"/>
<circle cx="1795.89" cy="715.71" r="5.05"/>
<circle cx="1797.79" cy="609.87" r="5.05"/>
<circle cx="1799.88" cy="728.08" r="5.05"/>
<circle cx="1801.6" cy="708.28" r="5.05"/>
<circle cx="1803.5" cy="721.99" r="5.05"/>
<circle cx="1805.59" cy="670.6" r="5.05"/>
<circle cx="1807.31" cy="613.3" r="5.05"/>
<circle cx="1809.21" cy="630.62" r="5.05"/>
<circle cx="1811.11" cy="739.31" r="5.05"/>
<circle cx="1813.02" cy="704.48" r="5.05"/>
<circle cx="1814.92" cy="640.14" r="5.05"/>
<circle cx="1816.83" cy="723.7" r="5.05"/>
<circle cx="1818.73" cy="731.32" r="5.05"/>
<circle cx="1820.63" cy="737.22" r="5.05"/>
<circle cx="1822.54" cy="635.95" r="5.05"/>
<circle cx="1824.63" cy="624.72" r="5.05"/>
<circle cx="1826.34" cy="687.73" r="5.05"/>
<circle cx="1828.25" cy="678.02" r="5.05"/>
<circle cx="1830.34" cy="719.9" r="5.05"/>
<circle cx="1832.05" cy="654.99" r="5.05"/>
<circle cx="1833.96" cy="626.43" r="5.05"/>
<circle cx="1835.67" cy="697.05" r="5.05"/>
<circle cx="1837.76" cy="706.57" r="5.05"/>
<circle cx="1839.67" cy="683.92" r="5.05"/>
<circle cx="1841.38" cy="726.18" r="5.05"/>
<circle cx="1843.47" cy="647.56" r="5.05"/>
<circle cx="1845.38" cy="662.41" r="5.05"/>
<circle cx="1847.09" cy="656.89" r="5.05"/>
<circle cx="1849.18" cy="641.85" r="5.05"/>
<circle cx="1851.09" cy="645.47" r="5.05"/>
<circle cx="1853.18" cy="550.87" r="5.05"/>
<circle cx="1854.9" cy="659.17" r="5.05"/>
<circle cx="1856.8" cy="660.7" r="5.05"/>
<circle cx="1858.89" cy="712.47" r="5.05"/>
<circle cx="1860.8" cy="590.46" r="5.05"/>
<circle cx="1862.51" cy="600.36" r="5.05"/>
<circle cx="1864.41" cy="681.83" r="5.05"/>
<circle cx="1866.51" cy="691.72" r="5.05"/>
<circle cx="1868.22" cy="620.72" r="5.05"/>
<circle cx="1870.12" cy="651.75" r="5.05"/>
<circle cx="1872.03" cy="666.6" r="5.05"/>
<circle cx="1873.93" cy="633.86" r="5.05"/>
<circle cx="1875.83" cy="643.76" r="5.05"/>
<circle cx="1877.74" cy="685.44" r="5.05"/>
<circle cx="1879.64" cy="649.47" r="5.05"/>
<circle cx="1881.54" cy="729.41" r="5.05"/>
<circle cx="1883.64" cy="718.18" r="5.05"/>
<circle cx="1885.35" cy="617.11" r="5.05"/>
<circle cx="1887.25" cy="603.59" r="5.05"/>
<circle cx="1889.35" cy="699.15" r="5.05"/>
<circle cx="1891.06" cy="607.4" r="5.05"/>
<circle cx="1892.97" cy="694.58" r="5.05"/>
<circle cx="1895.06" cy="653.27" r="5.05"/>
<circle cx="1896.77" cy="611.59" r="5.05"/>
<circle cx="1898.68" cy="615.2" r="5.05"/>
<circle cx="1900.77" cy="622.82" r="5.05"/>
<circle cx="1902.48" cy="676.12" r="5.05"/>
<circle cx="1904.39" cy="664.88" r="5.05"/>
<circle cx="1906.48" cy="571.23" r="5.05"/>
<circle cx="1908.19" cy="592.17" r="5.05"/>
<circle cx="1910.1" cy="689.25" r="5.05"/>
<circle cx="1912.19" cy="584.75" r="5.05"/>
<circle cx="1914.09" cy="596.17" r="5.05"/>
<circle cx="1915.81" cy="597.88" r="5.05"/>
<circle cx="1917.9" cy="619.01" r="5.05"/>
<circle cx="1919.61" cy="679.73" r="5.05"/>
<circle cx="1921.52" cy="594.26" r="5.05"/>
<circle cx="1923.42" cy="569.52" r="5.05"/>
<circle cx="1925.32" cy="638.05" r="5.05"/>
<circle cx="1927.23" cy="588.55" r="5.05"/>
<circle cx="1929.13" cy="605.31" r="5.05"/>
<circle cx="1931.04" cy="576.94" r="5.05"/>
<circle cx="1932.94" cy="565.71" r="5.05"/>
<circle cx="1934.84" cy="575.04" r="5.05"/>
<circle cx="1936.56" cy="560.19" r="5.05"/>
<circle cx="1938.65" cy="554.48" r="5.05"/>
<circle cx="1940.55" cy="583.03" r="5.05"/>
<circle cx="1942.65" cy="632.14" r="5.05"/>
<circle cx="1944.36" cy="548.39" r="5.05"/>
<circle cx="1946.26" cy="578.85" r="5.05"/>
<circle cx="1948.36" cy="567.62" r="5.05"/>
<circle cx="1950.07" cy="586.84" r="5.05"/>
<circle cx="1951.97" cy="558.29" r="5.05"/>
<circle cx="1953.69" cy="561.91" r="5.05"/>
<circle cx="1955.78" cy="602.07" r="5.05"/>
<circle cx="1957.68" cy="563.81" r="5.05"/>
<circle cx="1959.78" cy="573.14" r="5.05"/>
<circle cx="1961.49" cy="544.58" r="5.05"/>
<circle cx="1963.39" cy="556.19" r="5.05"/>
<circle cx="1965.49" cy="581.13" r="5.05"/>
<circle cx="1967.2" cy="552.01" r="5.05"/>
<circle cx="1969.11" cy="542.87" r="5.05"/>
<circle cx="1971.2" cy="546.3" r="5.05"/>
<circle cx="1973.1" cy="540.97" r="5.05"/>
</g>
<text x="1756.8" y="551.05" font-size="18.5" fill="#0000FF"><tspan font-style="italic">R</tspan><tspan dx="-0.9"> = </tspan><tspan dx="-0.4">0.81,</tspan> <tspan font-style="italic">p</tspan> &lt; 0.01</text>
<rect x="1746" y="531.35" width="237" height="237" fill="none" stroke="#000" stroke-width="1.4"/>
<rect x="1745.2" y="485.45" width="238.6" height="45.9" fill="#000"/>
<text x="1864.5" y="516.7" font-size="23.47" fill="#fff" text-anchor="middle">2022</text>
<path d="M1746 650.05h-8.4" stroke="#000" stroke-width="1.9" fill="none"/>
<path d="M1754.2 768.35v8.1M1792.27 768.35v8.1M1830.34 768.35v8.1M1868.41 768.35v8.1M1906.48 768.35v8.1M1944.55 768.35v8.1M1982.62 768.35v8.1" stroke="#000" stroke-width="1.6" fill="none"/>
<text x="1754.2" y="799.55" font-size="23.47" text-anchor="middle" fill="#000">0</text>
<text x="1792.27" y="799.55" font-size="23.47" text-anchor="middle" fill="#000">20</text>
<text x="1830.34" y="799.55" font-size="23.47" text-anchor="middle" fill="#000">40</text>
<text x="1868.41" y="799.55" font-size="23.47" text-anchor="middle" fill="#000">60</text>
<text x="1906.48" y="799.55" font-size="23.47" text-anchor="middle" fill="#000">80</text>
<text x="1944.55" y="799.55" font-size="23.47" text-anchor="middle" fill="#000">100</text>
<text x="1982.62" y="799.55" font-size="23.47" text-anchor="middle" fill="#000">120</text>
</g>
<g>
<rect x="2051.5" y="531.35" width="237" height="237" fill="#fff"/>
<path d="M2078.5 531.35V768.35M2051.5 741.22H2288.5M2116.5 531.35V768.35M2051.5 703.14H2288.5M2154.5 531.35V768.35M2051.5 665.08H2288.5M2192.5 531.35V768.35M2051.5 627H2288.5M2231.5 531.35V768.35M2051.5 588.93H2288.5M2269.5 531.35V768.35M2051.5 550.87H2288.5" stroke="#000" stroke-opacity="0.17" stroke-width="1" fill="none"/>
<path d="M2059.5 531.35V768.35M2051.5 760.25H2288.5M2097.5 531.35V768.35M2051.5 722.18H2288.5M2135.5 531.35V768.35M2051.5 684.11H2288.5M2173.5 531.35V768.35M2051.5 646.04H2288.5M2211.5 531.35V768.35M2051.5 607.97H2288.5M2250.5 531.35V768.35M2051.5 569.9H2288.5M2288.5 531.35V768.35M2051.5 531.83H2288.5" stroke="#000" stroke-opacity="0.3" stroke-width="1" fill="none"/>
<path d="M2061.6 721.21 L2064.32 719.34 L2067.03 717.46 L2069.74 715.58 L2072.45 713.7 L2075.17 711.82 L2077.88 709.93 L2080.59 708.04 L2083.3 706.15 L2086.02 704.26 L2088.73 702.36 L2091.44 700.46 L2094.15 698.56 L2096.87 696.65 L2099.58 694.74 L2102.29 692.83 L2105 690.91 L2107.72 688.99 L2110.43 687.06 L2113.14 685.13 L2115.85 683.19 L2118.57 681.24 L2121.28 679.29 L2123.99 677.34 L2126.7 675.37 L2129.42 673.4 L2132.13 671.42 L2134.84 669.44 L2137.55 667.44 L2140.27 665.43 L2142.98 663.42 L2145.69 661.39 L2148.4 659.36 L2151.12 657.31 L2153.83 655.25 L2156.54 653.18 L2159.25 651.09 L2161.97 649 L2164.68 646.89 L2167.39 644.76 L2170.1 642.63 L2172.82 640.48 L2175.53 638.31 L2178.24 636.14 L2180.95 633.95 L2183.67 631.75 L2186.38 629.53 L2189.09 627.31 L2191.8 625.07 L2194.52 622.82 L2197.23 620.56 L2199.94 618.29 L2202.65 616.01 L2205.37 613.72 L2208.08 611.42 L2210.79 609.12 L2213.5 606.8 L2216.22 604.48 L2218.93 602.15 L2221.64 599.81 L2224.35 597.47 L2227.07 595.13 L2229.78 592.77 L2232.49 590.41 L2235.2 588.05 L2237.92 585.68 L2240.63 583.31 L2243.34 580.94 L2246.05 578.56 L2248.77 576.17 L2251.48 573.79 L2254.19 571.4 L2256.9 569.01 L2259.62 566.61 L2262.33 564.21 L2265.04 561.82 L2267.75 559.41 L2270.47 557.01 L2273.18 554.6 L2275.89 552.19 L2278.6 549.79 L2278.6 578.48 L2275.89 580.36 L2273.18 582.23 L2270.47 584.11 L2267.75 585.99 L2265.04 587.88 L2262.33 589.76 L2259.62 591.65 L2256.9 593.54 L2254.19 595.44 L2251.48 597.33 L2248.77 599.23 L2246.05 601.14 L2243.34 603.04 L2240.63 604.95 L2237.92 606.87 L2235.2 608.79 L2232.49 610.71 L2229.78 612.64 L2227.07 614.57 L2224.35 616.51 L2221.64 618.45 L2218.93 620.4 L2216.22 622.36 L2213.5 624.32 L2210.79 626.29 L2208.08 628.27 L2205.37 630.26 L2202.65 632.25 L2199.94 634.26 L2197.23 636.28 L2194.52 638.3 L2191.8 640.34 L2189.09 642.39 L2186.38 644.45 L2183.67 646.52 L2180.95 648.6 L2178.24 650.7 L2175.53 652.81 L2172.82 654.93 L2170.1 657.07 L2167.39 659.22 L2164.68 661.38 L2161.97 663.56 L2159.25 665.74 L2156.54 667.95 L2153.83 670.16 L2151.12 672.39 L2148.4 674.62 L2145.69 676.87 L2142.98 679.13 L2140.27 681.4 L2137.55 683.68 L2134.84 685.97 L2132.13 688.27 L2129.42 690.58 L2126.7 692.89 L2123.99 695.21 L2121.28 697.54 L2118.57 699.88 L2115.85 702.22 L2113.14 704.57 L2110.43 706.92 L2107.72 709.28 L2105 711.64 L2102.29 714.01 L2099.58 716.38 L2096.87 718.76 L2094.15 721.14 L2091.44 723.52 L2088.73 725.91 L2086.02 728.29 L2083.3 730.69 L2080.59 733.08 L2077.88 735.48 L2075.17 737.88 L2072.45 740.28 L2069.74 742.68 L2067.03 745.09 L2064.32 747.5 L2061.6 749.91Z" fill="#999" fill-opacity="0.45"/>
<line x1="2061.6" y1="735.56" x2="2278.6" y2="564.13" stroke="#2748FF" stroke-width="5.9"/>
<g fill="#000" fill-opacity="0.5" stroke="#000" stroke-opacity="0.6" stroke-width="1.7">
<circle cx="2060.84" cy="756.63" r="5.05"/>
<circle cx="2062.94" cy="757.78" r="5.05"/>
<circle cx="2064.65" cy="739.31" r="5.05"/>
<circle cx="2066.36" cy="729.41" r="5.05"/>
<circle cx="2068.84" cy="704.48" r="5.05"/>
<circle cx="2070.36" cy="744.26" r="5.05"/>
<circle cx="2072.64" cy="754.16" r="5.05"/>
<circle cx="2074.55" cy="750.35" r="5.05"/>
<circle cx="2076.45" cy="647.56" r="5.05"/>
<circle cx="2078.35" cy="746.74" r="5.05"/>
<circle cx="2080.26" cy="741.22" r="5.05"/>
<circle cx="2082.16" cy="748.64" r="5.05"/>
<circle cx="2084.26" cy="681.83" r="5.05"/>
<circle cx="2085.97" cy="712.47" r="5.05"/>
<circle cx="2087.87" cy="725.61" r="5.05"/>
<circle cx="2089.97" cy="736.84" r="5.05"/>
<circle cx="2091.68" cy="752.45" r="5.05"/>
<circle cx="2093.58" cy="615.2" r="5.05"/>
<circle cx="2095.68" cy="666.6" r="5.05"/>
<circle cx="2097.58" cy="715.71" r="5.05"/>
<circle cx="2099.29" cy="719.9" r="5.05"/>
<circle cx="2101.39" cy="699.53" r="5.05"/>
<circle cx="2103.29" cy="672.88" r="5.05"/>
<circle cx="2105" cy="697.05" r="5.05"/>
<circle cx="2107.1" cy="718.18" r="5.05"/>
<circle cx="2109" cy="632.14" r="5.05"/>
<circle cx="2110.71" cy="735.12" r="5.05"/>
<circle cx="2112.81" cy="700.86" r="5.05"/>
<circle cx="2114.71" cy="721.99" r="5.05"/>
<circle cx="2116.42" cy="619.01" r="5.05"/>
<circle cx="2118.52" cy="742.93" r="5.05"/>
<circle cx="2120.42" cy="668.12" r="5.05"/>
<circle cx="2122.33" cy="620.72" r="5.05"/>
<circle cx="2124.23" cy="654.99" r="5.05"/>
<circle cx="2126.13" cy="633.86" r="5.05"/>
<circle cx="2128.04" cy="702.57" r="5.05"/>
<circle cx="2129.75" cy="659.17" r="5.05"/>
<circle cx="2131.84" cy="728.08" r="5.05"/>
<circle cx="2133.75" cy="687.73" r="5.05"/>
<circle cx="2135.46" cy="630.62" r="5.05"/>
<circle cx="2137.55" cy="652.89" r="5.05"/>
<circle cx="2139.46" cy="689.25" r="5.05"/>
<circle cx="2141.17" cy="607.4" r="5.05"/>
<circle cx="2143.26" cy="710" r="5.05"/>
<circle cx="2145.17" cy="706.57" r="5.05"/>
<circle cx="2146.88" cy="676.12" r="5.05"/>
<circle cx="2148.97" cy="664.88" r="5.05"/>
<circle cx="2150.88" cy="723.7" r="5.05"/>
<circle cx="2152.59" cy="624.72" r="5.05"/>
<circle cx="2154.68" cy="660.7" r="5.05"/>
<circle cx="2156.59" cy="649.47" r="5.05"/>
<circle cx="2158.68" cy="651.75" r="5.05"/>
<circle cx="2160.4" cy="731.32" r="5.05"/>
<circle cx="2162.3" cy="609.87" r="5.05"/>
<circle cx="2164.39" cy="645.47" r="5.05"/>
<circle cx="2166.11" cy="691.72" r="5.05"/>
<circle cx="2168.01" cy="550.87" r="5.05"/>
<circle cx="2169.91" cy="678.59" r="5.05"/>
<circle cx="2171.82" cy="602.07" r="5.05"/>
<circle cx="2173.72" cy="641.85" r="5.05"/>
<circle cx="2175.62" cy="617.11" r="5.05"/>
<circle cx="2177.53" cy="708.28" r="5.05"/>
<circle cx="2179.43" cy="622.82" r="5.05"/>
<circle cx="2181.33" cy="638.05" r="5.05"/>
<circle cx="2183.05" cy="674.02" r="5.05"/>
<circle cx="2185.14" cy="605.31" r="5.05"/>
<circle cx="2187.04" cy="686.01" r="5.05"/>
<circle cx="2188.76" cy="657.46" r="5.05"/>
<circle cx="2190.85" cy="636.33" r="5.05"/>
<circle cx="2192.75" cy="603.59" r="5.05"/>
<circle cx="2194.85" cy="584.37" r="5.05"/>
<circle cx="2196.56" cy="733.6" r="5.05"/>
<circle cx="2198.47" cy="592.55" r="5.05"/>
<circle cx="2200.56" cy="626.43" r="5.05"/>
<circle cx="2202.27" cy="643.76" r="5.05"/>
<circle cx="2204.18" cy="695.15" r="5.05"/>
<circle cx="2206.27" cy="715.71" r="5.05"/>
<circle cx="2207.98" cy="571.23" r="5.05"/>
<circle cx="2209.89" cy="590.46" r="5.05"/>
<circle cx="2211.98" cy="628.34" r="5.05"/>
<circle cx="2213.69" cy="683.92" r="5.05"/>
<circle cx="2215.6" cy="693.44" r="5.05"/>
<circle cx="2217.69" cy="662.98" r="5.05"/>
<circle cx="2219.59" cy="586.84" r="5.05"/>
<circle cx="2221.31" cy="580.56" r="5.05"/>
<circle cx="2223.21" cy="670.6" r="5.05"/>
<circle cx="2225.3" cy="583.03" r="5.05"/>
<circle cx="2227.02" cy="680.3" r="5.05"/>
<circle cx="2228.92" cy="640.14" r="5.05"/>
<circle cx="2231.01" cy="596.74" r="5.05"/>
<circle cx="2232.73" cy="611.59" r="5.05"/>
<circle cx="2234.63" cy="554.48" r="5.05"/>
<circle cx="2236.73" cy="575.04" r="5.05"/>
<circle cx="2238.44" cy="573.14" r="5.05"/>
<circle cx="2240.34" cy="578.85" r="5.05"/>
<circle cx="2242.06" cy="597.88" r="5.05"/>
<circle cx="2244.15" cy="563.81" r="5.05"/>
<circle cx="2246.05" cy="613.3" r="5.05"/>
<circle cx="2247.77" cy="599.98" r="5.05"/>
<circle cx="2249.86" cy="567.62" r="5.05"/>
<circle cx="2251.76" cy="594.26" r="5.05"/>
<circle cx="2253.86" cy="569.52" r="5.05"/>
<circle cx="2255.57" cy="544.58" r="5.05"/>
<circle cx="2257.47" cy="558.29" r="5.05"/>
<circle cx="2259.57" cy="561.91" r="5.05"/>
<circle cx="2261.28" cy="565.71" r="5.05"/>
<circle cx="2263.18" cy="588.55" r="5.05"/>
<circle cx="2265.28" cy="576.94" r="5.05"/>
<circle cx="2266.99" cy="560.19" r="5.05"/>
<circle cx="2268.89" cy="556.19" r="5.05"/>
<circle cx="2270.99" cy="552.01" r="5.05"/>
<circle cx="2272.7" cy="548.39" r="5.05"/>
<circle cx="2274.61" cy="544.58" r="5.05"/>
<circle cx="2276.7" cy="542.87" r="5.05"/>
<circle cx="2278.6" cy="540.97" r="5.05"/>
</g>
<text x="2062.3" y="551.05" font-size="18.5" fill="#0000FF"><tspan font-style="italic">R</tspan><tspan dx="-0.9"> = </tspan><tspan dx="-0.4">0.79,</tspan> <tspan font-style="italic">p</tspan> &lt; 0.01</text>
<rect x="2051.5" y="531.35" width="237" height="237" fill="none" stroke="#000" stroke-width="1.4"/>
<rect x="2050.7" y="485.45" width="238.6" height="45.9" fill="#000"/>
<text x="2170" y="516.7" font-size="23.47" fill="#fff" text-anchor="middle">2023</text>
<path d="M2051.5 650.05h-8.4" stroke="#000" stroke-width="1.9" fill="none"/>
<path d="M2059.7 768.35v8.1M2097.77 768.35v8.1M2135.84 768.35v8.1M2173.91 768.35v8.1M2211.98 768.35v8.1M2250.05 768.35v8.1M2288.12 768.35v8.1" stroke="#000" stroke-width="1.6" fill="none"/>
<text x="2059.7" y="799.55" font-size="23.47" text-anchor="middle" fill="#000">0</text>
<text x="2097.77" y="799.55" font-size="23.47" text-anchor="middle" fill="#000">20</text>
<text x="2135.84" y="799.55" font-size="23.47" text-anchor="middle" fill="#000">40</text>
<text x="2173.91" y="799.55" font-size="23.47" text-anchor="middle" fill="#000">60</text>
<text x="2211.98" y="799.55" font-size="23.47" text-anchor="middle" fill="#000">80</text>
<text x="2250.05" y="799.55" font-size="23.47" text-anchor="middle" fill="#000">100</text>
<text x="2288.12" y="799.55" font-size="23.47" text-anchor="middle" fill="#000">120</text>
</g>
</svg>
</body></html>
